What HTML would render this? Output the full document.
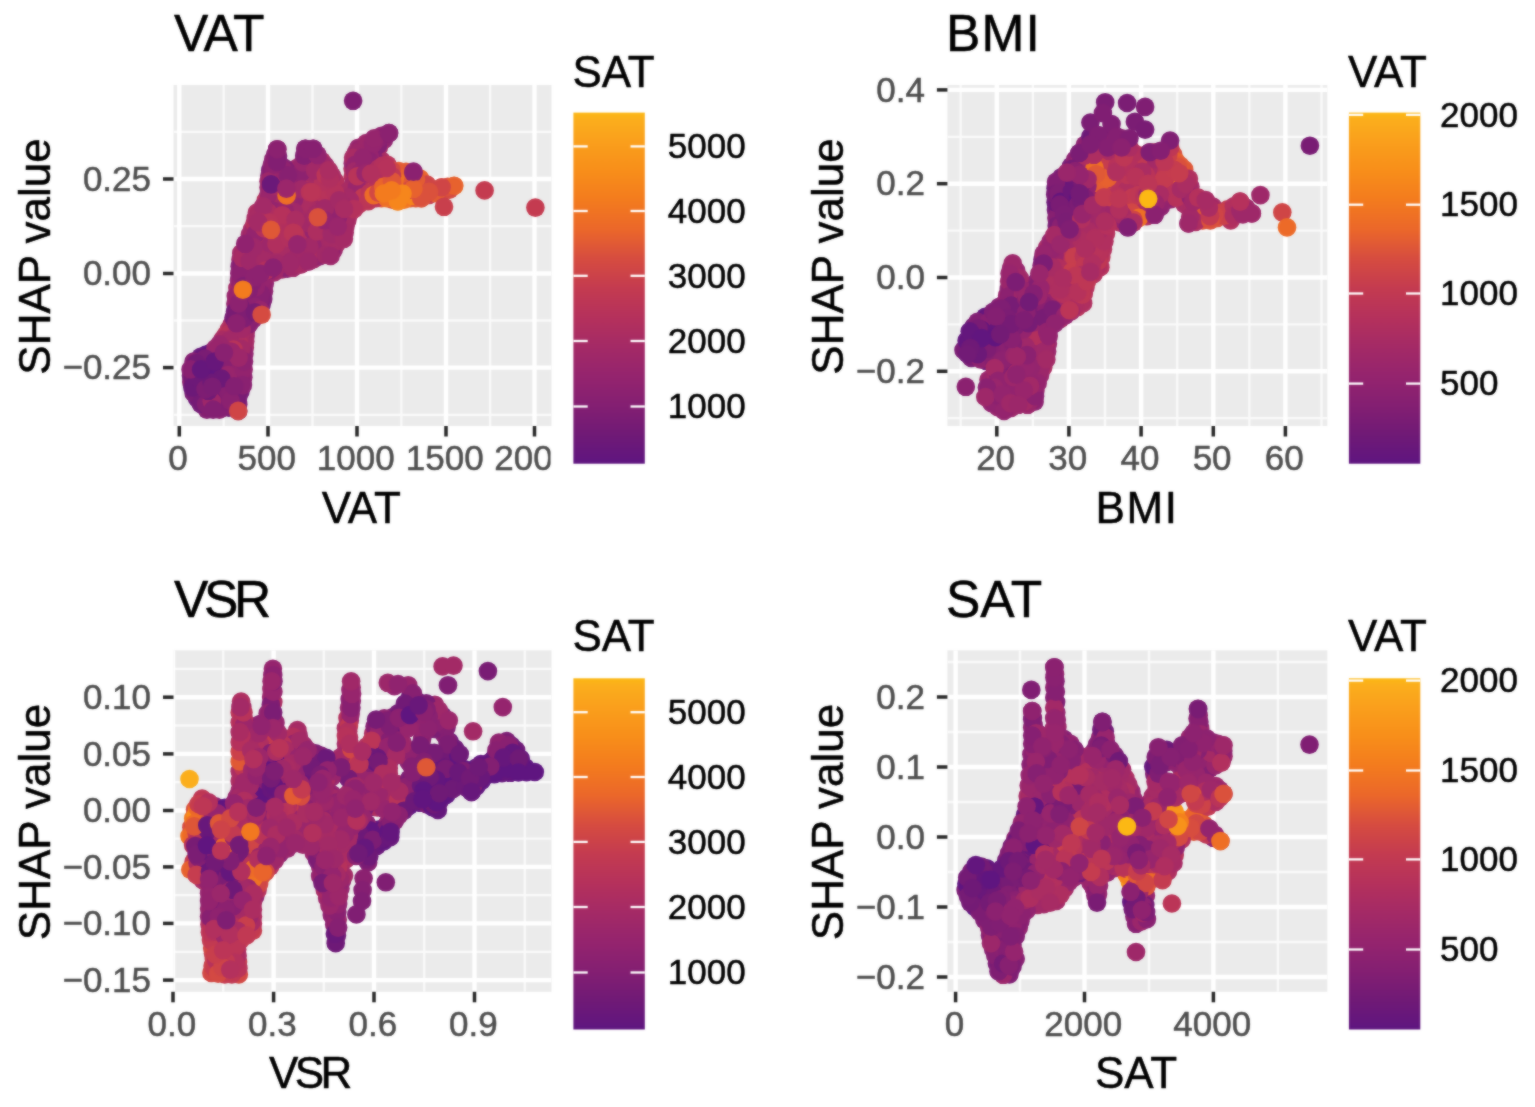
<!DOCTYPE html>
<html lang="en">
<head>
<meta charset="utf-8">
<title>SHAP dependence plots</title>
<style>
html,body{margin:0;padding:0;background:#fff;}
body{width:1535px;height:1107px;overflow:hidden;}
svg{display:block;font-family:"Liberation Sans", Arial, Helvetica, sans-serif;}
svg text{font-family:"Liberation Sans", Arial, Helvetica, sans-serif;stroke-width:0.5px;stroke-linejoin:round;paint-order:stroke fill;}
svg text.k{stroke:#000;}
svg g.t text{stroke:#4D4D4D;}
svg g.l text{stroke:#000;}

</style>
</head>
<body>
<svg width="1535" height="1107" viewBox="0 0 1535 1107" role="img" aria-label="SHAP dependence plots for VAT, BMI, VSR and SAT">
<defs><filter id="soft" x="0" y="0" width="1535" height="1107" filterUnits="userSpaceOnUse" color-interpolation-filters="sRGB"><feGaussianBlur in="SourceGraphic" stdDeviation="0.9" result="b"/><feComposite in="SourceGraphic" in2="b" operator="arithmetic" k1="0" k2="0.45" k3="0.55" k4="0"/></filter></defs>
<g filter="url(#soft)">
<rect width="1535" height="1107" fill="#FFFFFF"/>
<g class="panel" id="p1">
<rect x="173.5" y="85" width="378" height="341" fill="#EBEBEB"/>
<clipPath id="clip-p1"><rect x="173.5" y="85" width="378" height="341"/></clipPath>
<g clip-path="url(#clip-p1)">
<line x1="223.7" x2="223.7" y1="85" y2="426" stroke="#FAFAFA" stroke-width="2.3"/>
<line x1="312.5" x2="312.5" y1="85" y2="426" stroke="#FAFAFA" stroke-width="2.3"/>
<line x1="401.3" x2="401.3" y1="85" y2="426" stroke="#FAFAFA" stroke-width="2.3"/>
<line x1="490.1" x2="490.1" y1="85" y2="426" stroke="#FAFAFA" stroke-width="2.3"/>
<line x1="173.5" x2="551.5" y1="131.8" y2="131.8" stroke="#FAFAFA" stroke-width="2.3"/>
<line x1="173.5" x2="551.5" y1="226.2" y2="226.2" stroke="#FAFAFA" stroke-width="2.3"/>
<line x1="173.5" x2="551.5" y1="320.5" y2="320.5" stroke="#FAFAFA" stroke-width="2.3"/>
<line x1="173.5" x2="551.5" y1="414.8" y2="414.8" stroke="#FAFAFA" stroke-width="2.3"/>
<line x1="179.3" x2="179.3" y1="85" y2="426" stroke="#FFFFFF" stroke-width="4.4"/>
<line x1="268" x2="268" y1="85" y2="426" stroke="#FFFFFF" stroke-width="4.4"/>
<line x1="357" x2="357" y1="85" y2="426" stroke="#FFFFFF" stroke-width="4.4"/>
<line x1="446" x2="446" y1="85" y2="426" stroke="#FFFFFF" stroke-width="4.4"/>
<line x1="534.5" x2="534.5" y1="85" y2="426" stroke="#FFFFFF" stroke-width="4.4"/>
<line x1="173.5" x2="551.5" y1="179" y2="179" stroke="#FFFFFF" stroke-width="4.4"/>
<line x1="173.5" x2="551.5" y1="273.5" y2="273.5" stroke="#FFFFFF" stroke-width="4.4"/>
<line x1="173.5" x2="551.5" y1="367.6" y2="367.6" stroke="#FFFFFF" stroke-width="4.4"/>
</g>
<g class="points">
<circle cx="375.7" cy="156.3" r="9.3" fill="#99266C"/>
<circle cx="424.7" cy="194.4" r="9.3" fill="#E9652C"/>
<circle cx="313.2" cy="148.8" r="9.3" fill="#801E73"/>
<circle cx="318.5" cy="173" r="9.3" fill="#AF2E60"/>
<circle cx="352.8" cy="176.6" r="9.3" fill="#B3305D"/>
<circle cx="377.3" cy="182.7" r="9.3" fill="#CD4448"/>
<circle cx="268.6" cy="187.6" r="9.3" fill="#9B276B"/>
<circle cx="244" cy="268.5" r="9.3" fill="#97256D"/>
<circle cx="275.4" cy="180.5" r="9.3" fill="#872071"/>
<circle cx="358.5" cy="147.7" r="9.3" fill="#97256D"/>
<circle cx="222.9" cy="386.9" r="9.3" fill="#731B75"/>
<circle cx="197.1" cy="398.4" r="9.3" fill="#6D1978"/>
<circle cx="261.2" cy="244.7" r="9.3" fill="#A52A66"/>
<circle cx="283.4" cy="195.5" r="9.3" fill="#9C276A"/>
<circle cx="257.7" cy="301.3" r="9.3" fill="#781C74"/>
<circle cx="280.6" cy="246.9" r="9.3" fill="#B12F5E"/>
<circle cx="422" cy="190.1" r="9.3" fill="#ED6C27"/>
<circle cx="260.6" cy="246.7" r="9.3" fill="#9E2769"/>
<circle cx="269.8" cy="231.6" r="9.3" fill="#94246E"/>
<circle cx="308.4" cy="203.4" r="9.3" fill="#B83359"/>
<circle cx="340.3" cy="221.4" r="9.3" fill="#97256D"/>
<circle cx="408.7" cy="176.6" r="9.3" fill="#CE4447"/>
<circle cx="340.8" cy="215.1" r="9.3" fill="#A72B64"/>
<circle cx="273.3" cy="159.4" r="9.3" fill="#8D2270"/>
<circle cx="328.8" cy="226.9" r="9.3" fill="#9F2869"/>
<circle cx="307.7" cy="228.2" r="9.3" fill="#AC2D61"/>
<circle cx="328.3" cy="188.3" r="9.3" fill="#C33A51"/>
<circle cx="307.1" cy="172.9" r="9.3" fill="#97256D"/>
<circle cx="245.6" cy="335.8" r="9.3" fill="#9D276A"/>
<circle cx="358.9" cy="158.5" r="9.3" fill="#9E2869"/>
<circle cx="206.9" cy="409.6" r="9.3" fill="#851F72"/>
<circle cx="242" cy="265.5" r="9.3" fill="#A52B65"/>
<circle cx="350.9" cy="196" r="9.3" fill="#A12968"/>
<circle cx="253.1" cy="261.1" r="9.3" fill="#882071"/>
<circle cx="307.7" cy="162.7" r="9.3" fill="#9A266C"/>
<circle cx="289.2" cy="209.7" r="9.3" fill="#90236F"/>
<circle cx="218.4" cy="375.2" r="9.3" fill="#6D1978"/>
<circle cx="300.2" cy="261.8" r="9.3" fill="#99256C"/>
<circle cx="295.8" cy="189.1" r="9.3" fill="#8D2270"/>
<circle cx="350.1" cy="210.9" r="9.3" fill="#B6315B"/>
<circle cx="242.3" cy="318.7" r="9.3" fill="#731B75"/>
<circle cx="256.9" cy="314.7" r="9.3" fill="#8C2170"/>
<circle cx="214.9" cy="407.1" r="9.3" fill="#8A2171"/>
<circle cx="289.1" cy="250" r="9.3" fill="#AF2F5F"/>
<circle cx="442.7" cy="191.4" r="9.3" fill="#CA414B"/>
<circle cx="314" cy="259" r="9.3" fill="#A12968"/>
<circle cx="318.8" cy="200.6" r="9.3" fill="#AC2D61"/>
<circle cx="293.7" cy="184.2" r="9.3" fill="#9B266B"/>
<circle cx="281.9" cy="198.2" r="9.3" fill="#8D2270"/>
<circle cx="245.8" cy="252.6" r="9.3" fill="#96246E"/>
<circle cx="289.1" cy="228.3" r="9.3" fill="#AA2D62"/>
<circle cx="282" cy="269.4" r="9.3" fill="#A12968"/>
<circle cx="245.2" cy="276.9" r="9.3" fill="#862072"/>
<circle cx="235.9" cy="321.7" r="9.3" fill="#882071"/>
<circle cx="276.9" cy="198.2" r="9.3" fill="#A32A67"/>
<circle cx="294.3" cy="176" r="9.3" fill="#A12967"/>
<circle cx="316.7" cy="187.8" r="9.3" fill="#AF2F5F"/>
<circle cx="277.4" cy="168.5" r="9.3" fill="#7F1E73"/>
<circle cx="321.8" cy="161" r="9.3" fill="#AB2D62"/>
<circle cx="244.2" cy="298.8" r="9.3" fill="#91236F"/>
<circle cx="307.2" cy="239.2" r="9.3" fill="#A82B64"/>
<circle cx="316.8" cy="184.1" r="9.3" fill="#B6325B"/>
<circle cx="397.8" cy="201.3" r="9.3" fill="#F17621"/>
<circle cx="249.4" cy="310.5" r="9.3" fill="#7C1D74"/>
<circle cx="273.5" cy="269" r="9.3" fill="#AE2E60"/>
<circle cx="245.2" cy="265.3" r="9.3" fill="#99266C"/>
<circle cx="342.1" cy="198.5" r="9.3" fill="#B4315D"/>
<circle cx="289.5" cy="187.7" r="9.3" fill="#A22967"/>
<circle cx="232.5" cy="358.9" r="9.3" fill="#882071"/>
<circle cx="322" cy="166" r="9.3" fill="#A32967"/>
<circle cx="422.6" cy="184.6" r="9.3" fill="#DA513C"/>
<circle cx="270.2" cy="170.4" r="9.3" fill="#7B1D74"/>
<circle cx="415.8" cy="198.2" r="9.3" fill="#DF5836"/>
<circle cx="301.5" cy="213.4" r="9.3" fill="#A32A67"/>
<circle cx="235.7" cy="343.1" r="9.3" fill="#BD3656"/>
<circle cx="330.3" cy="214.7" r="9.3" fill="#A72B64"/>
<circle cx="337.1" cy="231.5" r="9.3" fill="#9E2869"/>
<circle cx="193.1" cy="371.2" r="9.3" fill="#93236F"/>
<circle cx="263" cy="231.9" r="9.3" fill="#AA2C63"/>
<circle cx="284.4" cy="245.3" r="9.3" fill="#B4305D"/>
<circle cx="283.1" cy="227.4" r="9.3" fill="#B3305D"/>
<circle cx="320.7" cy="195.1" r="9.3" fill="#A92C63"/>
<circle cx="228.8" cy="407.7" r="9.3" fill="#761B75"/>
<circle cx="362.7" cy="165.5" r="9.3" fill="#8B2170"/>
<circle cx="339.6" cy="237.2" r="9.3" fill="#9F2869"/>
<circle cx="300.1" cy="220.5" r="9.3" fill="#AD2E61"/>
<circle cx="201.4" cy="374.9" r="9.3" fill="#701A76"/>
<circle cx="216.2" cy="399" r="9.3" fill="#851F72"/>
<circle cx="245.2" cy="341.3" r="9.3" fill="#A62B65"/>
<circle cx="381.4" cy="198.2" r="9.3" fill="#E25B34"/>
<circle cx="214.5" cy="403.1" r="9.3" fill="#90226F"/>
<circle cx="268" cy="199.4" r="9.3" fill="#96246E"/>
<circle cx="242.3" cy="358.3" r="9.3" fill="#751B75"/>
<circle cx="299.1" cy="173.6" r="9.3" fill="#91236F"/>
<circle cx="362.6" cy="176.7" r="9.3" fill="#A42A66"/>
<circle cx="384.4" cy="184.8" r="9.3" fill="#E25B34"/>
<circle cx="315.4" cy="178.5" r="9.3" fill="#A02968"/>
<circle cx="300.3" cy="224.5" r="9.3" fill="#B8335A"/>
<circle cx="277" cy="192.7" r="9.3" fill="#98256C"/>
<circle cx="314.6" cy="160.7" r="9.3" fill="#8E2270"/>
<circle cx="301" cy="240.7" r="9.3" fill="#99266C"/>
<circle cx="312.1" cy="202.9" r="9.3" fill="#AF2F5F"/>
<circle cx="229.8" cy="393.4" r="9.3" fill="#791C74"/>
<circle cx="327.5" cy="197.7" r="9.3" fill="#9F2869"/>
<circle cx="352.6" cy="168.8" r="9.3" fill="#AF2E60"/>
<circle cx="319.1" cy="213.3" r="9.3" fill="#A72B64"/>
<circle cx="387.4" cy="171.3" r="9.3" fill="#B3305D"/>
<circle cx="302.9" cy="256.3" r="9.3" fill="#AE2E60"/>
<circle cx="279.5" cy="186.4" r="9.3" fill="#98256D"/>
<circle cx="407" cy="184.8" r="9.3" fill="#EC6929"/>
<circle cx="310" cy="200.1" r="9.3" fill="#AE2E60"/>
<circle cx="231.9" cy="324.1" r="9.3" fill="#A32A66"/>
<circle cx="249.1" cy="245.5" r="9.3" fill="#9F2869"/>
<circle cx="390.3" cy="193.9" r="9.3" fill="#E8632E"/>
<circle cx="285.2" cy="219.9" r="9.3" fill="#A12968"/>
<circle cx="198.5" cy="383" r="9.3" fill="#63167E"/>
<circle cx="248.5" cy="281.6" r="9.3" fill="#862071"/>
<circle cx="340.6" cy="228.1" r="9.3" fill="#A12968"/>
<circle cx="228.8" cy="329.6" r="9.3" fill="#B02F5F"/>
<circle cx="383.9" cy="140" r="9.3" fill="#91236F"/>
<circle cx="252.4" cy="304.2" r="9.3" fill="#8F226F"/>
<circle cx="329.9" cy="240" r="9.3" fill="#AE2E60"/>
<circle cx="252.2" cy="229" r="9.3" fill="#AA2C63"/>
<circle cx="260.6" cy="229.1" r="9.3" fill="#A22967"/>
<circle cx="333.3" cy="190.1" r="9.3" fill="#BE3755"/>
<circle cx="287.5" cy="215.1" r="9.3" fill="#9B266B"/>
<circle cx="345.6" cy="203.2" r="9.3" fill="#AD2E61"/>
<circle cx="249.9" cy="234.5" r="9.3" fill="#A12968"/>
<circle cx="233.2" cy="332.3" r="9.3" fill="#BB3557"/>
<circle cx="378.9" cy="146.9" r="9.3" fill="#A62B65"/>
<circle cx="244.8" cy="347.6" r="9.3" fill="#A42A66"/>
<circle cx="207.9" cy="374.2" r="9.3" fill="#791C74"/>
<circle cx="320.5" cy="198.7" r="9.3" fill="#B6325B"/>
<circle cx="336" cy="196.9" r="9.3" fill="#AD2E61"/>
<circle cx="263.5" cy="237.4" r="9.3" fill="#AA2C63"/>
<circle cx="381.6" cy="160.6" r="9.3" fill="#A92C63"/>
<circle cx="337.4" cy="203.5" r="9.3" fill="#A92C63"/>
<circle cx="367.6" cy="183.7" r="9.3" fill="#A92C63"/>
<circle cx="215.2" cy="359.6" r="9.3" fill="#6A1879"/>
<circle cx="303" cy="180.2" r="9.3" fill="#AA2D62"/>
<circle cx="364.1" cy="149.7" r="9.3" fill="#801E73"/>
<circle cx="329.4" cy="242.5" r="9.3" fill="#93236F"/>
<circle cx="203.8" cy="386.3" r="9.3" fill="#9F2869"/>
<circle cx="398.7" cy="171.1" r="9.3" fill="#E35C33"/>
<circle cx="210.5" cy="357.6" r="9.3" fill="#6C1978"/>
<circle cx="259" cy="235.4" r="9.3" fill="#A32A67"/>
<circle cx="441.6" cy="187.5" r="9.3" fill="#DC533A"/>
<circle cx="238.2" cy="404.2" r="9.3" fill="#7D1D73"/>
<circle cx="261.6" cy="304.6" r="9.3" fill="#721A76"/>
<circle cx="231.4" cy="371" r="9.3" fill="#8F226F"/>
<circle cx="270.3" cy="261.2" r="9.3" fill="#B12F5F"/>
<circle cx="392.4" cy="199.7" r="9.3" fill="#D84F3D"/>
<circle cx="254.6" cy="223.5" r="9.3" fill="#B3305D"/>
<circle cx="278.2" cy="172.4" r="9.3" fill="#8D2270"/>
<circle cx="369.9" cy="147.3" r="9.3" fill="#91236F"/>
<circle cx="256.8" cy="297.5" r="9.3" fill="#7E1D73"/>
<circle cx="345.5" cy="219.5" r="9.3" fill="#9C276A"/>
<circle cx="293.4" cy="195.8" r="9.3" fill="#A92C63"/>
<circle cx="376" cy="198.2" r="9.3" fill="#BE3755"/>
<circle cx="264" cy="291.3" r="9.3" fill="#8E2270"/>
<circle cx="219.4" cy="409.6" r="9.3" fill="#8B2170"/>
<circle cx="305.7" cy="230.3" r="9.3" fill="#AA2D62"/>
<circle cx="246" cy="330.4" r="9.3" fill="#A22967"/>
<circle cx="269.4" cy="175.8" r="9.3" fill="#882071"/>
<circle cx="206.8" cy="365.1" r="9.3" fill="#6E1977"/>
<circle cx="244.3" cy="329.9" r="9.3" fill="#A52B65"/>
<circle cx="321.7" cy="225.1" r="9.3" fill="#9C276A"/>
<circle cx="410.4" cy="198.2" r="9.3" fill="#E25B34"/>
<circle cx="321.9" cy="250.7" r="9.3" fill="#99256C"/>
<circle cx="394.8" cy="181.4" r="9.3" fill="#EF7025"/>
<circle cx="319.2" cy="241" r="9.3" fill="#B3305D"/>
<circle cx="275.9" cy="225.3" r="9.3" fill="#A72B64"/>
<circle cx="295.7" cy="216.7" r="9.3" fill="#9F2869"/>
<circle cx="241.3" cy="253.2" r="9.3" fill="#A42A66"/>
<circle cx="353.1" cy="184.4" r="9.3" fill="#A32A67"/>
<circle cx="264.3" cy="266.9" r="9.3" fill="#B2305E"/>
<circle cx="235.2" cy="403" r="9.3" fill="#96246E"/>
<circle cx="258.3" cy="242.3" r="9.3" fill="#95246E"/>
<circle cx="323" cy="190.2" r="9.3" fill="#A92C63"/>
<circle cx="239.8" cy="337.1" r="9.3" fill="#A82C63"/>
<circle cx="253" cy="319.4" r="9.3" fill="#93236F"/>
<circle cx="328.6" cy="232.4" r="9.3" fill="#9A266B"/>
<circle cx="193.6" cy="392.9" r="9.3" fill="#791C74"/>
<circle cx="249.5" cy="296.5" r="9.3" fill="#7A1C74"/>
<circle cx="223.3" cy="363.7" r="9.3" fill="#5F1580"/>
<circle cx="221.5" cy="403.3" r="9.3" fill="#882071"/>
<circle cx="261.1" cy="287.4" r="9.3" fill="#9C276A"/>
<circle cx="320.2" cy="178.7" r="9.3" fill="#AE2E60"/>
<circle cx="288.9" cy="257.9" r="9.3" fill="#AD2E60"/>
<circle cx="320.7" cy="183.2" r="9.3" fill="#B83359"/>
<circle cx="366.1" cy="198.1" r="9.3" fill="#BC3557"/>
<circle cx="338.6" cy="189.9" r="9.3" fill="#A02868"/>
<circle cx="217.7" cy="389.3" r="9.3" fill="#6E1977"/>
<circle cx="314.2" cy="226.8" r="9.3" fill="#AD2E61"/>
<circle cx="247.8" cy="308.3" r="9.3" fill="#8D2270"/>
<circle cx="243.8" cy="324.8" r="9.3" fill="#98256D"/>
<circle cx="332" cy="243.8" r="9.3" fill="#96246D"/>
<circle cx="259.7" cy="272.8" r="9.3" fill="#99266C"/>
<circle cx="401.7" cy="190.5" r="9.3" fill="#F7891B"/>
<circle cx="221.8" cy="368.7" r="9.3" fill="#7B1D74"/>
<circle cx="254.6" cy="291.5" r="9.3" fill="#872071"/>
<circle cx="250.9" cy="264.3" r="9.3" fill="#9F2869"/>
<circle cx="278.8" cy="162.5" r="9.3" fill="#862072"/>
<circle cx="211.6" cy="352.2" r="9.3" fill="#701A76"/>
<circle cx="364.8" cy="187.9" r="9.3" fill="#A62B65"/>
<circle cx="238.6" cy="296.2" r="9.3" fill="#A72B64"/>
<circle cx="297.6" cy="191.6" r="9.3" fill="#B2305E"/>
<circle cx="237.8" cy="354.7" r="9.3" fill="#9F2869"/>
<circle cx="236" cy="396.9" r="9.3" fill="#7B1D74"/>
<circle cx="302.5" cy="209.6" r="9.3" fill="#A42A66"/>
<circle cx="381.6" cy="135.7" r="9.3" fill="#91236F"/>
<circle cx="406" cy="190" r="9.3" fill="#ED6B28"/>
<circle cx="278.4" cy="230" r="9.3" fill="#A42A66"/>
<circle cx="413.3" cy="172.7" r="9.3" fill="#EE6D26"/>
<circle cx="237.9" cy="384.9" r="9.3" fill="#721B76"/>
<circle cx="275.5" cy="219.2" r="9.3" fill="#9D276A"/>
<circle cx="325.3" cy="165.7" r="9.3" fill="#9F2869"/>
<circle cx="274.6" cy="197.8" r="9.3" fill="#9F2869"/>
<circle cx="199.9" cy="390.2" r="9.3" fill="#731B75"/>
<circle cx="372.2" cy="187.6" r="9.3" fill="#C53C50"/>
<circle cx="326.1" cy="220.3" r="9.3" fill="#9E2869"/>
<circle cx="265.9" cy="200.1" r="9.3" fill="#B6325B"/>
<circle cx="277.2" cy="205.8" r="9.3" fill="#97256D"/>
<circle cx="278.2" cy="213.8" r="9.3" fill="#97256D"/>
<circle cx="223" cy="372.7" r="9.3" fill="#7B1D74"/>
<circle cx="238.7" cy="378.5" r="9.3" fill="#68187B"/>
<circle cx="233.2" cy="350.7" r="9.3" fill="#A22967"/>
<circle cx="207.3" cy="396.4" r="9.3" fill="#781C74"/>
<circle cx="275.3" cy="154.3" r="9.3" fill="#892071"/>
<circle cx="418.9" cy="192.1" r="9.3" fill="#E45E31"/>
<circle cx="225.7" cy="335" r="9.3" fill="#B7335A"/>
<circle cx="283.1" cy="235.9" r="9.3" fill="#A72B64"/>
<circle cx="363.2" cy="182.6" r="9.3" fill="#B02F5F"/>
<circle cx="249.1" cy="324.1" r="9.3" fill="#892071"/>
<circle cx="364" cy="191.4" r="9.3" fill="#BC3656"/>
<circle cx="302.6" cy="261.8" r="9.3" fill="#A32A67"/>
<circle cx="303" cy="235.2" r="9.3" fill="#A92C63"/>
<circle cx="272.6" cy="204" r="9.3" fill="#99256C"/>
<circle cx="198" cy="386.4" r="9.3" fill="#7A1D74"/>
<circle cx="203.7" cy="398.7" r="9.3" fill="#711A76"/>
<circle cx="233.5" cy="337.3" r="9.3" fill="#AC2D61"/>
<circle cx="378.3" cy="144.9" r="9.3" fill="#841F72"/>
<circle cx="381.4" cy="178.8" r="9.3" fill="#C03854"/>
<circle cx="244.4" cy="353.8" r="9.3" fill="#92236F"/>
<circle cx="326.3" cy="248" r="9.3" fill="#A72B64"/>
<circle cx="278" cy="155.9" r="9.3" fill="#811E73"/>
<circle cx="407.7" cy="194.9" r="9.3" fill="#F78A1B"/>
<circle cx="231.5" cy="396.6" r="9.3" fill="#892071"/>
<circle cx="234.9" cy="364.4" r="9.3" fill="#861F72"/>
<circle cx="255.3" cy="236.4" r="9.3" fill="#93236F"/>
<circle cx="371.8" cy="197" r="9.3" fill="#D24844"/>
<circle cx="454.1" cy="186" r="9.3" fill="#F37C1E"/>
<circle cx="347.4" cy="220.1" r="9.3" fill="#A92C63"/>
<circle cx="378.3" cy="138.9" r="9.3" fill="#8C2170"/>
<circle cx="239.3" cy="343.5" r="9.3" fill="#B02F5F"/>
<circle cx="296.8" cy="168" r="9.3" fill="#9E2769"/>
<circle cx="217.5" cy="380.2" r="9.3" fill="#7D1D73"/>
<circle cx="206.3" cy="381.7" r="9.3" fill="#6E1977"/>
<circle cx="429.1" cy="195" r="9.3" fill="#C63C4F"/>
<circle cx="358.8" cy="204.4" r="9.3" fill="#BB3558"/>
<circle cx="324.5" cy="204.3" r="9.3" fill="#A92C63"/>
<circle cx="317.4" cy="166.8" r="9.3" fill="#9D2769"/>
<circle cx="209.4" cy="367.8" r="9.3" fill="#68187A"/>
<circle cx="242.1" cy="294.9" r="9.3" fill="#90226F"/>
<circle cx="238.2" cy="410.9" r="9.3" fill="#7B1D74"/>
<circle cx="374.2" cy="159.6" r="9.3" fill="#872071"/>
<circle cx="270.7" cy="237.4" r="9.3" fill="#A32967"/>
<circle cx="368.8" cy="153.1" r="9.3" fill="#95246E"/>
<circle cx="309.6" cy="167" r="9.3" fill="#A72B65"/>
<circle cx="287.4" cy="268.6" r="9.3" fill="#8B2170"/>
<circle cx="315.7" cy="249.1" r="9.3" fill="#9F2868"/>
<circle cx="307.8" cy="216.8" r="9.3" fill="#9D276A"/>
<circle cx="222.6" cy="394.7" r="9.3" fill="#751B75"/>
<circle cx="206.1" cy="354.6" r="9.3" fill="#601580"/>
<circle cx="217" cy="350.9" r="9.3" fill="#771C75"/>
<circle cx="368.7" cy="175.1" r="9.3" fill="#B7325B"/>
<circle cx="352.8" cy="163.3" r="9.3" fill="#97256D"/>
<circle cx="237.4" cy="288.1" r="9.3" fill="#A52A66"/>
<circle cx="273.1" cy="254.4" r="9.3" fill="#9F2868"/>
<circle cx="414.8" cy="189.4" r="9.3" fill="#D64C40"/>
<circle cx="235.4" cy="303.8" r="9.3" fill="#96246E"/>
<circle cx="404.8" cy="191.3" r="9.3" fill="#F5831C"/>
<circle cx="332.8" cy="194.1" r="9.3" fill="#9B276B"/>
<circle cx="258.7" cy="263.8" r="9.3" fill="#9B266B"/>
<circle cx="316.2" cy="209.5" r="9.3" fill="#A72B64"/>
<circle cx="318.2" cy="237.8" r="9.3" fill="#B02F5F"/>
<circle cx="211.8" cy="394.9" r="9.3" fill="#841F72"/>
<circle cx="240.5" cy="259.7" r="9.3" fill="#9F2869"/>
<circle cx="335.1" cy="181.3" r="9.3" fill="#B4315D"/>
<circle cx="241.8" cy="282" r="9.3" fill="#811E73"/>
<circle cx="404.1" cy="199.7" r="9.3" fill="#F17621"/>
<circle cx="277.6" cy="235.7" r="9.3" fill="#A82C64"/>
<circle cx="449.4" cy="189.6" r="9.3" fill="#D44A41"/>
<circle cx="251.3" cy="253.4" r="9.3" fill="#97256D"/>
<circle cx="387.5" cy="164.9" r="9.3" fill="#B8335A"/>
<circle cx="370" cy="157.4" r="9.3" fill="#96246E"/>
<circle cx="208" cy="384.2" r="9.3" fill="#711A76"/>
<circle cx="287.9" cy="191.8" r="9.3" fill="#9D276A"/>
<circle cx="256.9" cy="212.6" r="9.3" fill="#AC2D61"/>
<circle cx="308.4" cy="183.6" r="9.3" fill="#AD2E60"/>
<circle cx="200.7" cy="403.8" r="9.3" fill="#741B75"/>
<circle cx="290.5" cy="173.5" r="9.3" fill="#882071"/>
<circle cx="226.5" cy="368.9" r="9.3" fill="#7D1D73"/>
<circle cx="222.6" cy="407.2" r="9.3" fill="#851F72"/>
<circle cx="217.7" cy="386.9" r="9.3" fill="#731B75"/>
<circle cx="297.4" cy="264.1" r="9.3" fill="#90226F"/>
<circle cx="280.8" cy="257.5" r="9.3" fill="#B02F5F"/>
<circle cx="291.9" cy="238.2" r="9.3" fill="#A22967"/>
<circle cx="271.8" cy="164.9" r="9.3" fill="#8C2170"/>
<circle cx="263.2" cy="299.1" r="9.3" fill="#801E73"/>
<circle cx="374" cy="141.1" r="9.3" fill="#94246E"/>
<circle cx="358.1" cy="193.8" r="9.3" fill="#95246E"/>
<circle cx="280.8" cy="211.5" r="9.3" fill="#A92C63"/>
<circle cx="366.3" cy="143" r="9.3" fill="#9C276A"/>
<circle cx="420.1" cy="178.6" r="9.3" fill="#EA652B"/>
<circle cx="287.1" cy="173.1" r="9.3" fill="#93236E"/>
<circle cx="283.4" cy="202.3" r="9.3" fill="#A72B64"/>
<circle cx="236.8" cy="350" r="9.3" fill="#A02868"/>
<circle cx="252" cy="276.7" r="9.3" fill="#98256C"/>
<circle cx="331.1" cy="202.8" r="9.3" fill="#91236F"/>
<circle cx="293.9" cy="246.7" r="9.3" fill="#A82C63"/>
<circle cx="270.8" cy="217.8" r="9.3" fill="#A02868"/>
<circle cx="252" cy="288.1" r="9.3" fill="#862071"/>
<circle cx="285.2" cy="263.8" r="9.3" fill="#98256C"/>
<circle cx="267.6" cy="252.1" r="9.3" fill="#BA3458"/>
<circle cx="387.2" cy="192.4" r="9.3" fill="#E7622E"/>
<circle cx="263.2" cy="253.7" r="9.3" fill="#90236F"/>
<circle cx="276.2" cy="248.9" r="9.3" fill="#A32A66"/>
<circle cx="235.8" cy="296" r="9.3" fill="#98256C"/>
<circle cx="305.2" cy="227.7" r="9.3" fill="#9E2869"/>
<circle cx="288.8" cy="255.1" r="9.3" fill="#AC2D61"/>
<circle cx="325.5" cy="173" r="9.3" fill="#B12F5E"/>
<circle cx="302.5" cy="177.2" r="9.3" fill="#9D276A"/>
<circle cx="255.3" cy="272.5" r="9.3" fill="#8F226F"/>
<circle cx="250.2" cy="272" r="9.3" fill="#7F1E73"/>
<circle cx="281" cy="254.4" r="9.3" fill="#AE2E60"/>
<circle cx="269.1" cy="243.8" r="9.3" fill="#B4305D"/>
<circle cx="361.6" cy="186" r="9.3" fill="#AB2D62"/>
<circle cx="395.3" cy="195.6" r="9.3" fill="#EF7223"/>
<circle cx="323.1" cy="235.7" r="9.3" fill="#9D276A"/>
<circle cx="263.3" cy="213.2" r="9.3" fill="#B6325B"/>
<circle cx="306.4" cy="164" r="9.3" fill="#9D276A"/>
<circle cx="273.5" cy="259.6" r="9.3" fill="#A32967"/>
<circle cx="229.5" cy="364.3" r="9.3" fill="#872071"/>
<circle cx="249.8" cy="306" r="9.3" fill="#8A2171"/>
<circle cx="336.7" cy="210.4" r="9.3" fill="#A12967"/>
<circle cx="290.3" cy="240.8" r="9.3" fill="#BC3557"/>
<circle cx="381.5" cy="184.3" r="9.3" fill="#D74E3F"/>
<circle cx="217" cy="366" r="9.3" fill="#5F1580"/>
<circle cx="319.4" cy="256.3" r="9.3" fill="#90236F"/>
<circle cx="306.8" cy="179.6" r="9.3" fill="#A52A66"/>
<circle cx="239.7" cy="266.3" r="9.3" fill="#862072"/>
<circle cx="222.5" cy="339.7" r="9.3" fill="#A92C63"/>
<circle cx="351.8" cy="205.7" r="9.3" fill="#BC3656"/>
<circle cx="333.7" cy="249.8" r="9.3" fill="#9A266B"/>
<circle cx="320.4" cy="202.3" r="9.3" fill="#A22967"/>
<circle cx="447.9" cy="186.8" r="9.3" fill="#DA513C"/>
<circle cx="200.7" cy="356.9" r="9.3" fill="#68187B"/>
<circle cx="412.8" cy="195.8" r="9.3" fill="#F6861C"/>
<circle cx="332" cy="175.8" r="9.3" fill="#A92C63"/>
<circle cx="328.8" cy="249.3" r="9.3" fill="#A12968"/>
<circle cx="298.6" cy="200.7" r="9.3" fill="#AF2F60"/>
<circle cx="274.1" cy="272.5" r="9.3" fill="#A02868"/>
<circle cx="377.2" cy="172.3" r="9.3" fill="#B8335A"/>
<circle cx="286" cy="204.1" r="9.3" fill="#9D276A"/>
<circle cx="353.4" cy="197.9" r="9.3" fill="#94246E"/>
<circle cx="268.5" cy="229.1" r="9.3" fill="#A12967"/>
<circle cx="425.2" cy="189.6" r="9.3" fill="#DB523B"/>
<circle cx="347.6" cy="191.5" r="9.3" fill="#A92C63"/>
<circle cx="336.9" cy="243.5" r="9.3" fill="#A52A65"/>
<circle cx="331.3" cy="249.9" r="9.3" fill="#91236F"/>
<circle cx="214.3" cy="374.7" r="9.3" fill="#711A76"/>
<circle cx="325.6" cy="215.6" r="9.3" fill="#A62B65"/>
<circle cx="324.2" cy="233.9" r="9.3" fill="#9E2869"/>
<circle cx="417" cy="185" r="9.3" fill="#E8642D"/>
<circle cx="289.4" cy="234.4" r="9.3" fill="#B5315C"/>
<circle cx="256.6" cy="252.6" r="9.3" fill="#A02868"/>
<circle cx="297" cy="206" r="9.3" fill="#96246D"/>
<circle cx="227.7" cy="386.1" r="9.3" fill="#6D1978"/>
<circle cx="209.2" cy="406.1" r="9.3" fill="#872071"/>
<circle cx="367.4" cy="168.6" r="9.3" fill="#841F72"/>
<circle cx="264.8" cy="283.5" r="9.3" fill="#93236F"/>
<circle cx="360.4" cy="182.9" r="9.3" fill="#B12F5F"/>
<circle cx="291.7" cy="218.8" r="9.3" fill="#94246E"/>
<circle cx="399.5" cy="178.2" r="9.3" fill="#EF7124"/>
<circle cx="317.6" cy="255.1" r="9.3" fill="#94246E"/>
<circle cx="284.7" cy="168" r="9.3" fill="#851F72"/>
<circle cx="266.3" cy="275.6" r="9.3" fill="#9B266B"/>
<circle cx="193.6" cy="361.6" r="9.3" fill="#851F72"/>
<circle cx="356.9" cy="187.2" r="9.3" fill="#99266C"/>
<circle cx="315.6" cy="238.7" r="9.3" fill="#8F226F"/>
<circle cx="277.2" cy="149.2" r="9.3" fill="#96246E"/>
<circle cx="349.4" cy="213.8" r="9.3" fill="#A82B64"/>
<circle cx="302" cy="192.7" r="9.3" fill="#AB2D62"/>
<circle cx="235" cy="311.6" r="9.3" fill="#721A76"/>
<circle cx="309.8" cy="210.2" r="9.3" fill="#98256C"/>
<circle cx="297.3" cy="181.8" r="9.3" fill="#90236F"/>
<circle cx="310.5" cy="177.3" r="9.3" fill="#A42A66"/>
<circle cx="236.7" cy="314.5" r="9.3" fill="#851F72"/>
<circle cx="274.3" cy="232.6" r="9.3" fill="#A92C63"/>
<circle cx="282.9" cy="169.5" r="9.3" fill="#91236F"/>
<circle cx="292.9" cy="267.8" r="9.3" fill="#A02868"/>
<circle cx="205.7" cy="369.6" r="9.3" fill="#721A76"/>
<circle cx="398.1" cy="174.1" r="9.3" fill="#C73D4E"/>
<circle cx="243.8" cy="301.9" r="9.3" fill="#94246E"/>
<circle cx="294.5" cy="218.1" r="9.3" fill="#97256D"/>
<circle cx="260.4" cy="298.5" r="9.3" fill="#862072"/>
<circle cx="394.4" cy="197.9" r="9.3" fill="#EE6E26"/>
<circle cx="375.4" cy="189.1" r="9.3" fill="#D74E3F"/>
<circle cx="235" cy="369.6" r="9.3" fill="#91236F"/>
<circle cx="263.9" cy="250.4" r="9.3" fill="#A62B65"/>
<circle cx="241.4" cy="313.6" r="9.3" fill="#68187B"/>
<circle cx="421.3" cy="198.2" r="9.3" fill="#EF7025"/>
<circle cx="301.5" cy="230.9" r="9.3" fill="#A92C63"/>
<circle cx="406" cy="171.9" r="9.3" fill="#E25C33"/>
<circle cx="290.2" cy="199.3" r="9.3" fill="#97256D"/>
<circle cx="371.3" cy="166.4" r="9.3" fill="#95246E"/>
<circle cx="191.3" cy="382" r="9.3" fill="#8B2170"/>
<circle cx="287" cy="183.4" r="9.3" fill="#97256D"/>
<circle cx="306.1" cy="190.6" r="9.3" fill="#C23A52"/>
<circle cx="219.2" cy="392.8" r="9.3" fill="#721B76"/>
<circle cx="216.2" cy="371.7" r="9.3" fill="#6F1A77"/>
<circle cx="355.8" cy="152.8" r="9.3" fill="#9C276A"/>
<circle cx="363.1" cy="197.4" r="9.3" fill="#C23A51"/>
<circle cx="248" cy="313.5" r="9.3" fill="#851F72"/>
<circle cx="293.9" cy="226.7" r="9.3" fill="#B8335A"/>
<circle cx="334.5" cy="208.8" r="9.3" fill="#AB2D62"/>
<circle cx="261.3" cy="282.5" r="9.3" fill="#95246E"/>
<circle cx="345.5" cy="226.3" r="9.3" fill="#A62B65"/>
<circle cx="261" cy="293.8" r="9.3" fill="#882071"/>
<circle cx="377.9" cy="177.3" r="9.3" fill="#A82C64"/>
<circle cx="278" cy="178.6" r="9.3" fill="#9D276A"/>
<circle cx="241.3" cy="348.8" r="9.3" fill="#A32A66"/>
<circle cx="219.5" cy="359.8" r="9.3" fill="#61157F"/>
<circle cx="311" cy="221.8" r="9.3" fill="#97256D"/>
<circle cx="324" cy="242.9" r="9.3" fill="#A42A66"/>
<circle cx="290.3" cy="206.5" r="9.3" fill="#92236F"/>
<circle cx="239" cy="280.3" r="9.3" fill="#94246E"/>
<circle cx="255.8" cy="287" r="9.3" fill="#93236E"/>
<circle cx="226.7" cy="401.3" r="9.3" fill="#811E73"/>
<circle cx="223.8" cy="344.3" r="9.3" fill="#AD2E61"/>
<circle cx="304.5" cy="197.9" r="9.3" fill="#AD2E61"/>
<circle cx="380.5" cy="172.7" r="9.3" fill="#AA2D62"/>
<circle cx="386.9" cy="198.2" r="9.3" fill="#EE7025"/>
<circle cx="330.1" cy="183.4" r="9.3" fill="#B6315C"/>
<circle cx="387.7" cy="187.6" r="9.3" fill="#ED6C27"/>
<circle cx="347.1" cy="197.4" r="9.3" fill="#A42A66"/>
<circle cx="252.2" cy="282.3" r="9.3" fill="#882071"/>
<circle cx="283.5" cy="182.3" r="9.3" fill="#882071"/>
<circle cx="312.5" cy="245.5" r="9.3" fill="#97256D"/>
<circle cx="301.3" cy="172.3" r="9.3" fill="#8D2270"/>
<circle cx="211.4" cy="365.9" r="9.3" fill="#601580"/>
<circle cx="240.5" cy="391.3" r="9.3" fill="#761B75"/>
<circle cx="230" cy="340.2" r="9.3" fill="#A22967"/>
<circle cx="433.8" cy="190.4" r="9.3" fill="#E9652C"/>
<circle cx="206.2" cy="404.2" r="9.3" fill="#831F72"/>
<circle cx="308.2" cy="207.9" r="9.3" fill="#A82C63"/>
<circle cx="349.9" cy="200.4" r="9.3" fill="#A52A66"/>
<circle cx="344.7" cy="232.6" r="9.3" fill="#A52A65"/>
<circle cx="260.2" cy="214.3" r="9.3" fill="#A92C63"/>
<circle cx="333.4" cy="242.8" r="9.3" fill="#A62B65"/>
<circle cx="307.3" cy="242.7" r="9.3" fill="#AB2D62"/>
<circle cx="248.7" cy="290.7" r="9.3" fill="#861F72"/>
<circle cx="334.8" cy="219.7" r="9.3" fill="#A52A66"/>
<circle cx="233.6" cy="349.5" r="9.3" fill="#B93459"/>
<circle cx="268.6" cy="193.8" r="9.3" fill="#9A266C"/>
<circle cx="211.7" cy="401.2" r="9.3" fill="#9E2769"/>
<circle cx="208.3" cy="390.8" r="9.3" fill="#6F1A76"/>
<circle cx="269.5" cy="263.5" r="9.3" fill="#91236F"/>
<circle cx="225.7" cy="379.8" r="9.3" fill="#68187B"/>
<circle cx="238.2" cy="397.6" r="9.3" fill="#791C74"/>
<circle cx="404.4" cy="178.1" r="9.3" fill="#E8632D"/>
<circle cx="313.3" cy="189.9" r="9.3" fill="#A62B65"/>
<circle cx="232.5" cy="378.2" r="9.3" fill="#7B1D74"/>
<circle cx="268.1" cy="249.6" r="9.3" fill="#A32A66"/>
<circle cx="226.8" cy="361" r="9.3" fill="#882071"/>
<circle cx="435.9" cy="193.2" r="9.3" fill="#E35D32"/>
<circle cx="402.8" cy="183.6" r="9.3" fill="#EF7124"/>
<circle cx="337.1" cy="239.4" r="9.3" fill="#A62B65"/>
<circle cx="369.9" cy="192.6" r="9.3" fill="#B93458"/>
<circle cx="227.7" cy="390.5" r="9.3" fill="#882071"/>
<circle cx="214.8" cy="353.6" r="9.3" fill="#711A76"/>
<circle cx="305.4" cy="148.8" r="9.3" fill="#7F1E73"/>
<circle cx="299.7" cy="239.9" r="9.3" fill="#B12F5F"/>
<circle cx="254.7" cy="306.9" r="9.3" fill="#8E2270"/>
<circle cx="269.8" cy="269.9" r="9.3" fill="#8B2170"/>
<circle cx="391.4" cy="170.4" r="9.3" fill="#D04645"/>
<circle cx="236.9" cy="373.3" r="9.3" fill="#91236F"/>
<circle cx="353.1" cy="157.8" r="9.3" fill="#A82C64"/>
<circle cx="233.5" cy="317.8" r="9.3" fill="#781C74"/>
<circle cx="243.3" cy="377.3" r="9.3" fill="#8C2170"/>
<circle cx="240.7" cy="306.9" r="9.3" fill="#781C74"/>
<circle cx="303.5" cy="202.4" r="9.3" fill="#AB2D62"/>
<circle cx="271" cy="244.5" r="9.3" fill="#9D276A"/>
<circle cx="200.4" cy="365.2" r="9.3" fill="#801E73"/>
<circle cx="326.6" cy="208.8" r="9.3" fill="#95246E"/>
<circle cx="313.6" cy="230.9" r="9.3" fill="#95246E"/>
<circle cx="392" cy="176.2" r="9.3" fill="#BF3854"/>
<circle cx="282.3" cy="253.2" r="9.3" fill="#A82C64"/>
<circle cx="250.4" cy="248.4" r="9.3" fill="#95246E"/>
<circle cx="191" cy="375.7" r="9.3" fill="#781C74"/>
<circle cx="280.9" cy="220.7" r="9.3" fill="#AC2D61"/>
<circle cx="316.8" cy="213.8" r="9.3" fill="#A42A66"/>
<circle cx="255.7" cy="218" r="9.3" fill="#A82C64"/>
<circle cx="300.7" cy="264.7" r="9.3" fill="#A62B65"/>
<circle cx="294" cy="199.6" r="9.3" fill="#95246E"/>
<circle cx="228" cy="375" r="9.3" fill="#98256C"/>
<circle cx="241.8" cy="328.9" r="9.3" fill="#A32967"/>
<circle cx="243.8" cy="318.5" r="9.3" fill="#7F1E73"/>
<circle cx="368.1" cy="201.3" r="9.3" fill="#BC3656"/>
<circle cx="387.7" cy="176.2" r="9.3" fill="#BE3755"/>
<circle cx="373.7" cy="195.1" r="9.3" fill="#ED6C27"/>
<circle cx="192.4" cy="387.4" r="9.3" fill="#6C1978"/>
<circle cx="427" cy="184.5" r="9.3" fill="#CE4547"/>
<circle cx="268.6" cy="181.3" r="9.3" fill="#9E2869"/>
<circle cx="231.3" cy="351.7" r="9.3" fill="#9B266B"/>
<circle cx="285.2" cy="177.7" r="9.3" fill="#98256C"/>
<circle cx="258.8" cy="258.6" r="9.3" fill="#A72B64"/>
<circle cx="260.1" cy="310" r="9.3" fill="#97256D"/>
<circle cx="389" cy="133.1" r="9.3" fill="#771C75"/>
<circle cx="224.5" cy="349.8" r="9.3" fill="#9C276A"/>
<circle cx="372.8" cy="143.9" r="9.3" fill="#95246E"/>
<circle cx="412.7" cy="182.5" r="9.3" fill="#E15A35"/>
<circle cx="219.4" cy="344.4" r="9.3" fill="#9A266B"/>
<circle cx="239.3" cy="273.3" r="9.3" fill="#8C2170"/>
<circle cx="307.9" cy="256.3" r="9.3" fill="#9C276A"/>
<circle cx="299.3" cy="247.3" r="9.3" fill="#AA2D62"/>
<circle cx="355.3" cy="164.9" r="9.3" fill="#95246E"/>
<circle cx="301.9" cy="248.8" r="9.3" fill="#9E2869"/>
<circle cx="337.9" cy="217.3" r="9.3" fill="#91236F"/>
<circle cx="354.9" cy="171.2" r="9.3" fill="#A12968"/>
<circle cx="273.8" cy="185.9" r="9.3" fill="#A42A66"/>
<circle cx="369.5" cy="161.1" r="9.3" fill="#8E2270"/>
<circle cx="360" cy="172.5" r="9.3" fill="#98256C"/>
<circle cx="255.6" cy="233.9" r="9.3" fill="#94246E"/>
<circle cx="303" cy="162.5" r="9.3" fill="#9A266C"/>
<circle cx="272.5" cy="210.5" r="9.3" fill="#94246E"/>
<circle cx="276.4" cy="243.8" r="9.3" fill="#B12F5E"/>
<circle cx="215.5" cy="348.3" r="9.3" fill="#99256C"/>
<circle cx="392.8" cy="186" r="9.3" fill="#E45E32"/>
<circle cx="205" cy="358.5" r="9.3" fill="#7A1D74"/>
<circle cx="287.9" cy="175.4" r="9.3" fill="#872071"/>
<circle cx="213.2" cy="409.6" r="9.3" fill="#831F72"/>
<circle cx="264.4" cy="228.5" r="9.3" fill="#B3305D"/>
<circle cx="416" cy="179.5" r="9.3" fill="#E25C33"/>
<circle cx="244" cy="286" r="9.3" fill="#801E73"/>
<circle cx="242.3" cy="257.8" r="9.3" fill="#A72B64"/>
<circle cx="324.8" cy="194.4" r="9.3" fill="#B8335A"/>
<circle cx="301.9" cy="189.4" r="9.3" fill="#A12968"/>
<circle cx="283.7" cy="231.1" r="9.3" fill="#B12F5E"/>
<circle cx="316.4" cy="220.1" r="9.3" fill="#AE2E60"/>
<circle cx="309.3" cy="254.1" r="9.3" fill="#AF2F5F"/>
<circle cx="221.4" cy="378.5" r="9.3" fill="#6C1978"/>
<circle cx="309.4" cy="246.8" r="9.3" fill="#A22967"/>
<circle cx="410.3" cy="189.7" r="9.3" fill="#D24844"/>
<circle cx="243.6" cy="369.4" r="9.3" fill="#93236E"/>
<circle cx="343" cy="205.5" r="9.3" fill="#A12968"/>
<circle cx="373.8" cy="175.7" r="9.3" fill="#B3305D"/>
<circle cx="249.8" cy="261" r="9.3" fill="#9F2869"/>
<circle cx="196.4" cy="363.3" r="9.3" fill="#731B75"/>
<circle cx="325.7" cy="254.8" r="9.3" fill="#A12967"/>
<circle cx="366.1" cy="160.3" r="9.3" fill="#8E2270"/>
<circle cx="335.1" cy="192.7" r="9.3" fill="#B5315C"/>
<circle cx="244" cy="361.6" r="9.3" fill="#8D2270"/>
<circle cx="265.4" cy="260.8" r="9.3" fill="#A42A66"/>
<circle cx="312.5" cy="157.2" r="9.3" fill="#96246E"/>
<circle cx="290.9" cy="261.5" r="9.3" fill="#9F2869"/>
<circle cx="197.3" cy="377.5" r="9.3" fill="#6D1978"/>
<circle cx="294" cy="211.8" r="9.3" fill="#A12968"/>
<circle cx="277.6" cy="263.5" r="9.3" fill="#A22967"/>
<circle cx="378.9" cy="168.2" r="9.3" fill="#AD2E61"/>
<circle cx="357.4" cy="176.2" r="9.3" fill="#B93459"/>
<circle cx="274.4" cy="164.6" r="9.3" fill="#8F226F"/>
<circle cx="323" cy="181.8" r="9.3" fill="#B4315D"/>
<circle cx="268.2" cy="212.4" r="9.3" fill="#AE2E60"/>
<circle cx="255" cy="312.3" r="9.3" fill="#781C74"/>
<circle cx="263.2" cy="206.3" r="9.3" fill="#A32A67"/>
<circle cx="297.3" cy="256.5" r="9.3" fill="#A02868"/>
<circle cx="362.8" cy="157.6" r="9.3" fill="#94246E"/>
<circle cx="309.9" cy="192.1" r="9.3" fill="#B8335A"/>
<circle cx="325" cy="208.4" r="9.3" fill="#A12967"/>
<circle cx="315.1" cy="170.4" r="9.3" fill="#A22967"/>
<circle cx="378.4" cy="192.6" r="9.3" fill="#D24843"/>
<circle cx="276.9" cy="161.9" r="9.3" fill="#821E72"/>
<circle cx="339.1" cy="200.4" r="9.3" fill="#A32A66"/>
<circle cx="284.8" cy="210.7" r="9.3" fill="#98256C"/>
<circle cx="289.2" cy="237.8" r="9.3" fill="#B2305E"/>
<circle cx="324.3" cy="227.4" r="9.3" fill="#A52A65"/>
<circle cx="306.9" cy="222.7" r="9.3" fill="#A22967"/>
<circle cx="365.6" cy="173.2" r="9.3" fill="#99266C"/>
<circle cx="236.4" cy="323.3" r="9.3" fill="#8B2170"/>
<circle cx="354.1" cy="209.1" r="9.3" fill="#B5315C"/>
<circle cx="265.6" cy="270.6" r="9.3" fill="#B3305D"/>
<circle cx="282.3" cy="215.2" r="9.3" fill="#B6315B"/>
<circle cx="330.6" cy="256" r="9.3" fill="#9D276A"/>
<circle cx="290.1" cy="263.5" r="9.3" fill="#9F2869"/>
<circle cx="382.8" cy="165.5" r="9.3" fill="#B4315C"/>
<circle cx="253.8" cy="247.3" r="9.3" fill="#9F2869"/>
<circle cx="383.3" cy="186.9" r="9.3" fill="#EA652B"/>
<circle cx="308.5" cy="261.6" r="9.3" fill="#9D276A"/>
<circle cx="261.6" cy="222.6" r="9.3" fill="#AE2E60"/>
<circle cx="205.6" cy="389.2" r="9.3" fill="#7E1D73"/>
<circle cx="392" cy="181.2" r="9.3" fill="#DE5638"/>
<circle cx="316.8" cy="231.4" r="9.3" fill="#AE2E60"/>
<circle cx="312.8" cy="192.3" r="9.3" fill="#B8335A"/>
<circle cx="242.9" cy="385.1" r="9.3" fill="#8A2171"/>
<circle cx="238.7" cy="357.6" r="9.3" fill="#9D276A"/>
<circle cx="331.7" cy="234.1" r="9.3" fill="#A02968"/>
<circle cx="343.9" cy="238.8" r="9.3" fill="#A52A65"/>
<circle cx="295.5" cy="219.8" r="9.3" fill="#AB2D62"/>
<circle cx="230.6" cy="400.6" r="9.3" fill="#8B2170"/>
<circle cx="324.6" cy="220.3" r="9.3" fill="#95246E"/>
<circle cx="294.1" cy="233.1" r="9.3" fill="#BB3557"/>
<circle cx="211.6" cy="382.7" r="9.3" fill="#6C1978"/>
<circle cx="190.6" cy="369.4" r="9.3" fill="#892071"/>
<circle cx="201.1" cy="369.4" r="9.3" fill="#65177C"/>
<circle cx="254.4" cy="277.2" r="9.3" fill="#8D2270"/>
<circle cx="344.1" cy="208.9" r="9.3" fill="#A92C63"/>
<circle cx="386.6" cy="168" r="9.3" fill="#B7325B"/>
<circle cx="286.6" cy="195.4" r="9.3" fill="#EE6F25"/>
<circle cx="269.3" cy="222.5" r="9.3" fill="#B8335A"/>
<circle cx="261.6" cy="314.7" r="9.3" fill="#D54B41"/>
<circle cx="214.7" cy="361.6" r="9.3" fill="#67177B"/>
<circle cx="271" cy="184.4" r="9.3" fill="#6B1979"/>
<circle cx="317.9" cy="217.3" r="9.3" fill="#DA513C"/>
<circle cx="371" cy="173.6" r="9.3" fill="#B2305E"/>
<circle cx="238.6" cy="303.5" r="9.3" fill="#8D2270"/>
<circle cx="337.8" cy="226.6" r="9.3" fill="#9A266C"/>
<circle cx="258.1" cy="222.3" r="9.3" fill="#A42A66"/>
<circle cx="245.2" cy="243.8" r="9.3" fill="#90226F"/>
<circle cx="292.9" cy="232.9" r="9.3" fill="#BB3557"/>
<circle cx="271" cy="229.8" r="9.3" fill="#DF5836"/>
<circle cx="260.3" cy="273.9" r="9.3" fill="#8D2270"/>
<circle cx="242.9" cy="289.7" r="9.3" fill="#F37B1E"/>
<circle cx="273.2" cy="267.5" r="9.3" fill="#8B2170"/>
<circle cx="223.9" cy="352.7" r="9.3" fill="#892171"/>
<circle cx="212.3" cy="386.7" r="9.3" fill="#7B1D74"/>
<circle cx="311.6" cy="192.2" r="9.3" fill="#BB3557"/>
<circle cx="374.2" cy="138.3" r="9.3" fill="#96256D"/>
<circle cx="325.7" cy="175" r="9.3" fill="#BB3557"/>
<circle cx="304.2" cy="155.7" r="9.3" fill="#831F72"/>
<circle cx="234.3" cy="386.3" r="9.3" fill="#841F72"/>
<circle cx="297.3" cy="244.4" r="9.3" fill="#97256D"/>
<circle cx="329.9" cy="178.7" r="9.3" fill="#B02F5F"/>
<circle cx="286.4" cy="188.6" r="9.3" fill="#9B266B"/>
<circle cx="317.5" cy="154.9" r="9.3" fill="#92236F"/>
<circle cx="328.8" cy="170.4" r="9.3" fill="#AB2D62"/>
<circle cx="353.1" cy="100.8" r="9.3" fill="#801E73"/>
<circle cx="389" cy="133.1" r="9.3" fill="#8B2170"/>
<circle cx="413.3" cy="172.7" r="9.3" fill="#8B2170"/>
<circle cx="277.2" cy="149.2" r="9.3" fill="#8B2170"/>
<circle cx="305.4" cy="148.8" r="9.3" fill="#872071"/>
<circle cx="313.2" cy="148.8" r="9.3" fill="#872071"/>
<circle cx="238.2" cy="410.9" r="9.3" fill="#CF4546"/>
<circle cx="535.4" cy="207.6" r="9.3" fill="#C43B50"/>
<circle cx="484.6" cy="190.4" r="9.3" fill="#C43B50"/>
<circle cx="444" cy="206.8" r="9.3" fill="#C83F4C"/>
<circle cx="454.1" cy="185.7" r="9.3" fill="#E7622E"/>
<circle cx="441.6" cy="187.2" r="9.3" fill="#CF4546"/>
<circle cx="429.1" cy="191.9" r="9.3" fill="#DA513C"/>
<circle cx="421.3" cy="198.2" r="9.3" fill="#DA513C"/>
<circle cx="413.5" cy="188.8" r="9.3" fill="#E7622E"/>
<circle cx="402.5" cy="193.5" r="9.3" fill="#F6861C"/>
<circle cx="397.8" cy="201.3" r="9.3" fill="#F6861C"/>
<circle cx="391.6" cy="190.4" r="9.3" fill="#F37B1E"/>
<circle cx="383.8" cy="193.5" r="9.3" fill="#F37B1E"/>
<circle cx="413.5" cy="171.6" r="9.3" fill="#8B2170"/>
</g>
<g stroke="#262626" stroke-width="3.5">
<line x1="179.3" x2="179.3" y1="426" y2="436.5"/>
<line x1="268" x2="268" y1="426" y2="436.5"/>
<line x1="357" x2="357" y1="426" y2="436.5"/>
<line x1="446" x2="446" y1="426" y2="436.5"/>
<line x1="534.5" x2="534.5" y1="426" y2="436.5"/>
<line x1="163" x2="173.5" y1="179" y2="179"/>
<line x1="163" x2="173.5" y1="273.5" y2="273.5"/>
<line x1="163" x2="173.5" y1="367.6" y2="367.6"/>
</g>
<g class="t" font-size="35" fill="#4D4D4D">
<clipPath id="clipx-p1"><rect x="0" y="426" width="550.5" height="60"/></clipPath>
<g clip-path="url(#clipx-p1)">
<text x="178.1" y="470.3" text-anchor="middle">0</text>
<text x="266.8" y="470.3" text-anchor="middle">500</text>
<text x="355.8" y="470.3" text-anchor="middle">1000</text>
<text x="444.8" y="470.3" text-anchor="middle">1500</text>
<text x="533.3" y="470.3" text-anchor="middle">2000</text>
</g>
<text x="151" y="190.7" text-anchor="end">0.25</text>
<text x="151" y="285.2" text-anchor="end">0.00</text>
<text x="151" y="379.3" text-anchor="end">−0.25</text>
</g>
<text class="k" x="174" y="51.4" font-size="51.5" fill="#000" letter-spacing="-1.0">VAT</text>
<text class="k" x="361.3" y="522.5" font-size="44" fill="#000" text-anchor="middle">VAT</text>
<text class="k" transform="translate(50.2 256.5) rotate(-90)" font-size="44" fill="#000" text-anchor="middle">SHAP value</text>
<defs><linearGradient id="grad-p1" x1="0" y1="0" x2="0" y2="1"><stop offset="0" stop-color="#FCB814"/><stop offset="0.02" stop-color="#FBAE1C"/><stop offset="0.0833" stop-color="#FA9F1C"/><stop offset="0.1667" stop-color="#F88E1A"/><stop offset="0.25" stop-color="#F37B1E"/><stop offset="0.3333" stop-color="#EB672A"/><stop offset="0.4167" stop-color="#D64C40"/><stop offset="0.5" stop-color="#C43B50"/><stop offset="0.5833" stop-color="#B5315C"/><stop offset="0.6667" stop-color="#A42A66"/><stop offset="0.75" stop-color="#95246E"/><stop offset="0.8333" stop-color="#841F72"/><stop offset="0.9167" stop-color="#701A76"/><stop offset="1" stop-color="#5F1580"/></linearGradient></defs>
<rect x="573.4" y="112.6" width="71.4" height="351.1" fill="url(#grad-p1)"/>
<g stroke="#FFFFFF" stroke-width="2.3">
<line x1="573.4" x2="587.7" y1="146.4" y2="146.4"/>
<line x1="630.5" x2="644.8" y1="146.4" y2="146.4"/>
<line x1="573.4" x2="587.7" y1="211" y2="211"/>
<line x1="630.5" x2="644.8" y1="211" y2="211"/>
<line x1="573.4" x2="587.7" y1="275.8" y2="275.8"/>
<line x1="630.5" x2="644.8" y1="275.8" y2="275.8"/>
<line x1="573.4" x2="587.7" y1="341" y2="341"/>
<line x1="630.5" x2="644.8" y1="341" y2="341"/>
<line x1="573.4" x2="587.7" y1="406.5" y2="406.5"/>
<line x1="630.5" x2="644.8" y1="406.5" y2="406.5"/>
</g>
<g class="l" font-size="35" fill="#000">
<text x="667.8" y="158.1">5000</text>
<text x="667.8" y="222.7">4000</text>
<text x="667.8" y="287.5">3000</text>
<text x="667.8" y="352.7">2000</text>
<text x="667.8" y="418.2">1000</text>
</g>
<text class="k" x="572.4" y="87.4" font-size="44" fill="#000">SAT</text>
</g>
<g class="panel" id="p2">
<rect x="947.4" y="85" width="379.9" height="341" fill="#EBEBEB"/>
<clipPath id="clip-p2"><rect x="947.4" y="85" width="379.9" height="341"/></clipPath>
<g clip-path="url(#clip-p2)">
<line x1="960.7" x2="960.7" y1="85" y2="426" stroke="#FAFAFA" stroke-width="2.3"/>
<line x1="1032.9" x2="1032.9" y1="85" y2="426" stroke="#FAFAFA" stroke-width="2.3"/>
<line x1="1105" x2="1105" y1="85" y2="426" stroke="#FAFAFA" stroke-width="2.3"/>
<line x1="1177.2" x2="1177.2" y1="85" y2="426" stroke="#FAFAFA" stroke-width="2.3"/>
<line x1="1249.3" x2="1249.3" y1="85" y2="426" stroke="#FAFAFA" stroke-width="2.3"/>
<line x1="1321.5" x2="1321.5" y1="85" y2="426" stroke="#FAFAFA" stroke-width="2.3"/>
<line x1="947.4" x2="1327.3" y1="136.8" y2="136.8" stroke="#FAFAFA" stroke-width="2.3"/>
<line x1="947.4" x2="1327.3" y1="230.6" y2="230.6" stroke="#FAFAFA" stroke-width="2.3"/>
<line x1="947.4" x2="1327.3" y1="324.4" y2="324.4" stroke="#FAFAFA" stroke-width="2.3"/>
<line x1="947.4" x2="1327.3" y1="418.2" y2="418.2" stroke="#FAFAFA" stroke-width="2.3"/>
<line x1="996.8" x2="996.8" y1="85" y2="426" stroke="#FFFFFF" stroke-width="4.4"/>
<line x1="1068.9" x2="1068.9" y1="85" y2="426" stroke="#FFFFFF" stroke-width="4.4"/>
<line x1="1141.1" x2="1141.1" y1="85" y2="426" stroke="#FFFFFF" stroke-width="4.4"/>
<line x1="1213.3" x2="1213.3" y1="85" y2="426" stroke="#FFFFFF" stroke-width="4.4"/>
<line x1="1285.4" x2="1285.4" y1="85" y2="426" stroke="#FFFFFF" stroke-width="4.4"/>
<line x1="947.4" x2="1327.3" y1="89.9" y2="89.9" stroke="#FFFFFF" stroke-width="4.4"/>
<line x1="947.4" x2="1327.3" y1="183.7" y2="183.7" stroke="#FFFFFF" stroke-width="4.4"/>
<line x1="947.4" x2="1327.3" y1="277.5" y2="277.5" stroke="#FFFFFF" stroke-width="4.4"/>
<line x1="947.4" x2="1327.3" y1="371.3" y2="371.3" stroke="#FFFFFF" stroke-width="4.4"/>
</g>
<g class="points">
<circle cx="1144.7" cy="205.8" r="9.3" fill="#B3305D"/>
<circle cx="1245.9" cy="207.5" r="9.3" fill="#9E2869"/>
<circle cx="1172" cy="196.7" r="9.3" fill="#A22967"/>
<circle cx="1146.6" cy="216.3" r="9.3" fill="#AE2E60"/>
<circle cx="1141.3" cy="191" r="9.3" fill="#B8335A"/>
<circle cx="1114.1" cy="141.2" r="9.3" fill="#6E1A77"/>
<circle cx="1100" cy="196.7" r="9.3" fill="#AF2E60"/>
<circle cx="1048.4" cy="296.8" r="9.3" fill="#8E2270"/>
<circle cx="1067" cy="244.8" r="9.3" fill="#B7325B"/>
<circle cx="1032" cy="359.6" r="9.3" fill="#9B276B"/>
<circle cx="966.6" cy="347.9" r="9.3" fill="#6E1977"/>
<circle cx="1085.2" cy="215.3" r="9.3" fill="#9F2869"/>
<circle cx="1044.6" cy="292.7" r="9.3" fill="#9E2769"/>
<circle cx="997.8" cy="398.6" r="9.3" fill="#91236F"/>
<circle cx="1055.6" cy="188.2" r="9.3" fill="#6D1977"/>
<circle cx="1217.4" cy="218" r="9.3" fill="#D84E3E"/>
<circle cx="1060.2" cy="294.4" r="9.3" fill="#AA2D62"/>
<circle cx="995.7" cy="365.9" r="9.3" fill="#95246E"/>
<circle cx="1061.4" cy="177.2" r="9.3" fill="#771C75"/>
<circle cx="985.3" cy="316.8" r="9.3" fill="#64177D"/>
<circle cx="992" cy="396.8" r="9.3" fill="#96246D"/>
<circle cx="1107.6" cy="190.7" r="9.3" fill="#C23A52"/>
<circle cx="1020.1" cy="316.1" r="9.3" fill="#7B1D74"/>
<circle cx="1076.5" cy="224.5" r="9.3" fill="#98256C"/>
<circle cx="1101.3" cy="257" r="9.3" fill="#B93458"/>
<circle cx="1004.5" cy="383" r="9.3" fill="#98256D"/>
<circle cx="1014.8" cy="298.7" r="9.3" fill="#9A266B"/>
<circle cx="1137.3" cy="205.4" r="9.3" fill="#BB3557"/>
<circle cx="999.8" cy="389.4" r="9.3" fill="#9B276B"/>
<circle cx="1152.1" cy="161" r="9.3" fill="#B7325B"/>
<circle cx="1008.6" cy="308.9" r="9.3" fill="#862072"/>
<circle cx="1172.3" cy="189.3" r="9.3" fill="#C33A51"/>
<circle cx="1016.9" cy="307.3" r="9.3" fill="#862071"/>
<circle cx="1036.9" cy="281.3" r="9.3" fill="#791C74"/>
<circle cx="1030.7" cy="286" r="9.3" fill="#8B2170"/>
<circle cx="1006.5" cy="388.6" r="9.3" fill="#96256D"/>
<circle cx="1117.9" cy="157.9" r="9.3" fill="#B1305E"/>
<circle cx="1198.2" cy="208.8" r="9.3" fill="#A42A66"/>
<circle cx="1093.4" cy="186.5" r="9.3" fill="#B12F5E"/>
<circle cx="1188.5" cy="223.5" r="9.3" fill="#8E2270"/>
<circle cx="1064.6" cy="300.2" r="9.3" fill="#AD2E61"/>
<circle cx="1106.7" cy="157" r="9.3" fill="#CC4249"/>
<circle cx="1155.2" cy="171.3" r="9.3" fill="#AE2E60"/>
<circle cx="1125.5" cy="142.8" r="9.3" fill="#9B276B"/>
<circle cx="1093.9" cy="162.6" r="9.3" fill="#D54B41"/>
<circle cx="1026.4" cy="372.4" r="9.3" fill="#90226F"/>
<circle cx="1056" cy="210.1" r="9.3" fill="#761B75"/>
<circle cx="995.8" cy="394.7" r="9.3" fill="#9C276A"/>
<circle cx="1107.9" cy="170" r="9.3" fill="#E15A35"/>
<circle cx="1038.6" cy="302.1" r="9.3" fill="#7A1C74"/>
<circle cx="1098.4" cy="149.8" r="9.3" fill="#9B266B"/>
<circle cx="1030.3" cy="344.6" r="9.3" fill="#B3305D"/>
<circle cx="1171.4" cy="157.5" r="9.3" fill="#E05836"/>
<circle cx="1135.2" cy="162.6" r="9.3" fill="#BD3656"/>
<circle cx="1001.5" cy="372.3" r="9.3" fill="#97256D"/>
<circle cx="1073.3" cy="266" r="9.3" fill="#CF4546"/>
<circle cx="1122.2" cy="188.5" r="9.3" fill="#D9503D"/>
<circle cx="1034.6" cy="401.7" r="9.3" fill="#8D2270"/>
<circle cx="1009.6" cy="359" r="9.3" fill="#9C276A"/>
<circle cx="1006.9" cy="354.6" r="9.3" fill="#8D2270"/>
<circle cx="1075.4" cy="211.1" r="9.3" fill="#95246E"/>
<circle cx="1028.7" cy="393.2" r="9.3" fill="#A02968"/>
<circle cx="1009.2" cy="379.4" r="9.3" fill="#91236F"/>
<circle cx="1030.8" cy="316.5" r="9.3" fill="#7A1C74"/>
<circle cx="1051.9" cy="294.9" r="9.3" fill="#AC2D61"/>
<circle cx="1044" cy="282.7" r="9.3" fill="#A42A66"/>
<circle cx="1184.2" cy="169.4" r="9.3" fill="#DF5737"/>
<circle cx="1079" cy="210.5" r="9.3" fill="#872071"/>
<circle cx="1049.1" cy="305.4" r="9.3" fill="#7B1D74"/>
<circle cx="1077.1" cy="307.3" r="9.3" fill="#B83359"/>
<circle cx="1083.1" cy="303.2" r="9.3" fill="#AF2F5F"/>
<circle cx="1059.1" cy="213.2" r="9.3" fill="#861F72"/>
<circle cx="1041.2" cy="310.2" r="9.3" fill="#6E1977"/>
<circle cx="1173.2" cy="154.6" r="9.3" fill="#D94F3D"/>
<circle cx="1020.3" cy="300.5" r="9.3" fill="#9E2869"/>
<circle cx="990" cy="382.1" r="9.3" fill="#96246E"/>
<circle cx="1084.3" cy="231.7" r="9.3" fill="#A32A66"/>
<circle cx="1118.2" cy="196.1" r="9.3" fill="#B5315C"/>
<circle cx="1133" cy="158.5" r="9.3" fill="#AA2D62"/>
<circle cx="1177.3" cy="191.2" r="9.3" fill="#9E2869"/>
<circle cx="1184.6" cy="178.4" r="9.3" fill="#B7325A"/>
<circle cx="1100.3" cy="267.2" r="9.3" fill="#B5315C"/>
<circle cx="1002.5" cy="371.1" r="9.3" fill="#9F2869"/>
<circle cx="999.4" cy="306.7" r="9.3" fill="#851F72"/>
<circle cx="1000.9" cy="397" r="9.3" fill="#AD2E61"/>
<circle cx="1007.2" cy="295.3" r="9.3" fill="#9B266B"/>
<circle cx="1054.4" cy="306.4" r="9.3" fill="#95246E"/>
<circle cx="1183.8" cy="195" r="9.3" fill="#B6315C"/>
<circle cx="1097.4" cy="212.3" r="9.3" fill="#97256D"/>
<circle cx="1133.6" cy="164.1" r="9.3" fill="#AA2D62"/>
<circle cx="1017.7" cy="339" r="9.3" fill="#92236F"/>
<circle cx="1127.5" cy="204.1" r="9.3" fill="#C43B50"/>
<circle cx="1036.1" cy="289.1" r="9.3" fill="#96256D"/>
<circle cx="1106.4" cy="200.5" r="9.3" fill="#BF3854"/>
<circle cx="1125.4" cy="215.6" r="9.3" fill="#A02968"/>
<circle cx="1224.4" cy="212.8" r="9.3" fill="#C03854"/>
<circle cx="1090.6" cy="246.3" r="9.3" fill="#C53C4F"/>
<circle cx="1114.7" cy="204.5" r="9.3" fill="#BE3755"/>
<circle cx="1114.4" cy="185.6" r="9.3" fill="#D24943"/>
<circle cx="1228.4" cy="212.7" r="9.3" fill="#BB3557"/>
<circle cx="1105.2" cy="205.2" r="9.3" fill="#BD3656"/>
<circle cx="1051.7" cy="288.2" r="9.3" fill="#A72B64"/>
<circle cx="1035.4" cy="390.7" r="9.3" fill="#99266C"/>
<circle cx="1069.6" cy="180.1" r="9.3" fill="#801E73"/>
<circle cx="1012.5" cy="381.2" r="9.3" fill="#9D276A"/>
<circle cx="1017.1" cy="360.5" r="9.3" fill="#9B266B"/>
<circle cx="1027.6" cy="404.8" r="9.3" fill="#9B276B"/>
<circle cx="1011.1" cy="268.4" r="9.3" fill="#98256C"/>
<circle cx="1079.4" cy="153" r="9.3" fill="#93236E"/>
<circle cx="993.2" cy="376.6" r="9.3" fill="#96256D"/>
<circle cx="1057.2" cy="300.4" r="9.3" fill="#B02F5F"/>
<circle cx="1049.2" cy="270.3" r="9.3" fill="#9C276A"/>
<circle cx="992.6" cy="329.8" r="9.3" fill="#781C74"/>
<circle cx="1105.5" cy="175.2" r="9.3" fill="#E56030"/>
<circle cx="1177.1" cy="183.3" r="9.3" fill="#BA3458"/>
<circle cx="982" cy="323.9" r="9.3" fill="#5F1580"/>
<circle cx="1003.7" cy="403.9" r="9.3" fill="#A22967"/>
<circle cx="986.5" cy="322.9" r="9.3" fill="#6B1979"/>
<circle cx="1026.4" cy="333.7" r="9.3" fill="#B12F5E"/>
<circle cx="1029.1" cy="401.5" r="9.3" fill="#9A266B"/>
<circle cx="1066.4" cy="219.1" r="9.3" fill="#761B75"/>
<circle cx="1019" cy="369.5" r="9.3" fill="#95246E"/>
<circle cx="1146.6" cy="211.8" r="9.3" fill="#AC2D61"/>
<circle cx="1016.9" cy="399.8" r="9.3" fill="#9A266B"/>
<circle cx="1102.9" cy="249.2" r="9.3" fill="#B4315D"/>
<circle cx="1163.2" cy="175.4" r="9.3" fill="#C9404C"/>
<circle cx="1019.9" cy="351.1" r="9.3" fill="#9E2869"/>
<circle cx="1066.4" cy="249.5" r="9.3" fill="#B5315C"/>
<circle cx="1030.2" cy="347.8" r="9.3" fill="#97256D"/>
<circle cx="997.5" cy="362.2" r="9.3" fill="#791C74"/>
<circle cx="1099.3" cy="243.1" r="9.3" fill="#B8335A"/>
<circle cx="1002.4" cy="343.8" r="9.3" fill="#98256C"/>
<circle cx="1114.6" cy="136.6" r="9.3" fill="#7B1D74"/>
<circle cx="1135.1" cy="183.7" r="9.3" fill="#BC3656"/>
<circle cx="1059.4" cy="218.4" r="9.3" fill="#8C2170"/>
<circle cx="991.5" cy="352.7" r="9.3" fill="#6A187A"/>
<circle cx="1204.5" cy="200.7" r="9.3" fill="#A02868"/>
<circle cx="1144.3" cy="155.4" r="9.3" fill="#AB2D62"/>
<circle cx="1197.7" cy="209.9" r="9.3" fill="#AA2C62"/>
<circle cx="1021.2" cy="396" r="9.3" fill="#96246D"/>
<circle cx="1091.6" cy="256" r="9.3" fill="#C13953"/>
<circle cx="1176.3" cy="161.6" r="9.3" fill="#E6612F"/>
<circle cx="1092.2" cy="265.3" r="9.3" fill="#AF2E60"/>
<circle cx="1066" cy="190.8" r="9.3" fill="#6F1A76"/>
<circle cx="973.6" cy="326.6" r="9.3" fill="#741B75"/>
<circle cx="1071.1" cy="166" r="9.3" fill="#771C75"/>
<circle cx="1015.2" cy="273.7" r="9.3" fill="#A22967"/>
<circle cx="1042" cy="357.2" r="9.3" fill="#8E2270"/>
<circle cx="1163.9" cy="196.3" r="9.3" fill="#9B266B"/>
<circle cx="1019.7" cy="382.8" r="9.3" fill="#9B266B"/>
<circle cx="1064" cy="239.8" r="9.3" fill="#A12967"/>
<circle cx="963.5" cy="350.1" r="9.3" fill="#7B1D74"/>
<circle cx="1070.3" cy="206.9" r="9.3" fill="#6A1879"/>
<circle cx="1082.9" cy="283" r="9.3" fill="#C73E4D"/>
<circle cx="1140.2" cy="201.9" r="9.3" fill="#A92C63"/>
<circle cx="1084.7" cy="191.9" r="9.3" fill="#60157F"/>
<circle cx="1089.9" cy="169.1" r="9.3" fill="#CE4447"/>
<circle cx="1049.5" cy="255.4" r="9.3" fill="#8E2270"/>
<circle cx="1227.6" cy="209.4" r="9.3" fill="#C23A51"/>
<circle cx="995.6" cy="353.2" r="9.3" fill="#811E73"/>
<circle cx="1164.7" cy="184.9" r="9.3" fill="#A82C63"/>
<circle cx="1154" cy="186.5" r="9.3" fill="#AD2E61"/>
<circle cx="1108" cy="146.9" r="9.3" fill="#91236F"/>
<circle cx="1050.3" cy="278.4" r="9.3" fill="#A52A65"/>
<circle cx="1022" cy="353.5" r="9.3" fill="#A02868"/>
<circle cx="998.6" cy="315.1" r="9.3" fill="#8D2270"/>
<circle cx="1146.3" cy="207.7" r="9.3" fill="#A92C63"/>
<circle cx="1074.3" cy="217.2" r="9.3" fill="#A12968"/>
<circle cx="1076.8" cy="270.9" r="9.3" fill="#B7335A"/>
<circle cx="1003.4" cy="353.2" r="9.3" fill="#91236F"/>
<circle cx="1115" cy="144" r="9.3" fill="#821F72"/>
<circle cx="1066.3" cy="212" r="9.3" fill="#62167E"/>
<circle cx="1005.7" cy="301.6" r="9.3" fill="#94246E"/>
<circle cx="1065.3" cy="183.2" r="9.3" fill="#6F1A77"/>
<circle cx="1047.1" cy="247.6" r="9.3" fill="#A62B65"/>
<circle cx="1013.3" cy="294.5" r="9.3" fill="#811E73"/>
<circle cx="1018.1" cy="341.8" r="9.3" fill="#95246E"/>
<circle cx="1050.7" cy="241.3" r="9.3" fill="#97256D"/>
<circle cx="1192" cy="194.4" r="9.3" fill="#AC2D61"/>
<circle cx="1081.2" cy="277.2" r="9.3" fill="#C83F4C"/>
<circle cx="1019.3" cy="287.2" r="9.3" fill="#96246E"/>
<circle cx="1072.2" cy="174.9" r="9.3" fill="#801E73"/>
<circle cx="1054.7" cy="316.7" r="9.3" fill="#7D1D73"/>
<circle cx="1056.1" cy="241.7" r="9.3" fill="#A12968"/>
<circle cx="997.8" cy="407.1" r="9.3" fill="#98256D"/>
<circle cx="1127.8" cy="177.1" r="9.3" fill="#AA2D62"/>
<circle cx="1106" cy="233.5" r="9.3" fill="#B5315C"/>
<circle cx="977.5" cy="321.9" r="9.3" fill="#811E73"/>
<circle cx="1130.6" cy="206.3" r="9.3" fill="#CB414A"/>
<circle cx="1100.6" cy="191.9" r="9.3" fill="#C23952"/>
<circle cx="1142.4" cy="163.6" r="9.3" fill="#B5315C"/>
<circle cx="1013.7" cy="290.6" r="9.3" fill="#882071"/>
<circle cx="1045.6" cy="277.3" r="9.3" fill="#821F72"/>
<circle cx="1051.2" cy="324.3" r="9.3" fill="#9B266B"/>
<circle cx="1080.4" cy="249.6" r="9.3" fill="#BB3557"/>
<circle cx="1056.4" cy="217.9" r="9.3" fill="#872071"/>
<circle cx="1141.1" cy="183.5" r="9.3" fill="#B6315B"/>
<circle cx="1115.4" cy="219.5" r="9.3" fill="#BD3656"/>
<circle cx="1109.9" cy="216.1" r="9.3" fill="#D44A42"/>
<circle cx="1101.6" cy="168.2" r="9.3" fill="#E6612F"/>
<circle cx="1071.4" cy="179.3" r="9.3" fill="#65177C"/>
<circle cx="1098.6" cy="241.2" r="9.3" fill="#B4305D"/>
<circle cx="1154" cy="207.1" r="9.3" fill="#98256D"/>
<circle cx="1011.1" cy="394.8" r="9.3" fill="#97256D"/>
<circle cx="1035.9" cy="327.4" r="9.3" fill="#A92C63"/>
<circle cx="1019.9" cy="358.7" r="9.3" fill="#91236F"/>
<circle cx="1150.8" cy="181.4" r="9.3" fill="#C13952"/>
<circle cx="1146.8" cy="189.7" r="9.3" fill="#AD2E61"/>
<circle cx="1077.8" cy="288.1" r="9.3" fill="#C73E4D"/>
<circle cx="1071.8" cy="250.2" r="9.3" fill="#CE4447"/>
<circle cx="1088.4" cy="164.9" r="9.3" fill="#C13953"/>
<circle cx="1160.7" cy="207" r="9.3" fill="#8E2270"/>
<circle cx="1043.2" cy="367.3" r="9.3" fill="#AD2E61"/>
<circle cx="1060.1" cy="183" r="9.3" fill="#711A76"/>
<circle cx="1037.3" cy="360.4" r="9.3" fill="#9E2769"/>
<circle cx="1136" cy="201.8" r="9.3" fill="#B02F5F"/>
<circle cx="1000.9" cy="375.8" r="9.3" fill="#9F2869"/>
<circle cx="1190.4" cy="186.6" r="9.3" fill="#A42A66"/>
<circle cx="1044.4" cy="266.6" r="9.3" fill="#6D1978"/>
<circle cx="1085.4" cy="287.5" r="9.3" fill="#B4315D"/>
<circle cx="1076.1" cy="227.3" r="9.3" fill="#95246E"/>
<circle cx="1045.4" cy="309.3" r="9.3" fill="#6B1879"/>
<circle cx="1034.2" cy="370.9" r="9.3" fill="#90236F"/>
<circle cx="1103.7" cy="226.6" r="9.3" fill="#AE2E60"/>
<circle cx="1060.4" cy="318.8" r="9.3" fill="#A52A65"/>
<circle cx="1008" cy="328.2" r="9.3" fill="#721A76"/>
<circle cx="1095.9" cy="267.5" r="9.3" fill="#AC2D62"/>
<circle cx="1024.9" cy="401.2" r="9.3" fill="#A42A66"/>
<circle cx="1175.5" cy="194.9" r="9.3" fill="#A92C63"/>
<circle cx="1126.9" cy="164.3" r="9.3" fill="#B6315C"/>
<circle cx="1230.7" cy="220.4" r="9.3" fill="#B2305E"/>
<circle cx="1014" cy="311.8" r="9.3" fill="#831F72"/>
<circle cx="1059.6" cy="260.8" r="9.3" fill="#B3305D"/>
<circle cx="986.6" cy="339.3" r="9.3" fill="#771C75"/>
<circle cx="1028.6" cy="348.5" r="9.3" fill="#9F2869"/>
<circle cx="1096.6" cy="244.6" r="9.3" fill="#B02F5F"/>
<circle cx="1003.1" cy="307.1" r="9.3" fill="#92236F"/>
<circle cx="1146.6" cy="166.1" r="9.3" fill="#A02868"/>
<circle cx="1055.4" cy="270.3" r="9.3" fill="#A82C63"/>
<circle cx="1128.5" cy="211" r="9.3" fill="#B12F5E"/>
<circle cx="1087.1" cy="237.6" r="9.3" fill="#AA2C63"/>
<circle cx="1076.5" cy="186.4" r="9.3" fill="#872071"/>
<circle cx="1112.6" cy="152.1" r="9.3" fill="#B4315D"/>
<circle cx="1041.5" cy="328.9" r="9.3" fill="#8A2171"/>
<circle cx="1066.5" cy="298.6" r="9.3" fill="#A62B65"/>
<circle cx="1019.2" cy="307.6" r="9.3" fill="#97256D"/>
<circle cx="1041.9" cy="340.5" r="9.3" fill="#AD2E61"/>
<circle cx="1003.4" cy="365.7" r="9.3" fill="#96246D"/>
<circle cx="1008.8" cy="289.1" r="9.3" fill="#8D2270"/>
<circle cx="984.8" cy="356.1" r="9.3" fill="#711A76"/>
<circle cx="1076.5" cy="268.1" r="9.3" fill="#B93459"/>
<circle cx="1010.6" cy="334.3" r="9.3" fill="#8A2171"/>
<circle cx="1155.1" cy="167.7" r="9.3" fill="#A02868"/>
<circle cx="1091.3" cy="202.8" r="9.3" fill="#A32A66"/>
<circle cx="1093.8" cy="179.1" r="9.3" fill="#D24943"/>
<circle cx="1101.2" cy="155.7" r="9.3" fill="#E56030"/>
<circle cx="1137.9" cy="211.6" r="9.3" fill="#D84F3E"/>
<circle cx="1094.2" cy="197.2" r="9.3" fill="#A62B65"/>
<circle cx="1084.5" cy="166.7" r="9.3" fill="#A62B65"/>
<circle cx="1076.6" cy="298.4" r="9.3" fill="#CA404B"/>
<circle cx="1016.2" cy="270.7" r="9.3" fill="#97256D"/>
<circle cx="1101.9" cy="160.4" r="9.3" fill="#CF4646"/>
<circle cx="1074.7" cy="283.5" r="9.3" fill="#C13953"/>
<circle cx="1064.8" cy="303.7" r="9.3" fill="#A52A65"/>
<circle cx="1160.9" cy="155.8" r="9.3" fill="#B8335A"/>
<circle cx="1041.5" cy="331" r="9.3" fill="#9E2869"/>
<circle cx="1184.3" cy="199.4" r="9.3" fill="#AA2C63"/>
<circle cx="998.4" cy="323.3" r="9.3" fill="#781C74"/>
<circle cx="1047.1" cy="351.6" r="9.3" fill="#9B276B"/>
<circle cx="1032.2" cy="337.4" r="9.3" fill="#9B266B"/>
<circle cx="975" cy="346.1" r="9.3" fill="#64167D"/>
<circle cx="1123.8" cy="198.7" r="9.3" fill="#BF3754"/>
<circle cx="971.3" cy="357.9" r="9.3" fill="#7A1D74"/>
<circle cx="1085.3" cy="222.1" r="9.3" fill="#A82C64"/>
<circle cx="1210.3" cy="212.2" r="9.3" fill="#C9404C"/>
<circle cx="1154.5" cy="214.8" r="9.3" fill="#872071"/>
<circle cx="1071" cy="195.2" r="9.3" fill="#65177D"/>
<circle cx="1035.9" cy="303.1" r="9.3" fill="#8D2270"/>
<circle cx="1158.4" cy="188.4" r="9.3" fill="#A02868"/>
<circle cx="1056.6" cy="233.5" r="9.3" fill="#94246E"/>
<circle cx="1011.1" cy="373" r="9.3" fill="#96246E"/>
<circle cx="1070.3" cy="282" r="9.3" fill="#A22967"/>
<circle cx="1061.7" cy="224.5" r="9.3" fill="#801E73"/>
<circle cx="1149.7" cy="210.2" r="9.3" fill="#9F2869"/>
<circle cx="1059.3" cy="252.5" r="9.3" fill="#A72B64"/>
<circle cx="1191.4" cy="200.8" r="9.3" fill="#AF2E60"/>
<circle cx="1040.8" cy="344.4" r="9.3" fill="#A22967"/>
<circle cx="1028.3" cy="383.7" r="9.3" fill="#9C276A"/>
<circle cx="1170.9" cy="199.1" r="9.3" fill="#97256D"/>
<circle cx="1068.2" cy="234.3" r="9.3" fill="#9E2869"/>
<circle cx="1052.6" cy="299.6" r="9.3" fill="#A12968"/>
<circle cx="1047.9" cy="343.8" r="9.3" fill="#9A266B"/>
<circle cx="1001" cy="339.8" r="9.3" fill="#872071"/>
<circle cx="1095.2" cy="146.7" r="9.3" fill="#7C1D74"/>
<circle cx="1102.6" cy="213.4" r="9.3" fill="#9A266B"/>
<circle cx="1008.6" cy="314.1" r="9.3" fill="#7D1D73"/>
<circle cx="1077.2" cy="254.9" r="9.3" fill="#B93459"/>
<circle cx="1167.6" cy="169.7" r="9.3" fill="#CD4448"/>
<circle cx="1064.4" cy="256.1" r="9.3" fill="#B8335A"/>
<circle cx="1086.4" cy="270.2" r="9.3" fill="#C03853"/>
<circle cx="1066" cy="256.2" r="9.3" fill="#C53C4F"/>
<circle cx="973.9" cy="356.5" r="9.3" fill="#7C1D74"/>
<circle cx="1102.2" cy="223.1" r="9.3" fill="#97256D"/>
<circle cx="981.4" cy="348" r="9.3" fill="#6D1978"/>
<circle cx="1002.3" cy="323.6" r="9.3" fill="#63167E"/>
<circle cx="1041.6" cy="265.6" r="9.3" fill="#882071"/>
<circle cx="1144.6" cy="158.7" r="9.3" fill="#BF3854"/>
<circle cx="1095.2" cy="220.6" r="9.3" fill="#AC2D61"/>
<circle cx="986.7" cy="326.2" r="9.3" fill="#791C74"/>
<circle cx="1146.4" cy="162.9" r="9.3" fill="#AA2C62"/>
<circle cx="1020.1" cy="368.2" r="9.3" fill="#96246E"/>
<circle cx="1129.2" cy="202.1" r="9.3" fill="#BE3755"/>
<circle cx="1055.6" cy="202.3" r="9.3" fill="#6C1978"/>
<circle cx="1027.6" cy="314.7" r="9.3" fill="#741B75"/>
<circle cx="1162" cy="189.5" r="9.3" fill="#A32A67"/>
<circle cx="1035" cy="396.2" r="9.3" fill="#8B2170"/>
<circle cx="1001" cy="349.1" r="9.3" fill="#882071"/>
<circle cx="1110.3" cy="206.3" r="9.3" fill="#A72B64"/>
<circle cx="1083.8" cy="293.8" r="9.3" fill="#B6315C"/>
<circle cx="1239.8" cy="207" r="9.3" fill="#B93458"/>
<circle cx="1053.9" cy="251.9" r="9.3" fill="#A32A66"/>
<circle cx="1029" cy="328.5" r="9.3" fill="#A42A66"/>
<circle cx="1163" cy="152.8" r="9.3" fill="#C03854"/>
<circle cx="1086.1" cy="197.1" r="9.3" fill="#741B75"/>
<circle cx="1009.2" cy="281.3" r="9.3" fill="#9B276B"/>
<circle cx="1009.7" cy="334.7" r="9.3" fill="#862071"/>
<circle cx="1123.9" cy="167.5" r="9.3" fill="#C43B50"/>
<circle cx="992.6" cy="342" r="9.3" fill="#731B75"/>
<circle cx="1132.8" cy="173.7" r="9.3" fill="#AA2D62"/>
<circle cx="1036.8" cy="376.1" r="9.3" fill="#96246D"/>
<circle cx="1122" cy="175.7" r="9.3" fill="#B6325B"/>
<circle cx="1069.9" cy="201.5" r="9.3" fill="#6D1978"/>
<circle cx="1026.5" cy="339.1" r="9.3" fill="#B4315D"/>
<circle cx="1063" cy="234.2" r="9.3" fill="#97256D"/>
<circle cx="1056.9" cy="245.8" r="9.3" fill="#B83359"/>
<circle cx="994.9" cy="345.4" r="9.3" fill="#6F1A76"/>
<circle cx="1096.1" cy="218.4" r="9.3" fill="#95246E"/>
<circle cx="1084.9" cy="144.8" r="9.3" fill="#8D2270"/>
<circle cx="1024.5" cy="377.1" r="9.3" fill="#A72B64"/>
<circle cx="1031.5" cy="376.3" r="9.3" fill="#A52A65"/>
<circle cx="987.3" cy="333.2" r="9.3" fill="#721A76"/>
<circle cx="1181.5" cy="197.6" r="9.3" fill="#9A266B"/>
<circle cx="1078.6" cy="191.7" r="9.3" fill="#5F1580"/>
<circle cx="1075.2" cy="159.5" r="9.3" fill="#8E2270"/>
<circle cx="1135.4" cy="165.7" r="9.3" fill="#C13952"/>
<circle cx="1211.9" cy="207.9" r="9.3" fill="#AB2D62"/>
<circle cx="1062.8" cy="179.2" r="9.3" fill="#761C75"/>
<circle cx="1006" cy="339.6" r="9.3" fill="#7C1D74"/>
<circle cx="1075.6" cy="291.2" r="9.3" fill="#A42A66"/>
<circle cx="994.8" cy="348.1" r="9.3" fill="#781C74"/>
<circle cx="1095.4" cy="236" r="9.3" fill="#AE2E60"/>
<circle cx="1022.1" cy="284.4" r="9.3" fill="#8C2170"/>
<circle cx="1127.9" cy="227.3" r="9.3" fill="#7A1D74"/>
<circle cx="1160.7" cy="152.2" r="9.3" fill="#CB414A"/>
<circle cx="1058.7" cy="277.1" r="9.3" fill="#B4305D"/>
<circle cx="1089.1" cy="154.8" r="9.3" fill="#AA2C63"/>
<circle cx="1109.6" cy="192" r="9.3" fill="#BF3854"/>
<circle cx="1109.1" cy="186.1" r="9.3" fill="#C03953"/>
<circle cx="1101.4" cy="202.4" r="9.3" fill="#A82C64"/>
<circle cx="1156.3" cy="174.5" r="9.3" fill="#A42A66"/>
<circle cx="989.2" cy="321.5" r="9.3" fill="#892071"/>
<circle cx="1110.8" cy="201.3" r="9.3" fill="#BB3557"/>
<circle cx="1184.2" cy="203.8" r="9.3" fill="#A82C64"/>
<circle cx="1124.7" cy="152.1" r="9.3" fill="#B4315D"/>
<circle cx="1098.3" cy="260.8" r="9.3" fill="#BF3854"/>
<circle cx="1045.8" cy="286.8" r="9.3" fill="#8C2170"/>
<circle cx="1101.8" cy="185.5" r="9.3" fill="#CB424A"/>
<circle cx="1089.3" cy="151.6" r="9.3" fill="#A42A66"/>
<circle cx="1007" cy="400.1" r="9.3" fill="#9B276B"/>
<circle cx="1134.3" cy="174.4" r="9.3" fill="#BD3755"/>
<circle cx="1109.3" cy="164.3" r="9.3" fill="#DA513C"/>
<circle cx="1014.9" cy="316.8" r="9.3" fill="#6A187A"/>
<circle cx="1110.6" cy="155.2" r="9.3" fill="#C73E4D"/>
<circle cx="1074.3" cy="224.6" r="9.3" fill="#8A2171"/>
<circle cx="1178.6" cy="179.1" r="9.3" fill="#C23A51"/>
<circle cx="1094.7" cy="152.5" r="9.3" fill="#A42A66"/>
<circle cx="979.5" cy="350.8" r="9.3" fill="#731B75"/>
<circle cx="1050.4" cy="263.7" r="9.3" fill="#A22967"/>
<circle cx="1155.2" cy="152.2" r="9.3" fill="#B2305E"/>
<circle cx="1169.4" cy="185.7" r="9.3" fill="#B5315C"/>
<circle cx="1037.9" cy="318.1" r="9.3" fill="#821F72"/>
<circle cx="1008.2" cy="347.3" r="9.3" fill="#8B2170"/>
<circle cx="1097.6" cy="190.9" r="9.3" fill="#B83359"/>
<circle cx="1069.3" cy="263.9" r="9.3" fill="#BB3557"/>
<circle cx="1017.9" cy="347.6" r="9.3" fill="#93246E"/>
<circle cx="975.8" cy="339.8" r="9.3" fill="#67177C"/>
<circle cx="1096.4" cy="256.2" r="9.3" fill="#AF2E60"/>
<circle cx="1102.9" cy="142.3" r="9.3" fill="#8A2171"/>
<circle cx="1037.4" cy="366.9" r="9.3" fill="#9F2869"/>
<circle cx="1077.1" cy="179.2" r="9.3" fill="#811E73"/>
<circle cx="1089.2" cy="232.4" r="9.3" fill="#B02F5F"/>
<circle cx="1031.1" cy="327.2" r="9.3" fill="#AB2D62"/>
<circle cx="1100.9" cy="179" r="9.3" fill="#EB672A"/>
<circle cx="1072.6" cy="182.2" r="9.3" fill="#771C75"/>
<circle cx="1066" cy="259.7" r="9.3" fill="#B6325B"/>
<circle cx="1016.9" cy="387.5" r="9.3" fill="#A32A66"/>
<circle cx="1070.6" cy="296.9" r="9.3" fill="#B02F5F"/>
<circle cx="1107.6" cy="175.6" r="9.3" fill="#D04745"/>
<circle cx="1079.2" cy="232.7" r="9.3" fill="#97256D"/>
<circle cx="1212.9" cy="206.6" r="9.3" fill="#A52A65"/>
<circle cx="973.4" cy="332.1" r="9.3" fill="#741B75"/>
<circle cx="1012.7" cy="263.3" r="9.3" fill="#9C276A"/>
<circle cx="996.7" cy="332.2" r="9.3" fill="#7A1D74"/>
<circle cx="1030.2" cy="304.3" r="9.3" fill="#8E2270"/>
<circle cx="1153.2" cy="195.1" r="9.3" fill="#9E2869"/>
<circle cx="1049.4" cy="328.2" r="9.3" fill="#892071"/>
<circle cx="1080" cy="208.9" r="9.3" fill="#90226F"/>
<circle cx="1061.5" cy="187.7" r="9.3" fill="#66177C"/>
<circle cx="1059.4" cy="310.7" r="9.3" fill="#96246E"/>
<circle cx="1134" cy="190.9" r="9.3" fill="#B5315C"/>
<circle cx="1085.3" cy="180" r="9.3" fill="#9F2868"/>
<circle cx="1168.3" cy="161.8" r="9.3" fill="#CA414B"/>
<circle cx="1072.5" cy="244.4" r="9.3" fill="#D24843"/>
<circle cx="1063.6" cy="193.9" r="9.3" fill="#8B2170"/>
<circle cx="991.6" cy="362.6" r="9.3" fill="#821E72"/>
<circle cx="987.9" cy="343.9" r="9.3" fill="#791C74"/>
<circle cx="1105.9" cy="153.6" r="9.3" fill="#C73E4D"/>
<circle cx="1075.8" cy="261.3" r="9.3" fill="#B3305D"/>
<circle cx="1035.9" cy="352.7" r="9.3" fill="#9F2869"/>
<circle cx="1091.4" cy="173" r="9.3" fill="#CA414A"/>
<circle cx="1161.1" cy="182.1" r="9.3" fill="#AD2E61"/>
<circle cx="1056.7" cy="225.7" r="9.3" fill="#7A1D74"/>
<circle cx="1060.9" cy="226.3" r="9.3" fill="#8A2171"/>
<circle cx="1031.8" cy="312.2" r="9.3" fill="#94246E"/>
<circle cx="1118.4" cy="185.8" r="9.3" fill="#C03854"/>
<circle cx="1055.4" cy="285.5" r="9.3" fill="#9D276A"/>
<circle cx="1009.2" cy="296.4" r="9.3" fill="#8C2170"/>
<circle cx="1174" cy="176.6" r="9.3" fill="#D14844"/>
<circle cx="1067.2" cy="269.2" r="9.3" fill="#BA3458"/>
<circle cx="1080.7" cy="242.7" r="9.3" fill="#A62B65"/>
<circle cx="1063.2" cy="312.3" r="9.3" fill="#B02F5F"/>
<circle cx="1110.5" cy="211.7" r="9.3" fill="#AD2E61"/>
<circle cx="1158.5" cy="164" r="9.3" fill="#AA2C63"/>
<circle cx="1064.9" cy="267.6" r="9.3" fill="#B6325B"/>
<circle cx="1056" cy="181.9" r="9.3" fill="#811E73"/>
<circle cx="1066.7" cy="230.3" r="9.3" fill="#801E73"/>
<circle cx="1197.7" cy="201.8" r="9.3" fill="#A62B65"/>
<circle cx="1054.8" cy="262.2" r="9.3" fill="#AC2D61"/>
<circle cx="1092" cy="146.4" r="9.3" fill="#94246E"/>
<circle cx="993" cy="389.3" r="9.3" fill="#9A266C"/>
<circle cx="1071.4" cy="307.1" r="9.3" fill="#BE3755"/>
<circle cx="1054.6" cy="255.3" r="9.3" fill="#9A266B"/>
<circle cx="1122" cy="151" r="9.3" fill="#B6325B"/>
<circle cx="1121.3" cy="180.5" r="9.3" fill="#B02F5F"/>
<circle cx="1040.1" cy="375.1" r="9.3" fill="#9B266B"/>
<circle cx="1099.3" cy="232.6" r="9.3" fill="#AB2D62"/>
<circle cx="1125.2" cy="210.6" r="9.3" fill="#B6325B"/>
<circle cx="1047.5" cy="298.7" r="9.3" fill="#96246E"/>
<circle cx="994.3" cy="380.5" r="9.3" fill="#93236F"/>
<circle cx="1122.1" cy="204.1" r="9.3" fill="#BC3656"/>
<circle cx="1085.8" cy="277.7" r="9.3" fill="#B6325B"/>
<circle cx="1078.6" cy="166.4" r="9.3" fill="#8F226F"/>
<circle cx="1061.1" cy="283.3" r="9.3" fill="#9E2769"/>
<circle cx="1058" cy="267.8" r="9.3" fill="#B12F5E"/>
<circle cx="1094.4" cy="139.2" r="9.3" fill="#882071"/>
<circle cx="1099.7" cy="251.8" r="9.3" fill="#B7325A"/>
<circle cx="1089.6" cy="189.6" r="9.3" fill="#96246D"/>
<circle cx="1024.4" cy="362.5" r="9.3" fill="#8A2171"/>
<circle cx="1138.4" cy="179.8" r="9.3" fill="#B93359"/>
<circle cx="1145.8" cy="202" r="9.3" fill="#AD2E61"/>
<circle cx="1094.4" cy="250.7" r="9.3" fill="#B8335A"/>
<circle cx="988.5" cy="379.8" r="9.3" fill="#9A266B"/>
<circle cx="1063.5" cy="207.1" r="9.3" fill="#63167E"/>
<circle cx="1062.9" cy="274.4" r="9.3" fill="#B83359"/>
<circle cx="1111.8" cy="177.8" r="9.3" fill="#C33A51"/>
<circle cx="1089.8" cy="220.8" r="9.3" fill="#A02868"/>
<circle cx="1030.9" cy="290.6" r="9.3" fill="#862072"/>
<circle cx="1038.9" cy="370.3" r="9.3" fill="#9D276A"/>
<circle cx="1075.1" cy="238.1" r="9.3" fill="#BA3458"/>
<circle cx="1016.9" cy="333.4" r="9.3" fill="#97256D"/>
<circle cx="1151.3" cy="202.8" r="9.3" fill="#98256C"/>
<circle cx="1173" cy="174.9" r="9.3" fill="#D24943"/>
<circle cx="1023" cy="295.2" r="9.3" fill="#9D2769"/>
<circle cx="1069.7" cy="217.6" r="9.3" fill="#7F1E73"/>
<circle cx="1116" cy="179.7" r="9.3" fill="#AD2E60"/>
<circle cx="1013.8" cy="364.2" r="9.3" fill="#9C276A"/>
<circle cx="1114.3" cy="166.4" r="9.3" fill="#C73D4E"/>
<circle cx="1061.8" cy="315.7" r="9.3" fill="#9D276A"/>
<circle cx="1181.4" cy="182.8" r="9.3" fill="#AF2E60"/>
<circle cx="1058.4" cy="306.3" r="9.3" fill="#A12968"/>
<circle cx="1045.7" cy="342.7" r="9.3" fill="#A82B64"/>
<circle cx="1197.9" cy="219.1" r="9.3" fill="#E05936"/>
<circle cx="1127.5" cy="186.1" r="9.3" fill="#C33A51"/>
<circle cx="1036.1" cy="346.3" r="9.3" fill="#AB2D62"/>
<circle cx="1128.8" cy="154.7" r="9.3" fill="#BB3557"/>
<circle cx="1085.9" cy="262.6" r="9.3" fill="#B5315C"/>
<circle cx="1148.7" cy="191.1" r="9.3" fill="#B7325A"/>
<circle cx="1093.3" cy="219" r="9.3" fill="#A32A66"/>
<circle cx="1072.6" cy="297.9" r="9.3" fill="#AD2E61"/>
<circle cx="1230.7" cy="213.6" r="9.3" fill="#CB414A"/>
<circle cx="1180.3" cy="165.5" r="9.3" fill="#E05935"/>
<circle cx="1028.1" cy="334.1" r="9.3" fill="#A62B65"/>
<circle cx="1023.5" cy="336.4" r="9.3" fill="#A52B65"/>
<circle cx="989.7" cy="395.9" r="9.3" fill="#8D2270"/>
<circle cx="1096.4" cy="163.9" r="9.3" fill="#C53C4F"/>
<circle cx="996.1" cy="378.1" r="9.3" fill="#A02868"/>
<circle cx="1118.6" cy="142" r="9.3" fill="#882071"/>
<circle cx="1013.7" cy="381.2" r="9.3" fill="#A22967"/>
<circle cx="1013.4" cy="277.3" r="9.3" fill="#99266C"/>
<circle cx="991.6" cy="403.2" r="9.3" fill="#91236F"/>
<circle cx="1115.5" cy="187.6" r="9.3" fill="#BA3458"/>
<circle cx="1072.1" cy="201.3" r="9.3" fill="#711A76"/>
<circle cx="1082.3" cy="260.7" r="9.3" fill="#A92C63"/>
<circle cx="1037.6" cy="348.1" r="9.3" fill="#9E2769"/>
<circle cx="1051.2" cy="249.5" r="9.3" fill="#94246E"/>
<circle cx="1078.4" cy="249.1" r="9.3" fill="#C03853"/>
<circle cx="1016.9" cy="393" r="9.3" fill="#91236F"/>
<circle cx="1035.2" cy="331.5" r="9.3" fill="#B02F5F"/>
<circle cx="1068.4" cy="239.8" r="9.3" fill="#A42A66"/>
<circle cx="1140" cy="167.6" r="9.3" fill="#B2305E"/>
<circle cx="1038.3" cy="336.2" r="9.3" fill="#B3305D"/>
<circle cx="986.1" cy="361" r="9.3" fill="#6F1A77"/>
<circle cx="1155" cy="180.7" r="9.3" fill="#B93458"/>
<circle cx="1106.2" cy="211.9" r="9.3" fill="#9D276A"/>
<circle cx="1003.4" cy="349.3" r="9.3" fill="#861F72"/>
<circle cx="1203.7" cy="213.2" r="9.3" fill="#CC4349"/>
<circle cx="1017.2" cy="312.7" r="9.3" fill="#882071"/>
<circle cx="1165.4" cy="200.7" r="9.3" fill="#92236F"/>
<circle cx="979" cy="342.6" r="9.3" fill="#7E1D73"/>
<circle cx="1203.4" cy="205.4" r="9.3" fill="#AC2D61"/>
<circle cx="1089.5" cy="171.4" r="9.3" fill="#CA404B"/>
<circle cx="1099.8" cy="183.9" r="9.3" fill="#E45E32"/>
<circle cx="1007.8" cy="345.7" r="9.3" fill="#8A2171"/>
<circle cx="1159.9" cy="198.8" r="9.3" fill="#95246E"/>
<circle cx="1012.8" cy="399" r="9.3" fill="#99256C"/>
<circle cx="1059.6" cy="274.6" r="9.3" fill="#AD2E61"/>
<circle cx="1041.1" cy="366.6" r="9.3" fill="#9C276A"/>
<circle cx="1067" cy="290.1" r="9.3" fill="#B7325B"/>
<circle cx="1176.3" cy="197.6" r="9.3" fill="#B7325A"/>
<circle cx="1161" cy="170.4" r="9.3" fill="#BB3557"/>
<circle cx="1132.6" cy="185.4" r="9.3" fill="#B3305D"/>
<circle cx="1055.2" cy="194.4" r="9.3" fill="#781C74"/>
<circle cx="1042.5" cy="259.7" r="9.3" fill="#7A1C74"/>
<circle cx="1192" cy="210.1" r="9.3" fill="#A92C63"/>
<circle cx="1058.8" cy="193.2" r="9.3" fill="#7E1E73"/>
<circle cx="1169.3" cy="187.7" r="9.3" fill="#B7325B"/>
<circle cx="1074" cy="256.9" r="9.3" fill="#C73E4E"/>
<circle cx="1069.6" cy="278.1" r="9.3" fill="#B5315C"/>
<circle cx="1251.8" cy="213.4" r="9.3" fill="#9D276A"/>
<circle cx="1148.4" cy="169" r="9.3" fill="#AC2D61"/>
<circle cx="997.5" cy="395.1" r="9.3" fill="#8B2170"/>
<circle cx="1035.4" cy="313" r="9.3" fill="#6C1978"/>
<circle cx="1042.7" cy="304.1" r="9.3" fill="#892071"/>
<circle cx="1079.5" cy="228.7" r="9.3" fill="#9C276A"/>
<circle cx="1011.2" cy="305.6" r="9.3" fill="#771C75"/>
<circle cx="1190.6" cy="196.9" r="9.3" fill="#90236F"/>
<circle cx="1104.4" cy="241.3" r="9.3" fill="#B12F5F"/>
<circle cx="1005.9" cy="365.1" r="9.3" fill="#821F72"/>
<circle cx="1090.4" cy="136.6" r="9.3" fill="#6C1978"/>
<circle cx="1001.5" cy="308.6" r="9.3" fill="#7F1E73"/>
<circle cx="1025.2" cy="346.2" r="9.3" fill="#9F2869"/>
<circle cx="1093.4" cy="227" r="9.3" fill="#AD2E61"/>
<circle cx="1060.7" cy="201.8" r="9.3" fill="#63167D"/>
<circle cx="1037.7" cy="382.9" r="9.3" fill="#96246E"/>
<circle cx="1240.1" cy="201.6" r="9.3" fill="#B6325B"/>
<circle cx="1019.7" cy="278.1" r="9.3" fill="#A12968"/>
<circle cx="1110.8" cy="197.1" r="9.3" fill="#C9404B"/>
<circle cx="1074.8" cy="305.1" r="9.3" fill="#AC2D61"/>
<circle cx="1098.7" cy="147" r="9.3" fill="#98256C"/>
<circle cx="1067.6" cy="283.4" r="9.3" fill="#A82C63"/>
<circle cx="1095.7" cy="203" r="9.3" fill="#9D276A"/>
<circle cx="1169.5" cy="174.6" r="9.3" fill="#E8632E"/>
<circle cx="1059.8" cy="204.5" r="9.3" fill="#7A1C74"/>
<circle cx="1224.4" cy="215.7" r="9.3" fill="#CB424A"/>
<circle cx="1071.9" cy="191.1" r="9.3" fill="#6B1879"/>
<circle cx="1082" cy="294.7" r="9.3" fill="#BE3755"/>
<circle cx="1087.4" cy="186.1" r="9.3" fill="#92236F"/>
<circle cx="1079.7" cy="160.5" r="9.3" fill="#9B276B"/>
<circle cx="1119.4" cy="164.8" r="9.3" fill="#BC3656"/>
<circle cx="1085.3" cy="205.9" r="9.3" fill="#92236F"/>
<circle cx="1088.3" cy="228.1" r="9.3" fill="#A92C63"/>
<circle cx="1099.8" cy="229.7" r="9.3" fill="#AA2C63"/>
<circle cx="1107.8" cy="178" r="9.3" fill="#E7612F"/>
<circle cx="1148.5" cy="155.1" r="9.3" fill="#AE2E60"/>
<circle cx="1046.4" cy="321.2" r="9.3" fill="#91236F"/>
<circle cx="1142.6" cy="180" r="9.3" fill="#A62B65"/>
<circle cx="1188.9" cy="178.8" r="9.3" fill="#B02F5F"/>
<circle cx="1181" cy="188.9" r="9.3" fill="#A62B65"/>
<circle cx="1004.7" cy="325.4" r="9.3" fill="#821F72"/>
<circle cx="1072" cy="271.6" r="9.3" fill="#C83E4D"/>
<circle cx="969.9" cy="338.2" r="9.3" fill="#821E72"/>
<circle cx="1071.1" cy="311.5" r="9.3" fill="#A42A66"/>
<circle cx="1177.7" cy="167" r="9.3" fill="#D9503D"/>
<circle cx="1168.3" cy="155" r="9.3" fill="#CB414A"/>
<circle cx="1086.5" cy="247" r="9.3" fill="#A92C63"/>
<circle cx="981.3" cy="329.7" r="9.3" fill="#65177D"/>
<circle cx="1126.7" cy="197.8" r="9.3" fill="#B8335A"/>
<circle cx="1078.5" cy="196.8" r="9.3" fill="#5F1580"/>
<circle cx="1127.2" cy="190" r="9.3" fill="#AF2F5F"/>
<circle cx="1026.2" cy="298.7" r="9.3" fill="#8A2171"/>
<circle cx="1044.5" cy="351.2" r="9.3" fill="#9F2869"/>
<circle cx="1040.8" cy="319.7" r="9.3" fill="#7F1E73"/>
<circle cx="1024.4" cy="290.7" r="9.3" fill="#97256D"/>
<circle cx="1120.1" cy="222.6" r="9.3" fill="#B12F5E"/>
<circle cx="1132.4" cy="197.5" r="9.3" fill="#C33A51"/>
<circle cx="1110.8" cy="138.1" r="9.3" fill="#6B1879"/>
<circle cx="1127.6" cy="174.8" r="9.3" fill="#BD3656"/>
<circle cx="1031" cy="383.6" r="9.3" fill="#93236F"/>
<circle cx="1094.5" cy="167.8" r="9.3" fill="#EF7124"/>
<circle cx="1011.1" cy="407.9" r="9.3" fill="#9C276A"/>
<circle cx="1006.9" cy="323.8" r="9.3" fill="#6C1978"/>
<circle cx="980.7" cy="359.4" r="9.3" fill="#8F226F"/>
<circle cx="993.9" cy="361.7" r="9.3" fill="#862071"/>
<circle cx="1096.1" cy="174.2" r="9.3" fill="#E05936"/>
<circle cx="1091.1" cy="213.4" r="9.3" fill="#9F2869"/>
<circle cx="997.8" cy="373.5" r="9.3" fill="#882071"/>
<circle cx="1078.3" cy="204.4" r="9.3" fill="#7C1D74"/>
<circle cx="1049.2" cy="314.6" r="9.3" fill="#851F72"/>
<circle cx="1081.4" cy="240.4" r="9.3" fill="#AD2E60"/>
<circle cx="1064.1" cy="214.4" r="9.3" fill="#7C1D74"/>
<circle cx="1038.2" cy="285.2" r="9.3" fill="#821F72"/>
<circle cx="1095.1" cy="238.1" r="9.3" fill="#B12F5E"/>
<circle cx="993.2" cy="311.8" r="9.3" fill="#801E73"/>
<circle cx="1131.7" cy="212.6" r="9.3" fill="#D14745"/>
<circle cx="1164.9" cy="178.2" r="9.3" fill="#BC3656"/>
<circle cx="1083.9" cy="256.2" r="9.3" fill="#BA3458"/>
<circle cx="1138.8" cy="217.9" r="9.3" fill="#EE7025"/>
<circle cx="1073.1" cy="168.6" r="9.3" fill="#751B75"/>
<circle cx="1033.3" cy="322.4" r="9.3" fill="#97256D"/>
<circle cx="1113.8" cy="164.3" r="9.3" fill="#C63D4E"/>
<circle cx="1116.6" cy="195.7" r="9.3" fill="#B8335A"/>
<circle cx="1124.3" cy="221.1" r="9.3" fill="#91236F"/>
<circle cx="1085" cy="265.2" r="9.3" fill="#C03853"/>
<circle cx="1012.9" cy="343.1" r="9.3" fill="#841F72"/>
<circle cx="1043.9" cy="318" r="9.3" fill="#781C74"/>
<circle cx="1002.5" cy="360" r="9.3" fill="#8D2270"/>
<circle cx="1195.2" cy="210.8" r="9.3" fill="#AA2D62"/>
<circle cx="1138.8" cy="158.5" r="9.3" fill="#C13953"/>
<circle cx="1107.6" cy="135" r="9.3" fill="#711A76"/>
<circle cx="1047.1" cy="331.8" r="9.3" fill="#93236E"/>
<circle cx="1009.6" cy="273.5" r="9.3" fill="#98256D"/>
<circle cx="1051.1" cy="285" r="9.3" fill="#AF2F5F"/>
<circle cx="1019.6" cy="321.7" r="9.3" fill="#862071"/>
<circle cx="966.6" cy="340.7" r="9.3" fill="#63167E"/>
<circle cx="1030" cy="385.9" r="9.3" fill="#A22967"/>
<circle cx="1013.5" cy="387.1" r="9.3" fill="#92236F"/>
<circle cx="1109" cy="151" r="9.3" fill="#AA2C63"/>
<circle cx="1155.9" cy="158.9" r="9.3" fill="#A42A66"/>
<circle cx="1221.3" cy="212.6" r="9.3" fill="#CA414A"/>
<circle cx="1061.6" cy="239.4" r="9.3" fill="#AC2D62"/>
<circle cx="1082.4" cy="182.8" r="9.3" fill="#771C75"/>
<circle cx="1085.6" cy="198.6" r="9.3" fill="#811E73"/>
<circle cx="1138.7" cy="194.7" r="9.3" fill="#BF3854"/>
<circle cx="1023.4" cy="329.4" r="9.3" fill="#95246E"/>
<circle cx="1121.6" cy="138.2" r="9.3" fill="#91236F"/>
<circle cx="1185.9" cy="183.8" r="9.3" fill="#AB2D62"/>
<circle cx="1015.4" cy="326.1" r="9.3" fill="#7F1E73"/>
<circle cx="1054.4" cy="235.1" r="9.3" fill="#A52A65"/>
<circle cx="1060.6" cy="244.2" r="9.3" fill="#9B276B"/>
<circle cx="987.1" cy="348.8" r="9.3" fill="#7E1D73"/>
<circle cx="1133.5" cy="219.8" r="9.3" fill="#CE4447"/>
<circle cx="1122.4" cy="215.2" r="9.3" fill="#A62B65"/>
<circle cx="1059" cy="291.2" r="9.3" fill="#B02F5F"/>
<circle cx="1004.1" cy="411" r="9.3" fill="#94246E"/>
<circle cx="1052.7" cy="309.5" r="9.3" fill="#7B1D74"/>
<circle cx="999.2" cy="327.1" r="9.3" fill="#6E1977"/>
<circle cx="1097.6" cy="204.9" r="9.3" fill="#9F2869"/>
<circle cx="1093.6" cy="274.2" r="9.3" fill="#B4305D"/>
<circle cx="1203.5" cy="215.4" r="9.3" fill="#E05935"/>
<circle cx="1063.7" cy="293.8" r="9.3" fill="#B5315C"/>
<circle cx="1071.9" cy="232.4" r="9.3" fill="#A22967"/>
<circle cx="1065.1" cy="315.7" r="9.3" fill="#96246E"/>
<circle cx="1014.4" cy="355.4" r="9.3" fill="#99266C"/>
<circle cx="1134.1" cy="153" r="9.3" fill="#B3305D"/>
<circle cx="1107.6" cy="225.7" r="9.3" fill="#B6315C"/>
<circle cx="1144.3" cy="195.9" r="9.3" fill="#B93359"/>
<circle cx="1087.5" cy="179.2" r="9.3" fill="#A12968"/>
<circle cx="1084.5" cy="155.7" r="9.3" fill="#AD2E61"/>
<circle cx="1092.1" cy="263.4" r="9.3" fill="#B02F5F"/>
<circle cx="1163.8" cy="179" r="9.3" fill="#C43B50"/>
<circle cx="994.7" cy="368" r="9.3" fill="#A52A66"/>
<circle cx="1233.8" cy="206.3" r="9.3" fill="#B2305E"/>
<circle cx="1133.4" cy="222.6" r="9.3" fill="#AD2E61"/>
<circle cx="1082.6" cy="274.9" r="9.3" fill="#B1305E"/>
<circle cx="1102" cy="219.3" r="9.3" fill="#A12968"/>
<circle cx="1075.2" cy="171.1" r="9.3" fill="#8B2170"/>
<circle cx="1030.9" cy="367.4" r="9.3" fill="#94246E"/>
<circle cx="1202.5" cy="220.4" r="9.3" fill="#DD5538"/>
<circle cx="1046.3" cy="359.4" r="9.3" fill="#A32A66"/>
<circle cx="1149.8" cy="152.2" r="9.3" fill="#B6325B"/>
<circle cx="1174.1" cy="169.8" r="9.3" fill="#C53C4F"/>
<circle cx="990.3" cy="334.2" r="9.3" fill="#65177C"/>
<circle cx="1130.2" cy="167.9" r="9.3" fill="#B4305D"/>
<circle cx="998.2" cy="380.8" r="9.3" fill="#91236F"/>
<circle cx="1016.6" cy="372.6" r="9.3" fill="#A02868"/>
<circle cx="1028.6" cy="323.3" r="9.3" fill="#771C75"/>
<circle cx="1098.4" cy="138.7" r="9.3" fill="#92236F"/>
<circle cx="1040.5" cy="288.1" r="9.3" fill="#98256D"/>
<circle cx="1043.5" cy="253.9" r="9.3" fill="#97256D"/>
<circle cx="1052.1" cy="267.2" r="9.3" fill="#A82C63"/>
<circle cx="994.2" cy="387.7" r="9.3" fill="#99266C"/>
<circle cx="980.6" cy="335.2" r="9.3" fill="#6A187A"/>
<circle cx="1195.5" cy="222" r="9.3" fill="#AD2E61"/>
<circle cx="1233.8" cy="215.7" r="9.3" fill="#AE2E60"/>
<circle cx="1119.2" cy="209.7" r="9.3" fill="#B2305E"/>
<circle cx="995.3" cy="337.1" r="9.3" fill="#60157F"/>
<circle cx="1007" cy="318.1" r="9.3" fill="#7C1D74"/>
<circle cx="986.9" cy="387.6" r="9.3" fill="#8A2171"/>
<circle cx="1066.6" cy="221.7" r="9.3" fill="#7A1D74"/>
<circle cx="1075.7" cy="275.9" r="9.3" fill="#BE3755"/>
<circle cx="1079.7" cy="174.9" r="9.3" fill="#95246E"/>
<circle cx="1011.8" cy="338.8" r="9.3" fill="#892071"/>
<circle cx="1121.2" cy="145.8" r="9.3" fill="#8F226F"/>
<circle cx="1081.3" cy="219" r="9.3" fill="#B2305E"/>
<circle cx="1117.4" cy="166.1" r="9.3" fill="#B7325A"/>
<circle cx="1069.5" cy="310.2" r="9.3" fill="#BC3557"/>
<circle cx="985.3" cy="397" r="9.3" fill="#9E2869"/>
<circle cx="1026" cy="366.6" r="9.3" fill="#96246E"/>
<circle cx="1013.4" cy="377" r="9.3" fill="#9D276A"/>
<circle cx="1077.3" cy="292.4" r="9.3" fill="#B6325B"/>
<circle cx="1099" cy="135.8" r="9.3" fill="#862072"/>
<circle cx="978.4" cy="328.2" r="9.3" fill="#791C74"/>
<circle cx="1159.8" cy="194.3" r="9.3" fill="#AA2C63"/>
<circle cx="1011.3" cy="324" r="9.3" fill="#761B75"/>
<circle cx="1240.3" cy="210.7" r="9.3" fill="#9F2869"/>
<circle cx="1069.6" cy="229.4" r="9.3" fill="#801E73"/>
<circle cx="1066.9" cy="172.6" r="9.3" fill="#9A266B"/>
<circle cx="1170.1" cy="147.5" r="9.3" fill="#BE3755"/>
<circle cx="1081.2" cy="200.3" r="9.3" fill="#751B75"/>
<circle cx="1028.5" cy="307.7" r="9.3" fill="#7C1D74"/>
<circle cx="1190.2" cy="216.8" r="9.3" fill="#A22967"/>
<circle cx="1082.3" cy="214.1" r="9.3" fill="#98256C"/>
<circle cx="1193.2" cy="201.6" r="9.3" fill="#A02868"/>
<circle cx="1116.1" cy="171.8" r="9.3" fill="#B1305E"/>
<circle cx="1026.3" cy="312.4" r="9.3" fill="#8A2171"/>
<circle cx="996.1" cy="316.3" r="9.3" fill="#841F72"/>
<circle cx="1000.3" cy="334.4" r="9.3" fill="#731B75"/>
<circle cx="1104.8" cy="221.6" r="9.3" fill="#AE2E60"/>
<circle cx="1054.9" cy="323.5" r="9.3" fill="#90236F"/>
<circle cx="1037.3" cy="298.4" r="9.3" fill="#8B2170"/>
<circle cx="971.2" cy="353.1" r="9.3" fill="#821F72"/>
<circle cx="1038.3" cy="295.6" r="9.3" fill="#9B266B"/>
<circle cx="1155.2" cy="203.3" r="9.3" fill="#9B266B"/>
<circle cx="1043.7" cy="263.5" r="9.3" fill="#7C1D74"/>
<circle cx="1147.4" cy="195.3" r="9.3" fill="#99266C"/>
<circle cx="1027" cy="296.3" r="9.3" fill="#99266C"/>
<circle cx="1145.9" cy="175.4" r="9.3" fill="#BA3458"/>
<circle cx="1002.5" cy="394.4" r="9.3" fill="#94246E"/>
<circle cx="1079.6" cy="193.4" r="9.3" fill="#741B75"/>
<circle cx="1214.2" cy="215.6" r="9.3" fill="#CF4546"/>
<circle cx="1027" cy="355.1" r="9.3" fill="#8B2170"/>
<circle cx="1142.2" cy="171.8" r="9.3" fill="#AB2D62"/>
<circle cx="1210.4" cy="220.4" r="9.3" fill="#DA513C"/>
<circle cx="1010.5" cy="403.2" r="9.3" fill="#9F2868"/>
<circle cx="977.7" cy="354.2" r="9.3" fill="#6C1978"/>
<circle cx="969.7" cy="331.3" r="9.3" fill="#64177D"/>
<circle cx="1210" cy="216.1" r="9.3" fill="#C33A51"/>
<circle cx="1242.8" cy="214.5" r="9.3" fill="#9E2869"/>
<circle cx="1093" cy="205.4" r="9.3" fill="#A42A66"/>
<circle cx="981.7" cy="338" r="9.3" fill="#61167F"/>
<circle cx="1104" cy="197.2" r="9.3" fill="#C43B50"/>
<circle cx="1033.6" cy="293.8" r="9.3" fill="#851F72"/>
<circle cx="1123.9" cy="157.1" r="9.3" fill="#BE3755"/>
<circle cx="1023.8" cy="390.4" r="9.3" fill="#99256C"/>
<circle cx="1179.2" cy="173.2" r="9.3" fill="#C63D4E"/>
<circle cx="1039.3" cy="273.5" r="9.3" fill="#99266C"/>
<circle cx="1024.1" cy="320.2" r="9.3" fill="#7E1D73"/>
<circle cx="1048.7" cy="336" r="9.3" fill="#93236E"/>
<circle cx="1198.2" cy="197.6" r="9.3" fill="#B5315C"/>
<circle cx="970.3" cy="348.1" r="9.3" fill="#6F1A77"/>
<circle cx="1015.7" cy="282" r="9.3" fill="#7C1D74"/>
<circle cx="1087" cy="281.3" r="9.3" fill="#BE3755"/>
<circle cx="1016.8" cy="356.7" r="9.3" fill="#9E2769"/>
<circle cx="1060.5" cy="289.6" r="9.3" fill="#AE2E60"/>
<circle cx="1129.4" cy="147.5" r="9.3" fill="#AC2D62"/>
<circle cx="967.4" cy="354" r="9.3" fill="#721B76"/>
<circle cx="1062.8" cy="277.8" r="9.3" fill="#AC2D61"/>
<circle cx="1135.4" cy="176.7" r="9.3" fill="#B83359"/>
<circle cx="1148.1" cy="183.9" r="9.3" fill="#BC3656"/>
<circle cx="1208.9" cy="207.7" r="9.3" fill="#AA2C63"/>
<circle cx="1164.5" cy="161.8" r="9.3" fill="#BD3656"/>
<circle cx="1029.2" cy="302" r="9.3" fill="#721B76"/>
<circle cx="1085.1" cy="248.7" r="9.3" fill="#AE2E60"/>
<circle cx="1016.3" cy="374.6" r="9.3" fill="#90236F"/>
<circle cx="1018.2" cy="404.8" r="9.3" fill="#9C276A"/>
<circle cx="1090.3" cy="271.9" r="9.3" fill="#A72B64"/>
<circle cx="1118.8" cy="198.7" r="9.3" fill="#BE3755"/>
<circle cx="1093.8" cy="154.8" r="9.3" fill="#AD2E61"/>
<circle cx="1111.3" cy="145" r="9.3" fill="#90236F"/>
<circle cx="1105.2" cy="102.2" r="9.3" fill="#7B1D74"/>
<circle cx="1127.1" cy="103" r="9.3" fill="#7B1D74"/>
<circle cx="1145.1" cy="106.9" r="9.3" fill="#801E73"/>
<circle cx="1090.4" cy="122.5" r="9.3" fill="#7B1D74"/>
<circle cx="1111.5" cy="124.1" r="9.3" fill="#801E73"/>
<circle cx="1134.9" cy="121.7" r="9.3" fill="#7B1D74"/>
<circle cx="1145.1" cy="129.6" r="9.3" fill="#791C74"/>
<circle cx="1170.1" cy="140.5" r="9.3" fill="#801E73"/>
<circle cx="1149.8" cy="152.2" r="9.3" fill="#801E73"/>
<circle cx="1079.4" cy="153" r="9.3" fill="#7B1D74"/>
<circle cx="1102.9" cy="113.1" r="9.3" fill="#801E73"/>
<circle cx="1098.2" cy="135" r="9.3" fill="#801E73"/>
<circle cx="1116.9" cy="136.6" r="9.3" fill="#851F72"/>
<circle cx="1129.4" cy="138.2" r="9.3" fill="#801E73"/>
<circle cx="1107.6" cy="147.5" r="9.3" fill="#851F72"/>
<circle cx="1090.4" cy="144.4" r="9.3" fill="#801E73"/>
<circle cx="1121.6" cy="147.5" r="9.3" fill="#8B2170"/>
<circle cx="1160.7" cy="150.7" r="9.3" fill="#851F72"/>
<circle cx="1260.4" cy="195.1" r="9.3" fill="#9E2869"/>
<circle cx="1282.3" cy="212.3" r="9.3" fill="#CF4546"/>
<circle cx="1287" cy="227.4" r="9.3" fill="#EC6A28"/>
<circle cx="1309.9" cy="145.7" r="9.3" fill="#791C74"/>
<circle cx="1188.5" cy="223.5" r="9.3" fill="#9E2869"/>
<circle cx="1251.8" cy="213.4" r="9.3" fill="#9E2869"/>
<circle cx="1240.1" cy="201.6" r="9.3" fill="#B6315C"/>
<circle cx="1205.7" cy="200.1" r="9.3" fill="#A72B64"/>
<circle cx="965.8" cy="386.8" r="9.3" fill="#8B2170"/>
<circle cx="1127.9" cy="227.3" r="9.3" fill="#801E73"/>
<circle cx="1154.5" cy="214.8" r="9.3" fill="#8B2170"/>
<circle cx="1148.2" cy="198.8" r="9.3" fill="#FCB814"/>
</g>
<g stroke="#262626" stroke-width="3.5">
<line x1="996.8" x2="996.8" y1="426" y2="436.5"/>
<line x1="1068.9" x2="1068.9" y1="426" y2="436.5"/>
<line x1="1141.1" x2="1141.1" y1="426" y2="436.5"/>
<line x1="1213.3" x2="1213.3" y1="426" y2="436.5"/>
<line x1="1285.4" x2="1285.4" y1="426" y2="436.5"/>
<line x1="936.9" x2="947.4" y1="89.9" y2="89.9"/>
<line x1="936.9" x2="947.4" y1="183.7" y2="183.7"/>
<line x1="936.9" x2="947.4" y1="277.5" y2="277.5"/>
<line x1="936.9" x2="947.4" y1="371.3" y2="371.3"/>
</g>
<g class="t" font-size="35" fill="#4D4D4D">
<text x="995.6" y="470.3" text-anchor="middle">20</text>
<text x="1067.7" y="470.3" text-anchor="middle">30</text>
<text x="1139.9" y="470.3" text-anchor="middle">40</text>
<text x="1212.1" y="470.3" text-anchor="middle">50</text>
<text x="1284.2" y="470.3" text-anchor="middle">60</text>
<text x="924.9" y="101.6" text-anchor="end">0.4</text>
<text x="924.9" y="195.4" text-anchor="end">0.2</text>
<text x="924.9" y="289.2" text-anchor="end">0.0</text>
<text x="924.9" y="383" text-anchor="end">−0.2</text>
</g>
<text class="k" x="945.9" y="51.4" font-size="51.5" fill="#000" letter-spacing="1.2">BMI</text>
<text class="k" x="1137" y="522.5" font-size="44" fill="#000" text-anchor="middle" letter-spacing="1.6">BMI</text>
<text class="k" transform="translate(843 256.5) rotate(-90)" font-size="44" fill="#000" text-anchor="middle">SHAP value</text>
<defs><linearGradient id="grad-p2" x1="0" y1="0" x2="0" y2="1"><stop offset="0" stop-color="#FCB814"/><stop offset="0.02" stop-color="#FBAE1C"/><stop offset="0.0833" stop-color="#FA9F1C"/><stop offset="0.1667" stop-color="#F88E1A"/><stop offset="0.25" stop-color="#F37B1E"/><stop offset="0.3333" stop-color="#EB672A"/><stop offset="0.4167" stop-color="#D64C40"/><stop offset="0.5" stop-color="#C43B50"/><stop offset="0.5833" stop-color="#B5315C"/><stop offset="0.6667" stop-color="#A42A66"/><stop offset="0.75" stop-color="#95246E"/><stop offset="0.8333" stop-color="#841F72"/><stop offset="0.9167" stop-color="#701A76"/><stop offset="1" stop-color="#5F1580"/></linearGradient></defs>
<rect x="1348.9" y="112.6" width="71.4" height="351.1" fill="url(#grad-p2)"/>
<g stroke="#FFFFFF" stroke-width="2.3">
<line x1="1348.9" x2="1363.2" y1="114.8" y2="114.8"/>
<line x1="1406" x2="1420.3" y1="114.8" y2="114.8"/>
<line x1="1348.9" x2="1363.2" y1="204.7" y2="204.7"/>
<line x1="1406" x2="1420.3" y1="204.7" y2="204.7"/>
<line x1="1348.9" x2="1363.2" y1="293.5" y2="293.5"/>
<line x1="1406" x2="1420.3" y1="293.5" y2="293.5"/>
<line x1="1348.9" x2="1363.2" y1="383.6" y2="383.6"/>
<line x1="1406" x2="1420.3" y1="383.6" y2="383.6"/>
</g>
<g class="l" font-size="35" fill="#000">
<text x="1440.1" y="126.5">2000</text>
<text x="1440.1" y="216.4">1500</text>
<text x="1440.1" y="305.2">1000</text>
<text x="1440.1" y="395.3">500</text>
</g>
<text class="k" x="1347.9" y="87.4" font-size="44" fill="#000">VAT</text>
</g>
<g class="panel" id="p3">
<rect x="173.5" y="650.3" width="378" height="341.5" fill="#EBEBEB"/>
<clipPath id="clip-p3"><rect x="173.5" y="650.3" width="378" height="341.5"/></clipPath>
<g clip-path="url(#clip-p3)">
<line x1="223.2" x2="223.2" y1="650.3" y2="991.8" stroke="#FAFAFA" stroke-width="2.3"/>
<line x1="323.8" x2="323.8" y1="650.3" y2="991.8" stroke="#FAFAFA" stroke-width="2.3"/>
<line x1="424.2" x2="424.2" y1="650.3" y2="991.8" stroke="#FAFAFA" stroke-width="2.3"/>
<line x1="524.8" x2="524.8" y1="650.3" y2="991.8" stroke="#FAFAFA" stroke-width="2.3"/>
<line x1="173.5" x2="551.5" y1="668.9" y2="668.9" stroke="#FAFAFA" stroke-width="2.3"/>
<line x1="173.5" x2="551.5" y1="725.5" y2="725.5" stroke="#FAFAFA" stroke-width="2.3"/>
<line x1="173.5" x2="551.5" y1="782.1" y2="782.1" stroke="#FAFAFA" stroke-width="2.3"/>
<line x1="173.5" x2="551.5" y1="838.7" y2="838.7" stroke="#FAFAFA" stroke-width="2.3"/>
<line x1="173.5" x2="551.5" y1="895.2" y2="895.2" stroke="#FAFAFA" stroke-width="2.3"/>
<line x1="173.5" x2="551.5" y1="951.8" y2="951.8" stroke="#FAFAFA" stroke-width="2.3"/>
<line x1="173" x2="173" y1="650.3" y2="991.8" stroke="#FFFFFF" stroke-width="4.4"/>
<line x1="273.6" x2="273.6" y1="650.3" y2="991.8" stroke="#FFFFFF" stroke-width="4.4"/>
<line x1="374" x2="374" y1="650.3" y2="991.8" stroke="#FFFFFF" stroke-width="4.4"/>
<line x1="474.5" x2="474.5" y1="650.3" y2="991.8" stroke="#FFFFFF" stroke-width="4.4"/>
<line x1="173.5" x2="551.5" y1="697.2" y2="697.2" stroke="#FFFFFF" stroke-width="4.4"/>
<line x1="173.5" x2="551.5" y1="753.9" y2="753.9" stroke="#FFFFFF" stroke-width="4.4"/>
<line x1="173.5" x2="551.5" y1="810.5" y2="810.5" stroke="#FFFFFF" stroke-width="4.4"/>
<line x1="173.5" x2="551.5" y1="866.9" y2="866.9" stroke="#FFFFFF" stroke-width="4.4"/>
<line x1="173.5" x2="551.5" y1="923.4" y2="923.4" stroke="#FFFFFF" stroke-width="4.4"/>
<line x1="173.5" x2="551.5" y1="980.1" y2="980.1" stroke="#FFFFFF" stroke-width="4.4"/>
</g>
<g class="points">
<circle cx="245.1" cy="813.7" r="9.3" fill="#A52B65"/>
<circle cx="349.1" cy="823.3" r="9.3" fill="#96246D"/>
<circle cx="439.1" cy="728.9" r="9.3" fill="#791C74"/>
<circle cx="281" cy="783.5" r="9.3" fill="#701A76"/>
<circle cx="251.9" cy="775.1" r="9.3" fill="#A92C63"/>
<circle cx="396.5" cy="805.6" r="9.3" fill="#AF2F60"/>
<circle cx="423.7" cy="722.3" r="9.3" fill="#95246E"/>
<circle cx="266.2" cy="860.2" r="9.3" fill="#A02868"/>
<circle cx="368.8" cy="783.1" r="9.3" fill="#93246E"/>
<circle cx="376.9" cy="845.8" r="9.3" fill="#6A187A"/>
<circle cx="204.2" cy="857.1" r="9.3" fill="#5F1580"/>
<circle cx="322.4" cy="758.1" r="9.3" fill="#8D2270"/>
<circle cx="331.3" cy="864.8" r="9.3" fill="#A52B65"/>
<circle cx="300.9" cy="777.3" r="9.3" fill="#741B75"/>
<circle cx="339.4" cy="850" r="9.3" fill="#A92C63"/>
<circle cx="446.5" cy="785.8" r="9.3" fill="#67177B"/>
<circle cx="383.4" cy="794.3" r="9.3" fill="#9B266B"/>
<circle cx="420.7" cy="802.8" r="9.3" fill="#64177D"/>
<circle cx="273.1" cy="821.2" r="9.3" fill="#C03953"/>
<circle cx="471.5" cy="791.9" r="9.3" fill="#68187B"/>
<circle cx="223.5" cy="934" r="9.3" fill="#C13953"/>
<circle cx="252.9" cy="916.6" r="9.3" fill="#AE2E60"/>
<circle cx="338.7" cy="874" r="9.3" fill="#9B266B"/>
<circle cx="279.4" cy="854.1" r="9.3" fill="#8D2270"/>
<circle cx="279.6" cy="761" r="9.3" fill="#98256D"/>
<circle cx="359.9" cy="769.2" r="9.3" fill="#8C2170"/>
<circle cx="418.1" cy="787.7" r="9.3" fill="#731B75"/>
<circle cx="241.4" cy="773.2" r="9.3" fill="#A72B64"/>
<circle cx="251.7" cy="882.4" r="9.3" fill="#C63D4E"/>
<circle cx="254.4" cy="726.6" r="9.3" fill="#A02868"/>
<circle cx="323.5" cy="870.8" r="9.3" fill="#831F72"/>
<circle cx="235.9" cy="843.1" r="9.3" fill="#6D1978"/>
<circle cx="221.3" cy="819.3" r="9.3" fill="#F07223"/>
<circle cx="225.8" cy="859.4" r="9.3" fill="#771C75"/>
<circle cx="275.4" cy="739.1" r="9.3" fill="#E55F31"/>
<circle cx="261.4" cy="730.6" r="9.3" fill="#A02868"/>
<circle cx="219" cy="839.4" r="9.3" fill="#DF5737"/>
<circle cx="313" cy="797.5" r="9.3" fill="#A02868"/>
<circle cx="331.8" cy="837.3" r="9.3" fill="#9A266B"/>
<circle cx="272.9" cy="668.8" r="9.3" fill="#95246E"/>
<circle cx="423.2" cy="707.4" r="9.3" fill="#6A1879"/>
<circle cx="360.5" cy="844.7" r="9.3" fill="#68187B"/>
<circle cx="379.7" cy="757.8" r="9.3" fill="#5F1580"/>
<circle cx="351.3" cy="801.7" r="9.3" fill="#9B266B"/>
<circle cx="317.3" cy="824.9" r="9.3" fill="#A32A66"/>
<circle cx="204.3" cy="839.9" r="9.3" fill="#9A266B"/>
<circle cx="315.4" cy="753.2" r="9.3" fill="#7D1D73"/>
<circle cx="310.2" cy="803.1" r="9.3" fill="#AB2D62"/>
<circle cx="443.7" cy="752.5" r="9.3" fill="#65177C"/>
<circle cx="345.9" cy="743.8" r="9.3" fill="#A52A65"/>
<circle cx="514.1" cy="767.8" r="9.3" fill="#69187A"/>
<circle cx="506.7" cy="741" r="9.3" fill="#7C1D74"/>
<circle cx="340.4" cy="888.5" r="9.3" fill="#97256D"/>
<circle cx="359.6" cy="777.7" r="9.3" fill="#9F2868"/>
<circle cx="231.8" cy="856.3" r="9.3" fill="#862072"/>
<circle cx="323.2" cy="827.9" r="9.3" fill="#AD2E61"/>
<circle cx="353.2" cy="776.6" r="9.3" fill="#781C74"/>
<circle cx="189.5" cy="836.1" r="9.3" fill="#F07323"/>
<circle cx="516.1" cy="750.1" r="9.3" fill="#6E1977"/>
<circle cx="311.3" cy="840.9" r="9.3" fill="#8A2171"/>
<circle cx="336.3" cy="889" r="9.3" fill="#AC2D61"/>
<circle cx="468.4" cy="784.6" r="9.3" fill="#7A1C74"/>
<circle cx="314" cy="830.4" r="9.3" fill="#99266C"/>
<circle cx="304" cy="803" r="9.3" fill="#A82C64"/>
<circle cx="305.7" cy="794.3" r="9.3" fill="#CB414A"/>
<circle cx="237.5" cy="936.9" r="9.3" fill="#C13953"/>
<circle cx="243.8" cy="837" r="9.3" fill="#F5831C"/>
<circle cx="392.5" cy="717.2" r="9.3" fill="#861F72"/>
<circle cx="385.6" cy="737.9" r="9.3" fill="#98256C"/>
<circle cx="226.7" cy="953" r="9.3" fill="#B2305E"/>
<circle cx="287.3" cy="848.6" r="9.3" fill="#98256C"/>
<circle cx="348.2" cy="755.9" r="9.3" fill="#CC4349"/>
<circle cx="373" cy="780.3" r="9.3" fill="#A62B65"/>
<circle cx="381.8" cy="747.5" r="9.3" fill="#6F1A76"/>
<circle cx="383.6" cy="841.5" r="9.3" fill="#62167E"/>
<circle cx="223.2" cy="955.7" r="9.3" fill="#BC3656"/>
<circle cx="442" cy="782.7" r="9.3" fill="#761B75"/>
<circle cx="320.9" cy="755.5" r="9.3" fill="#7F1E73"/>
<circle cx="329.2" cy="885.6" r="9.3" fill="#9D276A"/>
<circle cx="270.9" cy="713.7" r="9.3" fill="#8D2270"/>
<circle cx="261.7" cy="851.4" r="9.3" fill="#AD2E61"/>
<circle cx="383.4" cy="832.4" r="9.3" fill="#6E1977"/>
<circle cx="242.1" cy="931" r="9.3" fill="#BC3656"/>
<circle cx="293.4" cy="834.5" r="9.3" fill="#9D276A"/>
<circle cx="418.7" cy="781.9" r="9.3" fill="#741B75"/>
<circle cx="219" cy="865.2" r="9.3" fill="#69187A"/>
<circle cx="332" cy="794.2" r="9.3" fill="#93236E"/>
<circle cx="229.2" cy="958.1" r="9.3" fill="#AE2E60"/>
<circle cx="316.5" cy="800.5" r="9.3" fill="#95246E"/>
<circle cx="336.9" cy="935.4" r="9.3" fill="#721B76"/>
<circle cx="343.5" cy="854.4" r="9.3" fill="#93236E"/>
<circle cx="334.2" cy="924.4" r="9.3" fill="#8D2270"/>
<circle cx="199.4" cy="835.3" r="9.3" fill="#BE3755"/>
<circle cx="229.4" cy="831.4" r="9.3" fill="#E8632D"/>
<circle cx="214.6" cy="967.1" r="9.3" fill="#CC4349"/>
<circle cx="264.2" cy="788.4" r="9.3" fill="#701A76"/>
<circle cx="216.3" cy="904.6" r="9.3" fill="#98256D"/>
<circle cx="202.9" cy="822.1" r="9.3" fill="#8E2270"/>
<circle cx="478.6" cy="774.1" r="9.3" fill="#5F1580"/>
<circle cx="386.2" cy="756.9" r="9.3" fill="#761B75"/>
<circle cx="209.1" cy="885.4" r="9.3" fill="#90236F"/>
<circle cx="191.4" cy="827.2" r="9.3" fill="#D64C40"/>
<circle cx="211.4" cy="972.9" r="9.3" fill="#D14744"/>
<circle cx="351.8" cy="700.8" r="9.3" fill="#95246E"/>
<circle cx="280.7" cy="801.3" r="9.3" fill="#8A2171"/>
<circle cx="341.8" cy="861.7" r="9.3" fill="#99256C"/>
<circle cx="373.9" cy="806.9" r="9.3" fill="#862072"/>
<circle cx="193.2" cy="818.4" r="9.3" fill="#F2791F"/>
<circle cx="248.6" cy="801.2" r="9.3" fill="#98256D"/>
<circle cx="217" cy="911.4" r="9.3" fill="#8F226F"/>
<circle cx="282" cy="788.6" r="9.3" fill="#841F72"/>
<circle cx="240.4" cy="940.1" r="9.3" fill="#C43B50"/>
<circle cx="235.2" cy="883.3" r="9.3" fill="#8A2171"/>
<circle cx="294.4" cy="801.2" r="9.3" fill="#BD3656"/>
<circle cx="249.7" cy="868.1" r="9.3" fill="#ED6C27"/>
<circle cx="432.6" cy="756.9" r="9.3" fill="#6F1A77"/>
<circle cx="287.9" cy="791.7" r="9.3" fill="#A12968"/>
<circle cx="368.6" cy="771" r="9.3" fill="#A32A66"/>
<circle cx="256.6" cy="787.9" r="9.3" fill="#7E1E73"/>
<circle cx="308.8" cy="817.7" r="9.3" fill="#A32A66"/>
<circle cx="248" cy="840" r="9.3" fill="#EC6B28"/>
<circle cx="230.7" cy="884.9" r="9.3" fill="#8D2270"/>
<circle cx="368.1" cy="862.5" r="9.3" fill="#841F72"/>
<circle cx="255.2" cy="896.3" r="9.3" fill="#93236E"/>
<circle cx="494.2" cy="757.9" r="9.3" fill="#6D1978"/>
<circle cx="227.8" cy="915.5" r="9.3" fill="#721A76"/>
<circle cx="382.6" cy="784.3" r="9.3" fill="#A12968"/>
<circle cx="251.7" cy="762.1" r="9.3" fill="#A62B65"/>
<circle cx="233.5" cy="944.9" r="9.3" fill="#B3305D"/>
<circle cx="278.7" cy="765.7" r="9.3" fill="#8B2170"/>
<circle cx="339.2" cy="832.5" r="9.3" fill="#AA2D62"/>
<circle cx="223.9" cy="872.8" r="9.3" fill="#5F1580"/>
<circle cx="369.5" cy="804.1" r="9.3" fill="#90226F"/>
<circle cx="264.8" cy="822.5" r="9.3" fill="#9B266B"/>
<circle cx="250" cy="878.7" r="9.3" fill="#D34A42"/>
<circle cx="356.2" cy="755.4" r="9.3" fill="#CC4349"/>
<circle cx="267.4" cy="768.6" r="9.3" fill="#791C74"/>
<circle cx="343.6" cy="812.2" r="9.3" fill="#98256C"/>
<circle cx="443.1" cy="725.8" r="9.3" fill="#872071"/>
<circle cx="376.4" cy="777.5" r="9.3" fill="#9E2869"/>
<circle cx="388.2" cy="794.1" r="9.3" fill="#9D276A"/>
<circle cx="255.5" cy="745.3" r="9.3" fill="#AB2D62"/>
<circle cx="261.7" cy="745.3" r="9.3" fill="#B12F5F"/>
<circle cx="487.8" cy="767.9" r="9.3" fill="#5F1580"/>
<circle cx="380.4" cy="801.8" r="9.3" fill="#A92C63"/>
<circle cx="353.1" cy="851" r="9.3" fill="#93236E"/>
<circle cx="240" cy="922.9" r="9.3" fill="#B83359"/>
<circle cx="383.1" cy="766.4" r="9.3" fill="#B02F5F"/>
<circle cx="287.8" cy="785.7" r="9.3" fill="#96246D"/>
<circle cx="454.9" cy="763.9" r="9.3" fill="#64177D"/>
<circle cx="328.3" cy="862.5" r="9.3" fill="#9B266B"/>
<circle cx="306.6" cy="760.1" r="9.3" fill="#831F72"/>
<circle cx="334.7" cy="816.5" r="9.3" fill="#9F2869"/>
<circle cx="303" cy="778.7" r="9.3" fill="#65177C"/>
<circle cx="470.5" cy="771.2" r="9.3" fill="#6A187A"/>
<circle cx="525.4" cy="767.3" r="9.3" fill="#5F1580"/>
<circle cx="402.1" cy="721.7" r="9.3" fill="#7E1D73"/>
<circle cx="244.7" cy="791.5" r="9.3" fill="#A42A66"/>
<circle cx="268.6" cy="727.4" r="9.3" fill="#882071"/>
<circle cx="290.9" cy="806.9" r="9.3" fill="#AA2C63"/>
<circle cx="286.1" cy="743.5" r="9.3" fill="#B8335A"/>
<circle cx="391.3" cy="722.4" r="9.3" fill="#6D1978"/>
<circle cx="216.4" cy="915.6" r="9.3" fill="#872071"/>
<circle cx="371.9" cy="842.5" r="9.3" fill="#862072"/>
<circle cx="346.5" cy="852.4" r="9.3" fill="#AB2D62"/>
<circle cx="338.7" cy="810.6" r="9.3" fill="#8F226F"/>
<circle cx="230.2" cy="942.4" r="9.3" fill="#C13953"/>
<circle cx="247" cy="906.6" r="9.3" fill="#A62B65"/>
<circle cx="262.3" cy="784.2" r="9.3" fill="#8A2170"/>
<circle cx="388.3" cy="761.8" r="9.3" fill="#8C2170"/>
<circle cx="328.5" cy="775.4" r="9.3" fill="#A92C63"/>
<circle cx="249.1" cy="912.5" r="9.3" fill="#9A266B"/>
<circle cx="410.6" cy="695.2" r="9.3" fill="#7C1D74"/>
<circle cx="243.2" cy="780" r="9.3" fill="#A42A66"/>
<circle cx="378.2" cy="831.6" r="9.3" fill="#791C74"/>
<circle cx="521.3" cy="766.3" r="9.3" fill="#5F1580"/>
<circle cx="299.4" cy="747.5" r="9.3" fill="#A92C63"/>
<circle cx="259.8" cy="784.2" r="9.3" fill="#892071"/>
<circle cx="301.3" cy="820.6" r="9.3" fill="#9C276A"/>
<circle cx="403.2" cy="793.1" r="9.3" fill="#A32A66"/>
<circle cx="315.7" cy="785.2" r="9.3" fill="#872071"/>
<circle cx="373.3" cy="793.2" r="9.3" fill="#96246D"/>
<circle cx="389.4" cy="749.3" r="9.3" fill="#8B2170"/>
<circle cx="304.5" cy="748.9" r="9.3" fill="#9F2868"/>
<circle cx="391.5" cy="790.1" r="9.3" fill="#A22967"/>
<circle cx="252.9" cy="930.7" r="9.3" fill="#C63D4E"/>
<circle cx="313.8" cy="853" r="9.3" fill="#98256D"/>
<circle cx="349" cy="707.8" r="9.3" fill="#97256D"/>
<circle cx="226.6" cy="901.4" r="9.3" fill="#94246E"/>
<circle cx="427.1" cy="772.6" r="9.3" fill="#741B75"/>
<circle cx="252.1" cy="795.4" r="9.3" fill="#7E1E73"/>
<circle cx="326.2" cy="848.6" r="9.3" fill="#9A266B"/>
<circle cx="319.4" cy="861" r="9.3" fill="#96246D"/>
<circle cx="288.9" cy="751.4" r="9.3" fill="#92236F"/>
<circle cx="265.3" cy="742.7" r="9.3" fill="#C83E4D"/>
<circle cx="317.8" cy="831.6" r="9.3" fill="#AC2D61"/>
<circle cx="347.5" cy="718" r="9.3" fill="#B3305D"/>
<circle cx="266.2" cy="844.2" r="9.3" fill="#A92C63"/>
<circle cx="385.8" cy="802.3" r="9.3" fill="#A02868"/>
<circle cx="304.5" cy="791.6" r="9.3" fill="#BF3854"/>
<circle cx="391" cy="826.3" r="9.3" fill="#721B76"/>
<circle cx="213" cy="953.4" r="9.3" fill="#C53C4F"/>
<circle cx="274.2" cy="795.5" r="9.3" fill="#7C1D74"/>
<circle cx="356.8" cy="826.3" r="9.3" fill="#9C276A"/>
<circle cx="344.5" cy="755.9" r="9.3" fill="#BD3755"/>
<circle cx="209.1" cy="908.8" r="9.3" fill="#98256C"/>
<circle cx="241" cy="906.5" r="9.3" fill="#A82C64"/>
<circle cx="317.1" cy="760.3" r="9.3" fill="#751B75"/>
<circle cx="349" cy="737.6" r="9.3" fill="#B5315C"/>
<circle cx="312.3" cy="791.2" r="9.3" fill="#8C2170"/>
<circle cx="269.2" cy="807.5" r="9.3" fill="#8C2170"/>
<circle cx="429.7" cy="770.1" r="9.3" fill="#68187B"/>
<circle cx="276.6" cy="791.2" r="9.3" fill="#6B1879"/>
<circle cx="347.9" cy="744.8" r="9.3" fill="#B5315C"/>
<circle cx="450.5" cy="787.4" r="9.3" fill="#60157F"/>
<circle cx="212.6" cy="965.9" r="9.3" fill="#C9404B"/>
<circle cx="298.7" cy="811.1" r="9.3" fill="#93246E"/>
<circle cx="268.6" cy="748.1" r="9.3" fill="#BD3656"/>
<circle cx="385.1" cy="731.7" r="9.3" fill="#9D276A"/>
<circle cx="379.7" cy="829.3" r="9.3" fill="#6D1978"/>
<circle cx="298.6" cy="735.4" r="9.3" fill="#9E2869"/>
<circle cx="246.3" cy="747.4" r="9.3" fill="#BA3458"/>
<circle cx="224.5" cy="819.1" r="9.3" fill="#E8632D"/>
<circle cx="241.4" cy="739.5" r="9.3" fill="#B3305D"/>
<circle cx="215.3" cy="969.4" r="9.3" fill="#C53C4F"/>
<circle cx="393.2" cy="734.5" r="9.3" fill="#90226F"/>
<circle cx="211.2" cy="843.5" r="9.3" fill="#AB2D62"/>
<circle cx="365.8" cy="803" r="9.3" fill="#99266C"/>
<circle cx="267.1" cy="812" r="9.3" fill="#A02868"/>
<circle cx="244.2" cy="914.8" r="9.3" fill="#AD2E61"/>
<circle cx="481.4" cy="780.9" r="9.3" fill="#601580"/>
<circle cx="365.6" cy="835.2" r="9.3" fill="#8E2270"/>
<circle cx="219.6" cy="862.6" r="9.3" fill="#711A76"/>
<circle cx="251.7" cy="830" r="9.3" fill="#EE6F25"/>
<circle cx="228.8" cy="948.2" r="9.3" fill="#C63D4E"/>
<circle cx="380.7" cy="738.2" r="9.3" fill="#9B266B"/>
<circle cx="314.7" cy="789.3" r="9.3" fill="#8B2170"/>
<circle cx="319.7" cy="818" r="9.3" fill="#9B266B"/>
<circle cx="377.4" cy="745.6" r="9.3" fill="#96246D"/>
<circle cx="499.1" cy="766.5" r="9.3" fill="#5F1580"/>
<circle cx="336.3" cy="826.3" r="9.3" fill="#AA2C62"/>
<circle cx="353.9" cy="773.9" r="9.3" fill="#811E73"/>
<circle cx="355.1" cy="831.8" r="9.3" fill="#851F72"/>
<circle cx="433.6" cy="726.2" r="9.3" fill="#92236F"/>
<circle cx="265.5" cy="868" r="9.3" fill="#C23A51"/>
<circle cx="441" cy="790.9" r="9.3" fill="#751B75"/>
<circle cx="242.4" cy="730.9" r="9.3" fill="#B6325B"/>
<circle cx="256.7" cy="795.3" r="9.3" fill="#6B1879"/>
<circle cx="214.8" cy="871.7" r="9.3" fill="#761B75"/>
<circle cx="475.9" cy="767.8" r="9.3" fill="#5F1580"/>
<circle cx="402.1" cy="742.2" r="9.3" fill="#882071"/>
<circle cx="313" cy="757.4" r="9.3" fill="#7E1E73"/>
<circle cx="279.7" cy="830.4" r="9.3" fill="#98256C"/>
<circle cx="234.1" cy="952.7" r="9.3" fill="#B4315C"/>
<circle cx="323.2" cy="876.6" r="9.3" fill="#851F72"/>
<circle cx="271.8" cy="746.7" r="9.3" fill="#EC6B28"/>
<circle cx="353.3" cy="793.4" r="9.3" fill="#9C276A"/>
<circle cx="452.4" cy="759.9" r="9.3" fill="#68187B"/>
<circle cx="271.5" cy="767.4" r="9.3" fill="#7E1E73"/>
<circle cx="264.1" cy="815.6" r="9.3" fill="#A62B65"/>
<circle cx="203" cy="850.8" r="9.3" fill="#62167E"/>
<circle cx="238.8" cy="974.5" r="9.3" fill="#D24844"/>
<circle cx="377.3" cy="807.4" r="9.3" fill="#AE2E60"/>
<circle cx="250.8" cy="806.9" r="9.3" fill="#90236F"/>
<circle cx="215.3" cy="806.3" r="9.3" fill="#8B2170"/>
<circle cx="246" cy="772.4" r="9.3" fill="#BA3458"/>
<circle cx="301.7" cy="760.1" r="9.3" fill="#A82C64"/>
<circle cx="243.9" cy="761.7" r="9.3" fill="#E55F31"/>
<circle cx="243.4" cy="733.3" r="9.3" fill="#A92C63"/>
<circle cx="334.8" cy="797.7" r="9.3" fill="#96246D"/>
<circle cx="510.2" cy="772.8" r="9.3" fill="#64167D"/>
<circle cx="296.2" cy="787.7" r="9.3" fill="#D14844"/>
<circle cx="252.9" cy="923.7" r="9.3" fill="#B7325B"/>
<circle cx="335.7" cy="943.2" r="9.3" fill="#6E1977"/>
<circle cx="255.7" cy="832.9" r="9.3" fill="#E05935"/>
<circle cx="363.2" cy="828.8" r="9.3" fill="#7E1D73"/>
<circle cx="430" cy="762.5" r="9.3" fill="#751B75"/>
<circle cx="218.3" cy="844.9" r="9.3" fill="#EF7224"/>
<circle cx="508.1" cy="752.7" r="9.3" fill="#61167F"/>
<circle cx="355.9" cy="837.5" r="9.3" fill="#851F72"/>
<circle cx="401.7" cy="733.4" r="9.3" fill="#95246E"/>
<circle cx="283.6" cy="781" r="9.3" fill="#831F72"/>
<circle cx="267.7" cy="831.6" r="9.3" fill="#9E2869"/>
<circle cx="290.6" cy="838.5" r="9.3" fill="#9F2869"/>
<circle cx="273.1" cy="733.4" r="9.3" fill="#AF2E60"/>
<circle cx="238" cy="962" r="9.3" fill="#C43B50"/>
<circle cx="327.7" cy="817.3" r="9.3" fill="#92236F"/>
<circle cx="247.5" cy="874.6" r="9.3" fill="#D54B41"/>
<circle cx="433.1" cy="799" r="9.3" fill="#711A76"/>
<circle cx="245.2" cy="884.9" r="9.3" fill="#9E2769"/>
<circle cx="302.9" cy="844.7" r="9.3" fill="#9E2869"/>
<circle cx="439.4" cy="801.3" r="9.3" fill="#66177C"/>
<circle cx="326.6" cy="807.7" r="9.3" fill="#9E2869"/>
<circle cx="363.8" cy="846.7" r="9.3" fill="#761C75"/>
<circle cx="304.5" cy="775.4" r="9.3" fill="#60157F"/>
<circle cx="342" cy="880.7" r="9.3" fill="#93236F"/>
<circle cx="229.6" cy="937.9" r="9.3" fill="#C03854"/>
<circle cx="254.1" cy="841.2" r="9.3" fill="#E55F31"/>
<circle cx="316.4" cy="768.2" r="9.3" fill="#8B2170"/>
<circle cx="503.9" cy="762" r="9.3" fill="#5F1580"/>
<circle cx="260.4" cy="769.9" r="9.3" fill="#9C276A"/>
<circle cx="265.2" cy="802.7" r="9.3" fill="#5F1580"/>
<circle cx="411.4" cy="725.7" r="9.3" fill="#8D2270"/>
<circle cx="406.1" cy="805.4" r="9.3" fill="#5F1580"/>
<circle cx="402.1" cy="789.6" r="9.3" fill="#98256C"/>
<circle cx="487.4" cy="772.3" r="9.3" fill="#69187A"/>
<circle cx="218.3" cy="858.1" r="9.3" fill="#5F1580"/>
<circle cx="279.6" cy="739.4" r="9.3" fill="#B5315C"/>
<circle cx="234.6" cy="916.7" r="9.3" fill="#9E2769"/>
<circle cx="296.8" cy="819.4" r="9.3" fill="#9E2869"/>
<circle cx="390.9" cy="758.9" r="9.3" fill="#92236F"/>
<circle cx="382.6" cy="753.3" r="9.3" fill="#69187A"/>
<circle cx="236.8" cy="879" r="9.3" fill="#98256D"/>
<circle cx="400.5" cy="785.3" r="9.3" fill="#9F2869"/>
<circle cx="254.5" cy="844.9" r="9.3" fill="#CA414A"/>
<circle cx="301.9" cy="766.7" r="9.3" fill="#821F72"/>
<circle cx="314.7" cy="758.4" r="9.3" fill="#851F72"/>
<circle cx="320.4" cy="834.6" r="9.3" fill="#B1305E"/>
<circle cx="313.6" cy="807.7" r="9.3" fill="#9A266B"/>
<circle cx="296.3" cy="750.6" r="9.3" fill="#A32A67"/>
<circle cx="222.1" cy="865.8" r="9.3" fill="#731B75"/>
<circle cx="191.9" cy="833.8" r="9.3" fill="#ED6B27"/>
<circle cx="267.7" cy="816.6" r="9.3" fill="#90236F"/>
<circle cx="398" cy="713.3" r="9.3" fill="#741B75"/>
<circle cx="215.3" cy="818.1" r="9.3" fill="#C23952"/>
<circle cx="237.2" cy="949.5" r="9.3" fill="#B6325B"/>
<circle cx="243" cy="855.1" r="9.3" fill="#8D2270"/>
<circle cx="224.3" cy="906.8" r="9.3" fill="#851F72"/>
<circle cx="345.9" cy="859.4" r="9.3" fill="#A82C64"/>
<circle cx="327.2" cy="856.2" r="9.3" fill="#A22967"/>
<circle cx="248.2" cy="827" r="9.3" fill="#F37A1F"/>
<circle cx="422.7" cy="716.1" r="9.3" fill="#882071"/>
<circle cx="384.5" cy="723.6" r="9.3" fill="#862072"/>
<circle cx="221.1" cy="879" r="9.3" fill="#8D2270"/>
<circle cx="206.6" cy="876.8" r="9.3" fill="#AB2D62"/>
<circle cx="215.2" cy="938.3" r="9.3" fill="#C63D4F"/>
<circle cx="418.5" cy="766.6" r="9.3" fill="#872071"/>
<circle cx="220.4" cy="924.1" r="9.3" fill="#851F72"/>
<circle cx="252.9" cy="902.6" r="9.3" fill="#A82C63"/>
<circle cx="207.8" cy="833.7" r="9.3" fill="#7F1E73"/>
<circle cx="290.2" cy="831.9" r="9.3" fill="#AF2F60"/>
<circle cx="416.8" cy="778.3" r="9.3" fill="#7C1D74"/>
<circle cx="412.7" cy="794" r="9.3" fill="#761B75"/>
<circle cx="250.7" cy="928" r="9.3" fill="#C33B51"/>
<circle cx="345.9" cy="751.6" r="9.3" fill="#A82C64"/>
<circle cx="248.1" cy="759.9" r="9.3" fill="#AC2D61"/>
<circle cx="345.2" cy="830.4" r="9.3" fill="#8F226F"/>
<circle cx="236.7" cy="874.7" r="9.3" fill="#8C2170"/>
<circle cx="349.8" cy="720.4" r="9.3" fill="#A82C64"/>
<circle cx="388.1" cy="807.8" r="9.3" fill="#A22967"/>
<circle cx="233.4" cy="919.4" r="9.3" fill="#97256D"/>
<circle cx="247.6" cy="852.1" r="9.3" fill="#B2305E"/>
<circle cx="218" cy="940.2" r="9.3" fill="#C9404B"/>
<circle cx="342.6" cy="771.4" r="9.3" fill="#60157F"/>
<circle cx="371.4" cy="771.9" r="9.3" fill="#8E2270"/>
<circle cx="443.3" cy="761" r="9.3" fill="#62167F"/>
<circle cx="417.6" cy="701.6" r="9.3" fill="#6E1977"/>
<circle cx="334.8" cy="908.9" r="9.3" fill="#9F2869"/>
<circle cx="215.6" cy="833.5" r="9.3" fill="#A52A65"/>
<circle cx="198.8" cy="869.1" r="9.3" fill="#C33A51"/>
<circle cx="251.3" cy="922.4" r="9.3" fill="#A82B64"/>
<circle cx="391.5" cy="746.1" r="9.3" fill="#9B266B"/>
<circle cx="337.7" cy="919.8" r="9.3" fill="#9D276A"/>
<circle cx="426.9" cy="804.4" r="9.3" fill="#781C74"/>
<circle cx="212.2" cy="829.7" r="9.3" fill="#751B75"/>
<circle cx="397.5" cy="812.2" r="9.3" fill="#90236F"/>
<circle cx="408.7" cy="700.8" r="9.3" fill="#6A187A"/>
<circle cx="260.7" cy="847" r="9.3" fill="#9E2869"/>
<circle cx="234.4" cy="912.7" r="9.3" fill="#90226F"/>
<circle cx="234.8" cy="862.3" r="9.3" fill="#791C74"/>
<circle cx="388.1" cy="734.8" r="9.3" fill="#8C2170"/>
<circle cx="442.1" cy="772.3" r="9.3" fill="#5F1580"/>
<circle cx="366.6" cy="859.1" r="9.3" fill="#7A1C74"/>
<circle cx="195" cy="809.5" r="9.3" fill="#D9503D"/>
<circle cx="356" cy="847.9" r="9.3" fill="#882071"/>
<circle cx="216.8" cy="878.6" r="9.3" fill="#861F72"/>
<circle cx="399.6" cy="736.8" r="9.3" fill="#8D2270"/>
<circle cx="427" cy="756.1" r="9.3" fill="#761C75"/>
<circle cx="193.1" cy="839.4" r="9.3" fill="#EB6829"/>
<circle cx="332.4" cy="814.2" r="9.3" fill="#9A266B"/>
<circle cx="260.7" cy="877.5" r="9.3" fill="#EE6E26"/>
<circle cx="318.9" cy="807.2" r="9.3" fill="#9F2869"/>
<circle cx="431.9" cy="793.3" r="9.3" fill="#601580"/>
<circle cx="432.4" cy="807.1" r="9.3" fill="#5F1580"/>
<circle cx="331.8" cy="915.1" r="9.3" fill="#8F226F"/>
<circle cx="396.9" cy="752.2" r="9.3" fill="#98256C"/>
<circle cx="407.1" cy="759" r="9.3" fill="#8B2170"/>
<circle cx="235.8" cy="829" r="9.3" fill="#D24844"/>
<circle cx="196.7" cy="833.4" r="9.3" fill="#C63D4F"/>
<circle cx="322.6" cy="762.5" r="9.3" fill="#6F1A76"/>
<circle cx="237.2" cy="887.5" r="9.3" fill="#9A266B"/>
<circle cx="272.4" cy="814.2" r="9.3" fill="#A12968"/>
<circle cx="402.6" cy="731" r="9.3" fill="#98256D"/>
<circle cx="345.7" cy="822.3" r="9.3" fill="#95246E"/>
<circle cx="268.9" cy="742.3" r="9.3" fill="#DF5836"/>
<circle cx="508.7" cy="755.4" r="9.3" fill="#7E1D73"/>
<circle cx="464.5" cy="769.3" r="9.3" fill="#5F1580"/>
<circle cx="223.8" cy="946.2" r="9.3" fill="#B83359"/>
<circle cx="209.1" cy="893.2" r="9.3" fill="#96246E"/>
<circle cx="499.2" cy="757.4" r="9.3" fill="#62167E"/>
<circle cx="338.5" cy="846.8" r="9.3" fill="#A22967"/>
<circle cx="272.1" cy="798.5" r="9.3" fill="#6B1979"/>
<circle cx="202.8" cy="880.1" r="9.3" fill="#AB2D62"/>
<circle cx="355.2" cy="811.8" r="9.3" fill="#9D276A"/>
<circle cx="367" cy="746.2" r="9.3" fill="#B02F5F"/>
<circle cx="283.4" cy="738.3" r="9.3" fill="#B4315C"/>
<circle cx="453.5" cy="766.9" r="9.3" fill="#6B1979"/>
<circle cx="239.7" cy="712.5" r="9.3" fill="#BA3558"/>
<circle cx="217.5" cy="959" r="9.3" fill="#CB424A"/>
<circle cx="452.6" cy="778" r="9.3" fill="#68187B"/>
<circle cx="337.7" cy="840.8" r="9.3" fill="#9D276A"/>
<circle cx="428.9" cy="752.5" r="9.3" fill="#6E1977"/>
<circle cx="246.1" cy="817.6" r="9.3" fill="#A32A66"/>
<circle cx="328.8" cy="826.5" r="9.3" fill="#A32967"/>
<circle cx="259.5" cy="724.3" r="9.3" fill="#8D2270"/>
<circle cx="284.5" cy="757.6" r="9.3" fill="#90236F"/>
<circle cx="327.6" cy="878.2" r="9.3" fill="#8F226F"/>
<circle cx="353.7" cy="843.4" r="9.3" fill="#8B2170"/>
<circle cx="298" cy="798.8" r="9.3" fill="#E45E31"/>
<circle cx="212.2" cy="947.9" r="9.3" fill="#D14745"/>
<circle cx="502" cy="766" r="9.3" fill="#5F1580"/>
<circle cx="231.8" cy="974.5" r="9.3" fill="#C13953"/>
<circle cx="327.1" cy="897.9" r="9.3" fill="#9E2769"/>
<circle cx="290" cy="755.5" r="9.3" fill="#98256C"/>
<circle cx="419.6" cy="777.9" r="9.3" fill="#5F1580"/>
<circle cx="341.8" cy="801.2" r="9.3" fill="#A32A66"/>
<circle cx="199.1" cy="828.5" r="9.3" fill="#8D2270"/>
<circle cx="237.3" cy="868.1" r="9.3" fill="#8D2270"/>
<circle cx="229.9" cy="915.5" r="9.3" fill="#91236F"/>
<circle cx="243.9" cy="718.8" r="9.3" fill="#B12F5E"/>
<circle cx="449.5" cy="783.6" r="9.3" fill="#61167F"/>
<circle cx="259.9" cy="840.1" r="9.3" fill="#B4315D"/>
<circle cx="341" cy="762.6" r="9.3" fill="#892171"/>
<circle cx="416.9" cy="723.2" r="9.3" fill="#90236F"/>
<circle cx="387.6" cy="823.4" r="9.3" fill="#90226F"/>
<circle cx="232.8" cy="868" r="9.3" fill="#701A76"/>
<circle cx="301.2" cy="807" r="9.3" fill="#A72B64"/>
<circle cx="334.5" cy="798.9" r="9.3" fill="#A42A66"/>
<circle cx="500.9" cy="746.4" r="9.3" fill="#851F72"/>
<circle cx="320.1" cy="847" r="9.3" fill="#BE3755"/>
<circle cx="335.7" cy="762.6" r="9.3" fill="#721A76"/>
<circle cx="276.6" cy="838.5" r="9.3" fill="#9F2869"/>
<circle cx="222.2" cy="832.7" r="9.3" fill="#D74D3F"/>
<circle cx="320.1" cy="866.6" r="9.3" fill="#97256D"/>
<circle cx="280.3" cy="804.2" r="9.3" fill="#98256C"/>
<circle cx="353.3" cy="768.8" r="9.3" fill="#7B1D74"/>
<circle cx="256.9" cy="826.8" r="9.3" fill="#BA3558"/>
<circle cx="344" cy="875.6" r="9.3" fill="#A32A66"/>
<circle cx="239.7" cy="722.3" r="9.3" fill="#B5315C"/>
<circle cx="249" cy="916.8" r="9.3" fill="#9C276A"/>
<circle cx="239.7" cy="780.9" r="9.3" fill="#AB2D62"/>
<circle cx="242.3" cy="707.1" r="9.3" fill="#A42A66"/>
<circle cx="297.4" cy="730.1" r="9.3" fill="#A62B65"/>
<circle cx="416.3" cy="775.4" r="9.3" fill="#821E72"/>
<circle cx="440.8" cy="761.5" r="9.3" fill="#67177B"/>
<circle cx="383.4" cy="735.4" r="9.3" fill="#94246E"/>
<circle cx="444.1" cy="734.4" r="9.3" fill="#882071"/>
<circle cx="420.1" cy="752.9" r="9.3" fill="#7E1E73"/>
<circle cx="258.9" cy="779.6" r="9.3" fill="#8F226F"/>
<circle cx="255.1" cy="780.1" r="9.3" fill="#9F2869"/>
<circle cx="306.5" cy="808" r="9.3" fill="#892071"/>
<circle cx="368.4" cy="753" r="9.3" fill="#92236F"/>
<circle cx="336.2" cy="921.4" r="9.3" fill="#94246E"/>
<circle cx="295.2" cy="805.9" r="9.3" fill="#AF2E60"/>
<circle cx="486.3" cy="775.5" r="9.3" fill="#5F1580"/>
<circle cx="369.9" cy="748.2" r="9.3" fill="#95246E"/>
<circle cx="320.1" cy="876" r="9.3" fill="#95246E"/>
<circle cx="261.8" cy="750" r="9.3" fill="#A22967"/>
<circle cx="276.1" cy="799.2" r="9.3" fill="#771C75"/>
<circle cx="387.1" cy="789.2" r="9.3" fill="#A22967"/>
<circle cx="298.8" cy="829.9" r="9.3" fill="#A32A67"/>
<circle cx="290.2" cy="825.1" r="9.3" fill="#9D276A"/>
<circle cx="269" cy="754.8" r="9.3" fill="#711A76"/>
<circle cx="436.2" cy="714" r="9.3" fill="#831F72"/>
<circle cx="363.3" cy="811.3" r="9.3" fill="#96256D"/>
<circle cx="393.5" cy="800.3" r="9.3" fill="#A62B65"/>
<circle cx="321.7" cy="857.7" r="9.3" fill="#9C276A"/>
<circle cx="437.9" cy="809.9" r="9.3" fill="#65177C"/>
<circle cx="332.2" cy="896.6" r="9.3" fill="#8E2270"/>
<circle cx="432.2" cy="773.6" r="9.3" fill="#6C1979"/>
<circle cx="445.1" cy="775.5" r="9.3" fill="#62167E"/>
<circle cx="311.2" cy="822.4" r="9.3" fill="#9E2769"/>
<circle cx="242.4" cy="859.6" r="9.3" fill="#9B266B"/>
<circle cx="239.7" cy="771.2" r="9.3" fill="#AB2D62"/>
<circle cx="448.4" cy="751.5" r="9.3" fill="#6B1979"/>
<circle cx="223.2" cy="838.6" r="9.3" fill="#F07323"/>
<circle cx="331.5" cy="834.2" r="9.3" fill="#A02968"/>
<circle cx="230.2" cy="825.8" r="9.3" fill="#D34943"/>
<circle cx="270.1" cy="866.6" r="9.3" fill="#B5315C"/>
<circle cx="330.1" cy="764.4" r="9.3" fill="#831F72"/>
<circle cx="373.2" cy="733.6" r="9.3" fill="#AB2D62"/>
<circle cx="279.3" cy="757.6" r="9.3" fill="#6C1979"/>
<circle cx="203.7" cy="818.4" r="9.3" fill="#E45D32"/>
<circle cx="342.8" cy="805.7" r="9.3" fill="#9D276A"/>
<circle cx="220.6" cy="926.6" r="9.3" fill="#9B266B"/>
<circle cx="374.6" cy="726.6" r="9.3" fill="#851F72"/>
<circle cx="245.4" cy="876.1" r="9.3" fill="#C03853"/>
<circle cx="224.8" cy="822.4" r="9.3" fill="#E9652C"/>
<circle cx="414.4" cy="752.8" r="9.3" fill="#8D2270"/>
<circle cx="242.4" cy="894" r="9.3" fill="#9F2869"/>
<circle cx="423.8" cy="733.5" r="9.3" fill="#811E73"/>
<circle cx="241.5" cy="883.4" r="9.3" fill="#8E2270"/>
<circle cx="351.6" cy="687.5" r="9.3" fill="#9C276A"/>
<circle cx="230.9" cy="896.5" r="9.3" fill="#9A266B"/>
<circle cx="344.9" cy="805.9" r="9.3" fill="#8E2270"/>
<circle cx="377.1" cy="737.1" r="9.3" fill="#AB2D62"/>
<circle cx="260.1" cy="742.1" r="9.3" fill="#B12F5F"/>
<circle cx="349.8" cy="843.9" r="9.3" fill="#9A266B"/>
<circle cx="315" cy="763" r="9.3" fill="#751B75"/>
<circle cx="231.8" cy="934.5" r="9.3" fill="#B6325B"/>
<circle cx="257.6" cy="890" r="9.3" fill="#B6325B"/>
<circle cx="391.5" cy="727.2" r="9.3" fill="#862072"/>
<circle cx="438.9" cy="720.7" r="9.3" fill="#761C75"/>
<circle cx="377.6" cy="766.3" r="9.3" fill="#862071"/>
<circle cx="449.2" cy="775.2" r="9.3" fill="#65177C"/>
<circle cx="396.5" cy="783.7" r="9.3" fill="#A82C64"/>
<circle cx="400.4" cy="715.2" r="9.3" fill="#7A1C74"/>
<circle cx="234.4" cy="966.6" r="9.3" fill="#BC3656"/>
<circle cx="261.5" cy="866.9" r="9.3" fill="#D44B41"/>
<circle cx="476.4" cy="786.4" r="9.3" fill="#61167F"/>
<circle cx="328" cy="872.3" r="9.3" fill="#95246E"/>
<circle cx="262" cy="805.8" r="9.3" fill="#64177D"/>
<circle cx="358.2" cy="798.7" r="9.3" fill="#A12968"/>
<circle cx="328" cy="805.5" r="9.3" fill="#9A266B"/>
<circle cx="446.2" cy="795" r="9.3" fill="#5F1580"/>
<circle cx="292.1" cy="783.4" r="9.3" fill="#95246E"/>
<circle cx="216.4" cy="885.3" r="9.3" fill="#96246E"/>
<circle cx="288.8" cy="743.8" r="9.3" fill="#AC2D61"/>
<circle cx="281" cy="839.6" r="9.3" fill="#8E2270"/>
<circle cx="502.7" cy="752.8" r="9.3" fill="#861F72"/>
<circle cx="239.7" cy="790.7" r="9.3" fill="#A02868"/>
<circle cx="270.7" cy="794.5" r="9.3" fill="#68187B"/>
<circle cx="266.1" cy="794" r="9.3" fill="#781C74"/>
<circle cx="425.6" cy="773.9" r="9.3" fill="#701A76"/>
<circle cx="434.9" cy="766.2" r="9.3" fill="#66177C"/>
<circle cx="361.9" cy="758.2" r="9.3" fill="#B3305D"/>
<circle cx="513.3" cy="754.7" r="9.3" fill="#64167D"/>
<circle cx="210.8" cy="906.1" r="9.3" fill="#98256D"/>
<circle cx="511.4" cy="745.5" r="9.3" fill="#6D1978"/>
<circle cx="209.1" cy="820.5" r="9.3" fill="#99266C"/>
<circle cx="213.8" cy="958.8" r="9.3" fill="#C83F4D"/>
<circle cx="274.8" cy="860.3" r="9.3" fill="#9F2869"/>
<circle cx="433.9" cy="804.2" r="9.3" fill="#701A76"/>
<circle cx="376.1" cy="830.3" r="9.3" fill="#61167F"/>
<circle cx="405.3" cy="750.1" r="9.3" fill="#8F2270"/>
<circle cx="301.2" cy="826.1" r="9.3" fill="#A52B65"/>
<circle cx="201.2" cy="859.5" r="9.3" fill="#721A76"/>
<circle cx="332.7" cy="768.7" r="9.3" fill="#A82C64"/>
<circle cx="459.3" cy="777.3" r="9.3" fill="#6D1978"/>
<circle cx="337.8" cy="823.3" r="9.3" fill="#95246E"/>
<circle cx="222.8" cy="902.2" r="9.3" fill="#8F226F"/>
<circle cx="419.2" cy="723.9" r="9.3" fill="#91236F"/>
<circle cx="394.2" cy="794.2" r="9.3" fill="#A42A66"/>
<circle cx="263.1" cy="820.9" r="9.3" fill="#A82C64"/>
<circle cx="356.2" cy="772.5" r="9.3" fill="#8F226F"/>
<circle cx="250.5" cy="858.1" r="9.3" fill="#9E2769"/>
<circle cx="385.5" cy="829.2" r="9.3" fill="#7D1D73"/>
<circle cx="404.4" cy="712.6" r="9.3" fill="#821E72"/>
<circle cx="294.6" cy="740.1" r="9.3" fill="#A62B65"/>
<circle cx="217.7" cy="922.7" r="9.3" fill="#7D1D73"/>
<circle cx="325.1" cy="774.8" r="9.3" fill="#A92C63"/>
<circle cx="295.7" cy="813.1" r="9.3" fill="#A52A65"/>
<circle cx="383.1" cy="838.5" r="9.3" fill="#67177C"/>
<circle cx="256.9" cy="800.5" r="9.3" fill="#6F1A77"/>
<circle cx="249.6" cy="756.6" r="9.3" fill="#A62B65"/>
<circle cx="449.6" cy="741.5" r="9.3" fill="#6D1978"/>
<circle cx="345.9" cy="775" r="9.3" fill="#6F1A77"/>
<circle cx="382.4" cy="761.2" r="9.3" fill="#67177B"/>
<circle cx="214.6" cy="943" r="9.3" fill="#C43B50"/>
<circle cx="408.2" cy="685.2" r="9.3" fill="#98256C"/>
<circle cx="193.1" cy="845.1" r="9.3" fill="#B93459"/>
<circle cx="502" cy="760.5" r="9.3" fill="#5F1580"/>
<circle cx="258.2" cy="850.1" r="9.3" fill="#AF2F5F"/>
<circle cx="249.4" cy="745" r="9.3" fill="#B12F5E"/>
<circle cx="256.2" cy="870.8" r="9.3" fill="#EF7124"/>
<circle cx="379.6" cy="730" r="9.3" fill="#97256D"/>
<circle cx="213.4" cy="837.5" r="9.3" fill="#B5315C"/>
<circle cx="221.7" cy="890.4" r="9.3" fill="#851F72"/>
<circle cx="267.6" cy="762.4" r="9.3" fill="#771C75"/>
<circle cx="361.1" cy="789.6" r="9.3" fill="#AA2C63"/>
<circle cx="370.3" cy="850" r="9.3" fill="#6A187A"/>
<circle cx="238.7" cy="833.2" r="9.3" fill="#EC6A28"/>
<circle cx="289.2" cy="827.9" r="9.3" fill="#AE2E60"/>
<circle cx="193.5" cy="861.9" r="9.3" fill="#C73D4E"/>
<circle cx="455.1" cy="748.5" r="9.3" fill="#6E1977"/>
<circle cx="352.9" cy="754.8" r="9.3" fill="#C43B50"/>
<circle cx="236.9" cy="797" r="9.3" fill="#9B266B"/>
<circle cx="366.9" cy="823.9" r="9.3" fill="#8C2170"/>
<circle cx="347.8" cy="817.4" r="9.3" fill="#A52A65"/>
<circle cx="459.8" cy="782.5" r="9.3" fill="#5F1580"/>
<circle cx="295.4" cy="795.5" r="9.3" fill="#C73E4D"/>
<circle cx="304.5" cy="817.4" r="9.3" fill="#A32A66"/>
<circle cx="326.9" cy="811.3" r="9.3" fill="#A12968"/>
<circle cx="224.7" cy="974.5" r="9.3" fill="#C43B50"/>
<circle cx="248.5" cy="844.3" r="9.3" fill="#D24844"/>
<circle cx="263.8" cy="826" r="9.3" fill="#AD2E61"/>
<circle cx="237" cy="895.9" r="9.3" fill="#AD2E61"/>
<circle cx="225.8" cy="967.2" r="9.3" fill="#C63D4F"/>
<circle cx="495.1" cy="763.6" r="9.3" fill="#68187B"/>
<circle cx="350.3" cy="856.1" r="9.3" fill="#B12F5F"/>
<circle cx="238" cy="907.5" r="9.3" fill="#BA3458"/>
<circle cx="237.6" cy="955.7" r="9.3" fill="#AC2D61"/>
<circle cx="324.8" cy="890" r="9.3" fill="#A72B64"/>
<circle cx="380.6" cy="772.9" r="9.3" fill="#96246D"/>
<circle cx="226.3" cy="850.8" r="9.3" fill="#AF2F5F"/>
<circle cx="250.9" cy="782" r="9.3" fill="#B12F5E"/>
<circle cx="337.2" cy="802.2" r="9.3" fill="#90236F"/>
<circle cx="432.2" cy="713.4" r="9.3" fill="#861F72"/>
<circle cx="228.8" cy="847.2" r="9.3" fill="#AF2F60"/>
<circle cx="232.9" cy="823.9" r="9.3" fill="#DC5439"/>
<circle cx="269.7" cy="856.5" r="9.3" fill="#94246E"/>
<circle cx="324.4" cy="818.2" r="9.3" fill="#9F2868"/>
<circle cx="380.9" cy="752.7" r="9.3" fill="#761C75"/>
<circle cx="197.4" cy="810" r="9.3" fill="#F47D1E"/>
<circle cx="264.1" cy="775.3" r="9.3" fill="#862072"/>
<circle cx="405.6" cy="793.2" r="9.3" fill="#9C276A"/>
<circle cx="465.4" cy="773.7" r="9.3" fill="#65177D"/>
<circle cx="243" cy="767.3" r="9.3" fill="#BE3755"/>
<circle cx="202.1" cy="798.5" r="9.3" fill="#BE3754"/>
<circle cx="218.5" cy="948.7" r="9.3" fill="#C13953"/>
<circle cx="433" cy="763" r="9.3" fill="#791C74"/>
<circle cx="345.8" cy="760.1" r="9.3" fill="#9B266B"/>
<circle cx="420" cy="761.7" r="9.3" fill="#8E2270"/>
<circle cx="490.3" cy="761.8" r="9.3" fill="#66177C"/>
<circle cx="246.1" cy="894.3" r="9.3" fill="#A02868"/>
<circle cx="190.3" cy="869.7" r="9.3" fill="#E7622E"/>
<circle cx="415.9" cy="792.1" r="9.3" fill="#5F1580"/>
<circle cx="334.1" cy="847.8" r="9.3" fill="#9D276A"/>
<circle cx="293.1" cy="736.9" r="9.3" fill="#B3305D"/>
<circle cx="409" cy="762.5" r="9.3" fill="#8A2171"/>
<circle cx="461.3" cy="768.9" r="9.3" fill="#64177D"/>
<circle cx="357.2" cy="818.3" r="9.3" fill="#AB2D62"/>
<circle cx="271.2" cy="837" r="9.3" fill="#A32A66"/>
<circle cx="317" cy="859.8" r="9.3" fill="#7C1D74"/>
<circle cx="312.8" cy="845" r="9.3" fill="#A82B64"/>
<circle cx="287.8" cy="774.7" r="9.3" fill="#99266C"/>
<circle cx="259.1" cy="883.8" r="9.3" fill="#D04646"/>
<circle cx="203.5" cy="826.4" r="9.3" fill="#6D1978"/>
<circle cx="323.3" cy="866.8" r="9.3" fill="#8B2170"/>
<circle cx="511.7" cy="759.9" r="9.3" fill="#721A76"/>
<circle cx="337.3" cy="911.9" r="9.3" fill="#892071"/>
<circle cx="263.2" cy="799.2" r="9.3" fill="#5F1580"/>
<circle cx="221.7" cy="870.4" r="9.3" fill="#6A1879"/>
<circle cx="348.1" cy="765.9" r="9.3" fill="#8D2270"/>
<circle cx="334.9" cy="933.8" r="9.3" fill="#69187A"/>
<circle cx="243.7" cy="755.1" r="9.3" fill="#E05935"/>
<circle cx="432.9" cy="716.5" r="9.3" fill="#93236E"/>
<circle cx="249.3" cy="750" r="9.3" fill="#B2305E"/>
<circle cx="271.7" cy="861.5" r="9.3" fill="#9E2869"/>
<circle cx="322.2" cy="799" r="9.3" fill="#9C276A"/>
<circle cx="417.7" cy="795.9" r="9.3" fill="#5F1580"/>
<circle cx="271.1" cy="696.9" r="9.3" fill="#99266C"/>
<circle cx="435" cy="729" r="9.3" fill="#7B1D74"/>
<circle cx="207.4" cy="866.6" r="9.3" fill="#821E72"/>
<circle cx="270.9" cy="725.9" r="9.3" fill="#8C2170"/>
<circle cx="345.9" cy="728.2" r="9.3" fill="#AB2D62"/>
<circle cx="427.3" cy="782.7" r="9.3" fill="#62167E"/>
<circle cx="326.4" cy="886.5" r="9.3" fill="#9F2869"/>
<circle cx="250.8" cy="790.7" r="9.3" fill="#9D276A"/>
<circle cx="435.6" cy="790.5" r="9.3" fill="#6B1879"/>
<circle cx="251" cy="859.4" r="9.3" fill="#C9404B"/>
<circle cx="198.6" cy="810.9" r="9.3" fill="#F17621"/>
<circle cx="225" cy="881.4" r="9.3" fill="#92236F"/>
<circle cx="289.8" cy="809.6" r="9.3" fill="#C33A51"/>
<circle cx="240.9" cy="829.1" r="9.3" fill="#DB523B"/>
<circle cx="263.1" cy="838.3" r="9.3" fill="#AC2D61"/>
<circle cx="213.3" cy="867.8" r="9.3" fill="#6C1978"/>
<circle cx="308" cy="836.8" r="9.3" fill="#9F2868"/>
<circle cx="365.3" cy="786.2" r="9.3" fill="#A62B65"/>
<circle cx="248.7" cy="739.4" r="9.3" fill="#BF3854"/>
<circle cx="317.8" cy="794.2" r="9.3" fill="#94246E"/>
<circle cx="263.3" cy="764.3" r="9.3" fill="#8B2170"/>
<circle cx="211" cy="940.1" r="9.3" fill="#C23A51"/>
<circle cx="271.4" cy="689.1" r="9.3" fill="#9C276A"/>
<circle cx="332.1" cy="846.9" r="9.3" fill="#A32967"/>
<circle cx="446.5" cy="727.4" r="9.3" fill="#841F72"/>
<circle cx="425.6" cy="752.8" r="9.3" fill="#8B2170"/>
<circle cx="238.4" cy="968.2" r="9.3" fill="#B93459"/>
<circle cx="232.8" cy="839.9" r="9.3" fill="#AF2F5F"/>
<circle cx="350.3" cy="839.7" r="9.3" fill="#94246E"/>
<circle cx="253.5" cy="855.1" r="9.3" fill="#9D276A"/>
<circle cx="337.3" cy="804.7" r="9.3" fill="#96246D"/>
<circle cx="273.2" cy="848.6" r="9.3" fill="#99266C"/>
<circle cx="216.2" cy="960.3" r="9.3" fill="#B7325B"/>
<circle cx="303.7" cy="745.4" r="9.3" fill="#9D276A"/>
<circle cx="364.9" cy="778.1" r="9.3" fill="#9E2769"/>
<circle cx="397.8" cy="730.3" r="9.3" fill="#8B2170"/>
<circle cx="265" cy="734.8" r="9.3" fill="#AF2F60"/>
<circle cx="228.5" cy="812" r="9.3" fill="#7A1C74"/>
<circle cx="280.5" cy="750.9" r="9.3" fill="#A32A66"/>
<circle cx="534.8" cy="772" r="9.3" fill="#5F1580"/>
<circle cx="206.8" cy="817.8" r="9.3" fill="#C9404C"/>
<circle cx="447.5" cy="741.2" r="9.3" fill="#841F72"/>
<circle cx="209.5" cy="924.4" r="9.3" fill="#B02F5F"/>
<circle cx="241.1" cy="701.6" r="9.3" fill="#AE2E60"/>
<circle cx="208.5" cy="882.7" r="9.3" fill="#93236E"/>
<circle cx="231.2" cy="898" r="9.3" fill="#92236F"/>
<circle cx="370.2" cy="834" r="9.3" fill="#6A1879"/>
<circle cx="307.2" cy="834.1" r="9.3" fill="#A12968"/>
<circle cx="390.7" cy="818.6" r="9.3" fill="#872071"/>
<circle cx="309.1" cy="774.4" r="9.3" fill="#5F1580"/>
<circle cx="335.9" cy="893.7" r="9.3" fill="#A22967"/>
<circle cx="413.3" cy="783.8" r="9.3" fill="#7A1C74"/>
<circle cx="375.4" cy="749.5" r="9.3" fill="#741B75"/>
<circle cx="263.3" cy="788.9" r="9.3" fill="#5F1580"/>
<circle cx="338.4" cy="866.8" r="9.3" fill="#B6325B"/>
<circle cx="413.5" cy="762.6" r="9.3" fill="#9C276A"/>
<circle cx="403.5" cy="709.4" r="9.3" fill="#721B76"/>
<circle cx="465.8" cy="779.3" r="9.3" fill="#5F1580"/>
<circle cx="320.5" cy="809.8" r="9.3" fill="#8F226F"/>
<circle cx="204" cy="871.7" r="9.3" fill="#98256C"/>
<circle cx="201.5" cy="842.5" r="9.3" fill="#7E1E73"/>
<circle cx="349" cy="725.8" r="9.3" fill="#C13952"/>
<circle cx="402" cy="754.6" r="9.3" fill="#A12967"/>
<circle cx="309.7" cy="777.4" r="9.3" fill="#61167F"/>
<circle cx="272.3" cy="836" r="9.3" fill="#9F2869"/>
<circle cx="377" cy="787.3" r="9.3" fill="#97256D"/>
<circle cx="294.5" cy="767.3" r="9.3" fill="#93236F"/>
<circle cx="257.5" cy="749.8" r="9.3" fill="#B2305E"/>
<circle cx="221.6" cy="905.5" r="9.3" fill="#98256D"/>
<circle cx="247.8" cy="812.9" r="9.3" fill="#A42A66"/>
<circle cx="409.2" cy="806" r="9.3" fill="#5F1580"/>
<circle cx="319.6" cy="828.8" r="9.3" fill="#A82C64"/>
<circle cx="212.6" cy="835.1" r="9.3" fill="#97256D"/>
<circle cx="227.4" cy="970.2" r="9.3" fill="#C53C4F"/>
<circle cx="254.1" cy="737" r="9.3" fill="#B5315C"/>
<circle cx="303.8" cy="769.7" r="9.3" fill="#7E1D73"/>
<circle cx="353.7" cy="819.7" r="9.3" fill="#A12968"/>
<circle cx="526.6" cy="772.2" r="9.3" fill="#5F1580"/>
<circle cx="411.3" cy="708.9" r="9.3" fill="#64177D"/>
<circle cx="303.9" cy="824.5" r="9.3" fill="#AF2E60"/>
<circle cx="502" cy="773.1" r="9.3" fill="#65177C"/>
<circle cx="368.9" cy="839.4" r="9.3" fill="#701A76"/>
<circle cx="409.2" cy="778.9" r="9.3" fill="#7B1D74"/>
<circle cx="422" cy="739.4" r="9.3" fill="#8B2170"/>
<circle cx="331.2" cy="903" r="9.3" fill="#9F2868"/>
<circle cx="209.9" cy="932.3" r="9.3" fill="#BC3557"/>
<circle cx="337.6" cy="855.6" r="9.3" fill="#AA2C63"/>
<circle cx="246.6" cy="843.9" r="9.3" fill="#BE3754"/>
<circle cx="195.6" cy="815.7" r="9.3" fill="#F78C1A"/>
<circle cx="265.4" cy="872.1" r="9.3" fill="#D34943"/>
<circle cx="252.1" cy="781" r="9.3" fill="#A02868"/>
<circle cx="257" cy="817" r="9.3" fill="#9F2869"/>
<circle cx="243.8" cy="911" r="9.3" fill="#AE2E60"/>
<circle cx="369.9" cy="830.2" r="9.3" fill="#61157F"/>
<circle cx="284.4" cy="820.6" r="9.3" fill="#BE3755"/>
<circle cx="286.9" cy="839.9" r="9.3" fill="#B02F5F"/>
<circle cx="298.7" cy="835.8" r="9.3" fill="#A32967"/>
<circle cx="220.9" cy="912.2" r="9.3" fill="#96246D"/>
<circle cx="273.3" cy="702.1" r="9.3" fill="#AD2E61"/>
<circle cx="264.6" cy="721.9" r="9.3" fill="#892071"/>
<circle cx="338.1" cy="904.1" r="9.3" fill="#92236F"/>
<circle cx="515.7" cy="761.9" r="9.3" fill="#6D1978"/>
<circle cx="253.3" cy="849.5" r="9.3" fill="#CF4546"/>
<circle cx="239.6" cy="925.9" r="9.3" fill="#AD2E61"/>
<circle cx="389.1" cy="741.1" r="9.3" fill="#851F72"/>
<circle cx="213.6" cy="912" r="9.3" fill="#7A1D74"/>
<circle cx="476.9" cy="780" r="9.3" fill="#6B1879"/>
<circle cx="371.7" cy="740.7" r="9.3" fill="#BB3557"/>
<circle cx="235.9" cy="929.5" r="9.3" fill="#BE3755"/>
<circle cx="270.8" cy="704.7" r="9.3" fill="#7E1D73"/>
<circle cx="444.9" cy="755.7" r="9.3" fill="#62167E"/>
<circle cx="227.4" cy="826.4" r="9.3" fill="#EB682A"/>
<circle cx="239.7" cy="761.4" r="9.3" fill="#E05935"/>
<circle cx="246.7" cy="862.4" r="9.3" fill="#A72B64"/>
<circle cx="422.8" cy="754.3" r="9.3" fill="#801E73"/>
<circle cx="350" cy="791.4" r="9.3" fill="#A02868"/>
<circle cx="442.6" cy="715.7" r="9.3" fill="#7D1D73"/>
<circle cx="361.7" cy="841.6" r="9.3" fill="#721A76"/>
<circle cx="294" cy="743.9" r="9.3" fill="#96246D"/>
<circle cx="204.8" cy="813.6" r="9.3" fill="#CF4547"/>
<circle cx="360.4" cy="774.8" r="9.3" fill="#98256C"/>
<circle cx="361.5" cy="810.4" r="9.3" fill="#96246E"/>
<circle cx="270.6" cy="758.3" r="9.3" fill="#6A1879"/>
<circle cx="401" cy="807.5" r="9.3" fill="#8D2270"/>
<circle cx="285.5" cy="817.1" r="9.3" fill="#A52B65"/>
<circle cx="473.3" cy="785.4" r="9.3" fill="#841F72"/>
<circle cx="359.4" cy="834.2" r="9.3" fill="#6D1978"/>
<circle cx="400" cy="744.8" r="9.3" fill="#98256D"/>
<circle cx="434.8" cy="704.7" r="9.3" fill="#9E2869"/>
<circle cx="414.2" cy="701.6" r="9.3" fill="#731B75"/>
<circle cx="517.4" cy="770.9" r="9.3" fill="#64167D"/>
<circle cx="304" cy="837.7" r="9.3" fill="#A62B65"/>
<circle cx="394.4" cy="686.2" r="9.3" fill="#92236F"/>
<circle cx="374.1" cy="801.1" r="9.3" fill="#9C276A"/>
<circle cx="308.2" cy="812.8" r="9.3" fill="#A42A66"/>
<circle cx="197.8" cy="808.1" r="9.3" fill="#EC6929"/>
<circle cx="284.4" cy="760.6" r="9.3" fill="#95246E"/>
<circle cx="315.2" cy="844.7" r="9.3" fill="#90226F"/>
<circle cx="251.5" cy="737.9" r="9.3" fill="#AB2D62"/>
<circle cx="329.5" cy="905.7" r="9.3" fill="#9B266B"/>
<circle cx="318.2" cy="849.2" r="9.3" fill="#872071"/>
<circle cx="387.8" cy="682.8" r="9.3" fill="#9C276A"/>
<circle cx="213.9" cy="923.2" r="9.3" fill="#9E2869"/>
<circle cx="399.8" cy="722.2" r="9.3" fill="#6C1978"/>
<circle cx="276.8" cy="820.4" r="9.3" fill="#A62B65"/>
<circle cx="338.7" cy="765.5" r="9.3" fill="#761C75"/>
<circle cx="281.2" cy="793.4" r="9.3" fill="#892171"/>
<circle cx="239.7" cy="751.6" r="9.3" fill="#CB414A"/>
<circle cx="245" cy="865.8" r="9.3" fill="#B93458"/>
<circle cx="448.7" cy="776.9" r="9.3" fill="#65177D"/>
<circle cx="431.9" cy="785.9" r="9.3" fill="#791C74"/>
<circle cx="250.4" cy="734.7" r="9.3" fill="#A52A65"/>
<circle cx="291.4" cy="818.2" r="9.3" fill="#9A266B"/>
<circle cx="247.6" cy="823.8" r="9.3" fill="#E9652C"/>
<circle cx="492.3" cy="772.6" r="9.3" fill="#5F1580"/>
<circle cx="339.9" cy="879.1" r="9.3" fill="#9C276A"/>
<circle cx="273.4" cy="691.7" r="9.3" fill="#97256D"/>
<circle cx="259.7" cy="730.9" r="9.3" fill="#A42A66"/>
<circle cx="244.8" cy="823.2" r="9.3" fill="#C13953"/>
<circle cx="451.4" cy="759.2" r="9.3" fill="#7A1D74"/>
<circle cx="349.7" cy="699" r="9.3" fill="#8C2170"/>
<circle cx="372.8" cy="839.9" r="9.3" fill="#7C1D74"/>
<circle cx="326.5" cy="885.7" r="9.3" fill="#99266C"/>
<circle cx="299.8" cy="740.7" r="9.3" fill="#A32A66"/>
<circle cx="323.3" cy="767.4" r="9.3" fill="#8F226F"/>
<circle cx="412.8" cy="767.9" r="9.3" fill="#8D2270"/>
<circle cx="224.7" cy="807.9" r="9.3" fill="#5F1580"/>
<circle cx="369.2" cy="856.3" r="9.3" fill="#6E1977"/>
<circle cx="432.4" cy="791.4" r="9.3" fill="#6C1979"/>
<circle cx="236.6" cy="854.7" r="9.3" fill="#862072"/>
<circle cx="219.1" cy="888.2" r="9.3" fill="#882071"/>
<circle cx="264.9" cy="779.8" r="9.3" fill="#851F72"/>
<circle cx="209.1" cy="916.6" r="9.3" fill="#97256D"/>
<circle cx="365.1" cy="807.1" r="9.3" fill="#801E73"/>
<circle cx="197.5" cy="862.9" r="9.3" fill="#AC2D61"/>
<circle cx="370.5" cy="794" r="9.3" fill="#AF2E60"/>
<circle cx="227.1" cy="855.6" r="9.3" fill="#98256C"/>
<circle cx="248.9" cy="729" r="9.3" fill="#AE2E60"/>
<circle cx="282.8" cy="744.9" r="9.3" fill="#B93459"/>
<circle cx="295.6" cy="758.9" r="9.3" fill="#A22967"/>
<circle cx="348.2" cy="778.4" r="9.3" fill="#751B75"/>
<circle cx="273.5" cy="681.3" r="9.3" fill="#862072"/>
<circle cx="220.6" cy="969.4" r="9.3" fill="#B7335A"/>
<circle cx="315.8" cy="776.6" r="9.3" fill="#872071"/>
<circle cx="290.1" cy="774" r="9.3" fill="#98256C"/>
<circle cx="235.5" cy="818.1" r="9.3" fill="#B3305D"/>
<circle cx="229.8" cy="822.6" r="9.3" fill="#F4801D"/>
<circle cx="242" cy="807.3" r="9.3" fill="#A52A66"/>
<circle cx="272.3" cy="675" r="9.3" fill="#99266C"/>
<circle cx="240.9" cy="819.6" r="9.3" fill="#AA2D62"/>
<circle cx="212.4" cy="899.6" r="9.3" fill="#872071"/>
<circle cx="206.5" cy="862.9" r="9.3" fill="#5F1580"/>
<circle cx="388" cy="746.9" r="9.3" fill="#96246E"/>
<circle cx="194.2" cy="823.7" r="9.3" fill="#EE6D26"/>
<circle cx="403.7" cy="749.7" r="9.3" fill="#8B2170"/>
<circle cx="378.4" cy="782.7" r="9.3" fill="#A12968"/>
<circle cx="438.8" cy="758.1" r="9.3" fill="#69187A"/>
<circle cx="239.8" cy="850.6" r="9.3" fill="#721B76"/>
<circle cx="388.2" cy="832.2" r="9.3" fill="#5F1580"/>
<circle cx="385.6" cy="809.8" r="9.3" fill="#9E2769"/>
<circle cx="308.3" cy="785.2" r="9.3" fill="#841F72"/>
<circle cx="324.8" cy="801.7" r="9.3" fill="#9E2769"/>
<circle cx="198" cy="840" r="9.3" fill="#B4315C"/>
<circle cx="331.6" cy="821.3" r="9.3" fill="#91236F"/>
<circle cx="294.5" cy="764.3" r="9.3" fill="#892071"/>
<circle cx="485.1" cy="773.4" r="9.3" fill="#5F1580"/>
<circle cx="394" cy="720.7" r="9.3" fill="#862072"/>
<circle cx="244.8" cy="923.8" r="9.3" fill="#AC2D61"/>
<circle cx="286.2" cy="777.1" r="9.3" fill="#A02968"/>
<circle cx="372.4" cy="769.4" r="9.3" fill="#A52A65"/>
<circle cx="222.9" cy="811.5" r="9.3" fill="#5F1580"/>
<circle cx="411.5" cy="720.7" r="9.3" fill="#99256C"/>
<circle cx="431.9" cy="709.4" r="9.3" fill="#A82B64"/>
<circle cx="414.9" cy="756.8" r="9.3" fill="#8F226F"/>
<circle cx="288.2" cy="802.3" r="9.3" fill="#9D276A"/>
<circle cx="276.1" cy="735.8" r="9.3" fill="#C43B50"/>
<circle cx="249.5" cy="786" r="9.3" fill="#A02968"/>
<circle cx="253.4" cy="871.1" r="9.3" fill="#F8911A"/>
<circle cx="330.2" cy="886.8" r="9.3" fill="#96246E"/>
<circle cx="333.5" cy="855.2" r="9.3" fill="#AF2E60"/>
<circle cx="336.5" cy="874.5" r="9.3" fill="#A62B65"/>
<circle cx="353.2" cy="786.7" r="9.3" fill="#98256C"/>
<circle cx="198.3" cy="857.1" r="9.3" fill="#821F72"/>
<circle cx="394.9" cy="820.8" r="9.3" fill="#872071"/>
<circle cx="348.9" cy="835.4" r="9.3" fill="#A32A67"/>
<circle cx="350.3" cy="808.2" r="9.3" fill="#93236F"/>
<circle cx="263.1" cy="811.6" r="9.3" fill="#892071"/>
<circle cx="284.9" cy="749.7" r="9.3" fill="#A82C64"/>
<circle cx="235.3" cy="947.1" r="9.3" fill="#BC3557"/>
<circle cx="239.6" cy="796.8" r="9.3" fill="#A42A66"/>
<circle cx="225.7" cy="893.5" r="9.3" fill="#A22967"/>
<circle cx="287.4" cy="807.3" r="9.3" fill="#B3305D"/>
<circle cx="323.4" cy="783.6" r="9.3" fill="#A92C63"/>
<circle cx="285" cy="809.3" r="9.3" fill="#B93459"/>
<circle cx="500" cy="745.9" r="9.3" fill="#8E2270"/>
<circle cx="210.9" cy="917.5" r="9.3" fill="#872071"/>
<circle cx="450.3" cy="757.4" r="9.3" fill="#721A76"/>
<circle cx="364.4" cy="789.2" r="9.3" fill="#9C276A"/>
<circle cx="199.3" cy="848.6" r="9.3" fill="#5F1580"/>
<circle cx="253.2" cy="878.7" r="9.3" fill="#F07422"/>
<circle cx="498.9" cy="742.6" r="9.3" fill="#8F226F"/>
<circle cx="496.5" cy="750.2" r="9.3" fill="#892071"/>
<circle cx="275.9" cy="761.9" r="9.3" fill="#5F1580"/>
<circle cx="214.8" cy="931.4" r="9.3" fill="#B5315C"/>
<circle cx="244.3" cy="725" r="9.3" fill="#9B266B"/>
<circle cx="328.6" cy="831.7" r="9.3" fill="#99256C"/>
<circle cx="305.5" cy="830" r="9.3" fill="#99266C"/>
<circle cx="253.9" cy="868.5" r="9.3" fill="#ED6C27"/>
<circle cx="271.2" cy="789.3" r="9.3" fill="#67177B"/>
<circle cx="408.6" cy="705" r="9.3" fill="#6F1A77"/>
<circle cx="347.8" cy="840.2" r="9.3" fill="#A42A66"/>
<circle cx="383.4" cy="808.5" r="9.3" fill="#98256D"/>
<circle cx="389.8" cy="726" r="9.3" fill="#801E73"/>
<circle cx="277.9" cy="732.9" r="9.3" fill="#A22967"/>
<circle cx="351.9" cy="826.5" r="9.3" fill="#95246E"/>
<circle cx="351" cy="760.7" r="9.3" fill="#C53C4F"/>
<circle cx="436.4" cy="722.4" r="9.3" fill="#8A2171"/>
<circle cx="403" cy="744.6" r="9.3" fill="#9D276A"/>
<circle cx="444.6" cy="767.5" r="9.3" fill="#69187A"/>
<circle cx="366.3" cy="769.4" r="9.3" fill="#97256D"/>
<circle cx="384.3" cy="718.4" r="9.3" fill="#8F226F"/>
<circle cx="381.1" cy="791.1" r="9.3" fill="#A52B65"/>
<circle cx="406.4" cy="802.4" r="9.3" fill="#5F1580"/>
<circle cx="405.7" cy="720.7" r="9.3" fill="#8B2170"/>
<circle cx="237.7" cy="909.1" r="9.3" fill="#A52A65"/>
<circle cx="245" cy="797.7" r="9.3" fill="#A02968"/>
<circle cx="411.8" cy="766.5" r="9.3" fill="#841F72"/>
<circle cx="417.2" cy="716.4" r="9.3" fill="#9B266B"/>
<circle cx="233" cy="926.2" r="9.3" fill="#B5315C"/>
<circle cx="287.8" cy="844" r="9.3" fill="#9D276A"/>
<circle cx="381.3" cy="778.5" r="9.3" fill="#9E2869"/>
<circle cx="210.9" cy="840.3" r="9.3" fill="#A42A66"/>
<circle cx="285" cy="835.6" r="9.3" fill="#8E2270"/>
<circle cx="311.7" cy="773.4" r="9.3" fill="#6A187A"/>
<circle cx="507.6" cy="768.6" r="9.3" fill="#5F1580"/>
<circle cx="412.9" cy="693.4" r="9.3" fill="#872071"/>
<circle cx="293" cy="822.7" r="9.3" fill="#AC2D61"/>
<circle cx="329" cy="865.6" r="9.3" fill="#872071"/>
<circle cx="227.2" cy="867.7" r="9.3" fill="#6C1978"/>
<circle cx="332.2" cy="876.1" r="9.3" fill="#95246E"/>
<circle cx="458.3" cy="755.8" r="9.3" fill="#5F1580"/>
<circle cx="213.1" cy="893.6" r="9.3" fill="#95246E"/>
<circle cx="356" cy="786.4" r="9.3" fill="#A32A66"/>
<circle cx="388.3" cy="720.5" r="9.3" fill="#7F1E73"/>
<circle cx="447.8" cy="744.4" r="9.3" fill="#7D1D73"/>
<circle cx="398" cy="684" r="9.3" fill="#90236F"/>
<circle cx="225.8" cy="929.5" r="9.3" fill="#9E2869"/>
<circle cx="340.8" cy="757.1" r="9.3" fill="#A32967"/>
<circle cx="305.9" cy="752.6" r="9.3" fill="#791C74"/>
<circle cx="443.1" cy="776.4" r="9.3" fill="#5F1580"/>
<circle cx="224.9" cy="936.1" r="9.3" fill="#9E2869"/>
<circle cx="408.5" cy="787.6" r="9.3" fill="#95246E"/>
<circle cx="267.7" cy="713.3" r="9.3" fill="#91236F"/>
<circle cx="350.4" cy="690.1" r="9.3" fill="#96246D"/>
<circle cx="237.3" cy="898.9" r="9.3" fill="#96256D"/>
<circle cx="219.1" cy="899.8" r="9.3" fill="#7A1C74"/>
<circle cx="209.1" cy="854.2" r="9.3" fill="#7C1D74"/>
<circle cx="207.9" cy="830.4" r="9.3" fill="#69187A"/>
<circle cx="278.3" cy="779" r="9.3" fill="#65177C"/>
<circle cx="509" cy="745.4" r="9.3" fill="#892071"/>
<circle cx="219.5" cy="881.1" r="9.3" fill="#7F1E73"/>
<circle cx="323" cy="820.6" r="9.3" fill="#A72B64"/>
<circle cx="426.2" cy="703.2" r="9.3" fill="#781C74"/>
<circle cx="362" cy="816.6" r="9.3" fill="#97256D"/>
<circle cx="434.2" cy="752.8" r="9.3" fill="#771C75"/>
<circle cx="438.7" cy="710.2" r="9.3" fill="#9F2869"/>
<circle cx="273.2" cy="675" r="9.3" fill="#8C2170"/>
<circle cx="428.9" cy="797.7" r="9.3" fill="#721A76"/>
<circle cx="267.4" cy="849.3" r="9.3" fill="#98256C"/>
<circle cx="196.6" cy="874.9" r="9.3" fill="#C63D4F"/>
<circle cx="339.9" cy="828.9" r="9.3" fill="#AA2C63"/>
<circle cx="231.1" cy="878.6" r="9.3" fill="#92236F"/>
<circle cx="294.7" cy="838.8" r="9.3" fill="#A32A66"/>
<circle cx="445.8" cy="768.8" r="9.3" fill="#7A1C74"/>
<circle cx="270.8" cy="786.4" r="9.3" fill="#66177C"/>
<circle cx="229.4" cy="878.1" r="9.3" fill="#7B1D74"/>
<circle cx="280.4" cy="774.7" r="9.3" fill="#96246D"/>
<circle cx="306.1" cy="813.7" r="9.3" fill="#AA2D62"/>
<circle cx="246" cy="925.6" r="9.3" fill="#C83F4C"/>
<circle cx="259.5" cy="856.8" r="9.3" fill="#9C276A"/>
<circle cx="261.6" cy="834.8" r="9.3" fill="#BA3458"/>
<circle cx="256.7" cy="763.7" r="9.3" fill="#AA2D62"/>
<circle cx="206.4" cy="850.7" r="9.3" fill="#68187B"/>
<circle cx="459.8" cy="754" r="9.3" fill="#6E1977"/>
<circle cx="453" cy="788.8" r="9.3" fill="#6E1A77"/>
<circle cx="331.8" cy="777.1" r="9.3" fill="#99266C"/>
<circle cx="356.1" cy="856" r="9.3" fill="#8A2170"/>
<circle cx="377.3" cy="757.7" r="9.3" fill="#6A1879"/>
<circle cx="212.5" cy="812.2" r="9.3" fill="#A52A66"/>
<circle cx="241.5" cy="801.9" r="9.3" fill="#99266C"/>
<circle cx="235.2" cy="962.6" r="9.3" fill="#B5315C"/>
<circle cx="274.2" cy="785.8" r="9.3" fill="#63167D"/>
<circle cx="396.2" cy="754.8" r="9.3" fill="#A62B65"/>
<circle cx="298.3" cy="782.5" r="9.3" fill="#882071"/>
<circle cx="258.2" cy="859.2" r="9.3" fill="#B2305E"/>
<circle cx="344.9" cy="833.9" r="9.3" fill="#97256D"/>
<circle cx="348.2" cy="731.3" r="9.3" fill="#B2305E"/>
<circle cx="278.4" cy="812.9" r="9.3" fill="#B5315C"/>
<circle cx="254.5" cy="824.5" r="9.3" fill="#B7325B"/>
<circle cx="275.5" cy="815.7" r="9.3" fill="#AE2E60"/>
<circle cx="254.7" cy="817" r="9.3" fill="#A02868"/>
<circle cx="409.9" cy="802.8" r="9.3" fill="#5F1580"/>
<circle cx="486.3" cy="765.7" r="9.3" fill="#66177C"/>
<circle cx="278.2" cy="818.8" r="9.3" fill="#A52A65"/>
<circle cx="280.9" cy="842.5" r="9.3" fill="#97256D"/>
<circle cx="247.8" cy="888.1" r="9.3" fill="#9C276A"/>
<circle cx="277" cy="845.2" r="9.3" fill="#A42A66"/>
<circle cx="370.7" cy="790.3" r="9.3" fill="#94246E"/>
<circle cx="233.6" cy="813.2" r="9.3" fill="#95246E"/>
<circle cx="428.1" cy="799.4" r="9.3" fill="#721A76"/>
<circle cx="376.1" cy="719.6" r="9.3" fill="#771C75"/>
<circle cx="331" cy="897.6" r="9.3" fill="#95246E"/>
<circle cx="239.7" cy="741.9" r="9.3" fill="#B5315C"/>
<circle cx="242.3" cy="832.6" r="9.3" fill="#EE6F25"/>
<circle cx="283.3" cy="793.8" r="9.3" fill="#8F226F"/>
<circle cx="243.5" cy="888.8" r="9.3" fill="#A32A67"/>
<circle cx="225.7" cy="961.4" r="9.3" fill="#C23A52"/>
<circle cx="326.3" cy="757.9" r="9.3" fill="#6B1979"/>
<circle cx="233.2" cy="906.5" r="9.3" fill="#882071"/>
<circle cx="436.2" cy="779.7" r="9.3" fill="#63167D"/>
<circle cx="480.9" cy="764.1" r="9.3" fill="#63167E"/>
<circle cx="295.9" cy="774.6" r="9.3" fill="#91236F"/>
<circle cx="275.5" cy="722.7" r="9.3" fill="#97256D"/>
<circle cx="300" cy="783.5" r="9.3" fill="#9A266B"/>
<circle cx="427.6" cy="776.3" r="9.3" fill="#5F1580"/>
<circle cx="428.7" cy="716.6" r="9.3" fill="#892171"/>
<circle cx="217.4" cy="813.4" r="9.3" fill="#95246E"/>
<circle cx="512.7" cy="752.8" r="9.3" fill="#64177D"/>
<circle cx="423" cy="730.2" r="9.3" fill="#94246E"/>
<circle cx="300.9" cy="796.5" r="9.3" fill="#D74D3F"/>
<circle cx="298.3" cy="757.8" r="9.3" fill="#96256D"/>
<circle cx="351.4" cy="810.9" r="9.3" fill="#95246E"/>
<circle cx="364" cy="756.8" r="9.3" fill="#AD2E61"/>
<circle cx="436.7" cy="802.2" r="9.3" fill="#5F1580"/>
<circle cx="365.1" cy="792.9" r="9.3" fill="#90236F"/>
<circle cx="362.3" cy="761.3" r="9.3" fill="#B3305D"/>
<circle cx="237.6" cy="852.6" r="9.3" fill="#751B75"/>
<circle cx="258.9" cy="733.2" r="9.3" fill="#A02868"/>
<circle cx="244" cy="800.7" r="9.3" fill="#B02F5F"/>
<circle cx="271.2" cy="752.7" r="9.3" fill="#851F72"/>
<circle cx="338.9" cy="896.3" r="9.3" fill="#9D276A"/>
<circle cx="398.2" cy="800.3" r="9.3" fill="#B93459"/>
<circle cx="262.8" cy="872.2" r="9.3" fill="#E9642C"/>
<circle cx="273.7" cy="829.4" r="9.3" fill="#A72B65"/>
<circle cx="270.1" cy="827.9" r="9.3" fill="#9F2869"/>
<circle cx="218.1" cy="973.7" r="9.3" fill="#D34943"/>
<circle cx="248.1" cy="808.1" r="9.3" fill="#A22967"/>
<circle cx="214.4" cy="849.3" r="9.3" fill="#90236F"/>
<circle cx="194.3" cy="826.4" r="9.3" fill="#DE5637"/>
<circle cx="370.9" cy="757.4" r="9.3" fill="#6C1978"/>
<circle cx="406.9" cy="786.5" r="9.3" fill="#8B2170"/>
<circle cx="319.3" cy="837.2" r="9.3" fill="#A22967"/>
<circle cx="292" cy="763.6" r="9.3" fill="#A52A65"/>
<circle cx="341.3" cy="844.1" r="9.3" fill="#A32A66"/>
<circle cx="426.5" cy="709.4" r="9.3" fill="#841F72"/>
<circle cx="391.3" cy="822.7" r="9.3" fill="#872071"/>
<circle cx="358.9" cy="821.1" r="9.3" fill="#A42A66"/>
<circle cx="340.5" cy="839.2" r="9.3" fill="#A22967"/>
<circle cx="463.6" cy="771.1" r="9.3" fill="#7F1E73"/>
<circle cx="229.1" cy="851.8" r="9.3" fill="#8F226F"/>
<circle cx="326.2" cy="779.6" r="9.3" fill="#AA2D62"/>
<circle cx="225.8" cy="909.9" r="9.3" fill="#8C2170"/>
<circle cx="237.4" cy="930.8" r="9.3" fill="#A92C63"/>
<circle cx="307.6" cy="750.1" r="9.3" fill="#96256D"/>
<circle cx="256.7" cy="812.4" r="9.3" fill="#A82B64"/>
<circle cx="333" cy="770.9" r="9.3" fill="#99256C"/>
<circle cx="209.1" cy="901" r="9.3" fill="#93236E"/>
<circle cx="356.6" cy="797.3" r="9.3" fill="#96246E"/>
<circle cx="274.7" cy="806.8" r="9.3" fill="#A82B64"/>
<circle cx="286.8" cy="767.6" r="9.3" fill="#A92C63"/>
<circle cx="195.3" cy="846" r="9.3" fill="#781C74"/>
<circle cx="408.5" cy="728" r="9.3" fill="#97256D"/>
<circle cx="241.3" cy="735.6" r="9.3" fill="#B6315C"/>
<circle cx="269.1" cy="775.6" r="9.3" fill="#872071"/>
<circle cx="273.2" cy="712.5" r="9.3" fill="#7B1D74"/>
<circle cx="351.4" cy="749.3" r="9.3" fill="#D14745"/>
<circle cx="428.2" cy="728.5" r="9.3" fill="#8D2270"/>
<circle cx="370.4" cy="762.8" r="9.3" fill="#821F72"/>
<circle cx="375.8" cy="762.2" r="9.3" fill="#65177D"/>
<circle cx="350.6" cy="714.1" r="9.3" fill="#96246E"/>
<circle cx="503.4" cy="757.6" r="9.3" fill="#66177C"/>
<circle cx="426.5" cy="769.2" r="9.3" fill="#8D2270"/>
<circle cx="388.7" cy="768.2" r="9.3" fill="#AD2E61"/>
<circle cx="323.1" cy="794.4" r="9.3" fill="#98256C"/>
<circle cx="230" cy="872.2" r="9.3" fill="#64177D"/>
<circle cx="198.5" cy="804" r="9.3" fill="#C63D4E"/>
<circle cx="396.7" cy="742.6" r="9.3" fill="#841F72"/>
<circle cx="223.8" cy="846.7" r="9.3" fill="#EA662B"/>
<circle cx="378.8" cy="793.7" r="9.3" fill="#9B266B"/>
<circle cx="324.7" cy="788.1" r="9.3" fill="#9D2769"/>
<circle cx="494.2" cy="774.3" r="9.3" fill="#5F1580"/>
<circle cx="328.7" cy="850.7" r="9.3" fill="#AC2D62"/>
<circle cx="421" cy="785.6" r="9.3" fill="#6B1979"/>
<circle cx="341.3" cy="767.4" r="9.3" fill="#7D1D73"/>
<circle cx="359.5" cy="764" r="9.3" fill="#BB3557"/>
<circle cx="293.3" cy="795.7" r="9.3" fill="#E35C33"/>
<circle cx="325.9" cy="837" r="9.3" fill="#A72B64"/>
<circle cx="414.2" cy="710.4" r="9.3" fill="#771C75"/>
<circle cx="282.2" cy="769" r="9.3" fill="#A02968"/>
<circle cx="310.7" cy="846.3" r="9.3" fill="#9C276A"/>
<circle cx="378.5" cy="761.9" r="9.3" fill="#751B75"/>
<circle cx="328.7" cy="845.2" r="9.3" fill="#A32A66"/>
<circle cx="334.4" cy="858.9" r="9.3" fill="#9E2869"/>
<circle cx="321.5" cy="791" r="9.3" fill="#98256C"/>
<circle cx="273" cy="728.1" r="9.3" fill="#9C276B"/>
<circle cx="385.2" cy="779.2" r="9.3" fill="#B2305E"/>
<circle cx="351.4" cy="707.8" r="9.3" fill="#882071"/>
<circle cx="312.2" cy="767.6" r="9.3" fill="#721B76"/>
<circle cx="196.6" cy="854.1" r="9.3" fill="#7B1D74"/>
<circle cx="229.8" cy="891.1" r="9.3" fill="#99266C"/>
<circle cx="220.1" cy="855.8" r="9.3" fill="#61157F"/>
<circle cx="352.1" cy="693.8" r="9.3" fill="#97256D"/>
<circle cx="465.6" cy="787.2" r="9.3" fill="#6D1978"/>
<circle cx="345.9" cy="736" r="9.3" fill="#B7325A"/>
<circle cx="365" cy="847.9" r="9.3" fill="#65177C"/>
<circle cx="234.1" cy="803.2" r="9.3" fill="#94246E"/>
<circle cx="280.4" cy="848.1" r="9.3" fill="#94246E"/>
<circle cx="490.3" cy="766.5" r="9.3" fill="#831F72"/>
<circle cx="412.9" cy="772.7" r="9.3" fill="#851F72"/>
<circle cx="325" cy="859.9" r="9.3" fill="#9B266B"/>
<circle cx="229.7" cy="934.2" r="9.3" fill="#B2305E"/>
<circle cx="324.9" cy="824.3" r="9.3" fill="#A12968"/>
<circle cx="388.8" cy="773.6" r="9.3" fill="#AD2E61"/>
<circle cx="253.6" cy="893.6" r="9.3" fill="#AC2D61"/>
<circle cx="404.9" cy="703.5" r="9.3" fill="#711A76"/>
<circle cx="458.3" cy="772.4" r="9.3" fill="#6A1879"/>
<circle cx="382.8" cy="773.8" r="9.3" fill="#AE2E60"/>
<circle cx="520.7" cy="758.7" r="9.3" fill="#63167D"/>
<circle cx="207.3" cy="825.2" r="9.3" fill="#68187B"/>
<circle cx="370.9" cy="801.6" r="9.3" fill="#A12968"/>
<circle cx="327.5" cy="770.2" r="9.3" fill="#92236F"/>
<circle cx="222.4" cy="967.3" r="9.3" fill="#CD4448"/>
<circle cx="429.7" cy="776.9" r="9.3" fill="#6F1A77"/>
<circle cx="404" cy="810.7" r="9.3" fill="#6D1978"/>
<circle cx="320.3" cy="774.8" r="9.3" fill="#7B1D74"/>
<circle cx="244.2" cy="782" r="9.3" fill="#A02868"/>
<circle cx="276.3" cy="834.9" r="9.3" fill="#AC2D61"/>
<circle cx="209.9" cy="871.7" r="9.3" fill="#6A1879"/>
<circle cx="238.7" cy="821.8" r="9.3" fill="#AB2D62"/>
<circle cx="373.4" cy="782.6" r="9.3" fill="#9F2869"/>
<circle cx="219.1" cy="823.3" r="9.3" fill="#DF5836"/>
<circle cx="218.9" cy="916.5" r="9.3" fill="#8F226F"/>
<circle cx="230.2" cy="969.6" r="9.3" fill="#B4315D"/>
<circle cx="390.2" cy="837.2" r="9.3" fill="#68187B"/>
<circle cx="341.8" cy="817.9" r="9.3" fill="#9B266B"/>
<circle cx="398.8" cy="815.3" r="9.3" fill="#8B2170"/>
<circle cx="392.2" cy="811.8" r="9.3" fill="#92236F"/>
<circle cx="233.4" cy="889.8" r="9.3" fill="#6E1977"/>
<circle cx="246.6" cy="935.4" r="9.3" fill="#C13953"/>
<circle cx="423.6" cy="790.6" r="9.3" fill="#5F1580"/>
<circle cx="349.8" cy="743.8" r="9.3" fill="#B02F5F"/>
<circle cx="256.2" cy="807.7" r="9.3" fill="#821F72"/>
<circle cx="241.3" cy="871.6" r="9.3" fill="#B2305D"/>
<circle cx="215.5" cy="954.5" r="9.3" fill="#C83F4C"/>
<circle cx="207" cy="845.3" r="9.3" fill="#601580"/>
<circle cx="230.4" cy="861.5" r="9.3" fill="#801E73"/>
<circle cx="252.1" cy="769.9" r="9.3" fill="#9F2869"/>
<circle cx="261.5" cy="725.8" r="9.3" fill="#91236F"/>
<circle cx="322.4" cy="883" r="9.3" fill="#771C75"/>
<circle cx="424.2" cy="797.2" r="9.3" fill="#5F1580"/>
<circle cx="312.5" cy="833" r="9.3" fill="#B2305D"/>
<circle cx="420.6" cy="714.5" r="9.3" fill="#90226F"/>
<circle cx="420.2" cy="745.3" r="9.3" fill="#791C74"/>
<circle cx="301.6" cy="789.4" r="9.3" fill="#C43B50"/>
<circle cx="243.5" cy="712.5" r="9.3" fill="#B8335A"/>
<circle cx="270.5" cy="846.8" r="9.3" fill="#9A266B"/>
<circle cx="518.9" cy="758.6" r="9.3" fill="#6F1A76"/>
<circle cx="233.9" cy="837.8" r="9.3" fill="#97256D"/>
<circle cx="355" cy="788.5" r="9.3" fill="#8F226F"/>
<circle cx="232.1" cy="833.5" r="9.3" fill="#C23A51"/>
<circle cx="338.1" cy="927.6" r="9.3" fill="#862072"/>
<circle cx="214.8" cy="862.2" r="9.3" fill="#721A76"/>
<circle cx="251.1" cy="750.3" r="9.3" fill="#A82C64"/>
<circle cx="518.4" cy="772.5" r="9.3" fill="#5F1580"/>
<circle cx="206.9" cy="804" r="9.3" fill="#B12F5E"/>
<circle cx="230.4" cy="818.3" r="9.3" fill="#D24943"/>
<circle cx="286.8" cy="827.5" r="9.3" fill="#A02868"/>
<circle cx="239.1" cy="845" r="9.3" fill="#741B75"/>
<circle cx="238.3" cy="811.9" r="9.3" fill="#B7325B"/>
<circle cx="223.2" cy="950.3" r="9.3" fill="#BC3557"/>
<circle cx="271.6" cy="681.3" r="9.3" fill="#9B266B"/>
<circle cx="208.7" cy="802.4" r="9.3" fill="#B3305D"/>
<circle cx="259.2" cy="757.2" r="9.3" fill="#9C276A"/>
<circle cx="239.7" cy="732.1" r="9.3" fill="#AA2C62"/>
<circle cx="439.2" cy="793.2" r="9.3" fill="#6F1A76"/>
<circle cx="362.3" cy="751.6" r="9.3" fill="#AA2C63"/>
<circle cx="315.5" cy="814.8" r="9.3" fill="#9E2869"/>
<circle cx="256.7" cy="775.6" r="9.3" fill="#93236E"/>
<circle cx="398.9" cy="717.8" r="9.3" fill="#8C2170"/>
<circle cx="314.1" cy="811.9" r="9.3" fill="#A72B64"/>
<circle cx="409.9" cy="715" r="9.3" fill="#5F1580"/>
<circle cx="399.2" cy="791.3" r="9.3" fill="#A72B64"/>
<circle cx="303.1" cy="756.3" r="9.3" fill="#9C276A"/>
<circle cx="322.7" cy="778.7" r="9.3" fill="#98256C"/>
<circle cx="256.2" cy="767.7" r="9.3" fill="#99266C"/>
<circle cx="390.6" cy="831.8" r="9.3" fill="#64167D"/>
<circle cx="242.6" cy="900.2" r="9.3" fill="#96246E"/>
<circle cx="448.8" cy="720.4" r="9.3" fill="#9B266B"/>
<circle cx="221" cy="829.6" r="9.3" fill="#CD4348"/>
<circle cx="271.2" cy="778.5" r="9.3" fill="#761C75"/>
<circle cx="274.4" cy="771.1" r="9.3" fill="#7E1E73"/>
<circle cx="391.4" cy="782.2" r="9.3" fill="#A42A66"/>
<circle cx="358.4" cy="853.4" r="9.3" fill="#6F1A77"/>
<circle cx="252.9" cy="909.6" r="9.3" fill="#AC2D61"/>
<circle cx="424.3" cy="712" r="9.3" fill="#8B2170"/>
<circle cx="414.4" cy="801.3" r="9.3" fill="#6C1978"/>
<circle cx="318.4" cy="782.3" r="9.3" fill="#8E2270"/>
<circle cx="356.5" cy="820.5" r="9.3" fill="#B5315C"/>
<circle cx="250.4" cy="831.7" r="9.3" fill="#F27820"/>
<circle cx="266.4" cy="855.9" r="9.3" fill="#8F226F"/>
<circle cx="345.9" cy="795.6" r="9.3" fill="#9E2869"/>
<circle cx="214" cy="929" r="9.3" fill="#B2305E"/>
<circle cx="220.7" cy="893.5" r="9.3" fill="#9B276B"/>
<circle cx="276.3" cy="751.6" r="9.3" fill="#AD2E61"/>
<circle cx="481.1" cy="777.9" r="9.3" fill="#69187A"/>
<circle cx="293.2" cy="778.8" r="9.3" fill="#9E2869"/>
<circle cx="332.9" cy="883" r="9.3" fill="#9E2869"/>
<circle cx="202.9" cy="806.2" r="9.3" fill="#BD3755"/>
<circle cx="226.2" cy="920.2" r="9.3" fill="#7F1E73"/>
<circle cx="422.5" cy="799.3" r="9.3" fill="#61157F"/>
<circle cx="209.1" cy="878.9" r="9.3" fill="#92236F"/>
<circle cx="353.1" cy="799.3" r="9.3" fill="#99256C"/>
<circle cx="253.5" cy="759.1" r="9.3" fill="#B2305E"/>
<circle cx="279.5" cy="748.1" r="9.3" fill="#B93459"/>
<circle cx="423.9" cy="761.8" r="9.3" fill="#821F72"/>
<circle cx="418.6" cy="705.4" r="9.3" fill="#69187A"/>
<circle cx="355.3" cy="808.6" r="9.3" fill="#91236F"/>
<circle cx="295.1" cy="843.1" r="9.3" fill="#9A266B"/>
<circle cx="470.1" cy="777.9" r="9.3" fill="#721A76"/>
<circle cx="221.1" cy="850.7" r="9.3" fill="#BB3557"/>
<circle cx="351.1" cy="681.3" r="9.3" fill="#A02868"/>
<circle cx="478.7" cy="767.1" r="9.3" fill="#6F1A77"/>
<circle cx="240.4" cy="707.1" r="9.3" fill="#A32A66"/>
<circle cx="363.6" cy="878.3" r="9.3" fill="#8B2170"/>
<circle cx="362.6" cy="890" r="9.3" fill="#851F72"/>
<circle cx="362" cy="901" r="9.3" fill="#801E73"/>
<circle cx="356.4" cy="914.4" r="9.3" fill="#801E73"/>
<circle cx="442.6" cy="666.4" r="9.3" fill="#A32A66"/>
<circle cx="453.5" cy="665.6" r="9.3" fill="#A32A66"/>
<circle cx="448" cy="685.2" r="9.3" fill="#801E73"/>
<circle cx="487.9" cy="671.1" r="9.3" fill="#791C74"/>
<circle cx="502.8" cy="707.1" r="9.3" fill="#95246E"/>
<circle cx="473.1" cy="731.3" r="9.3" fill="#A32A66"/>
<circle cx="385.8" cy="882.3" r="9.3" fill="#801E73"/>
<circle cx="471.5" cy="791.9" r="9.3" fill="#67177B"/>
<circle cx="426.2" cy="767.3" r="9.3" fill="#DF5836"/>
<circle cx="189.5" cy="779" r="9.3" fill="#FBAE1C"/>
</g>
<g stroke="#262626" stroke-width="3.5">
<line x1="173" x2="173" y1="991.8" y2="1002.3"/>
<line x1="273.6" x2="273.6" y1="991.8" y2="1002.3"/>
<line x1="374" x2="374" y1="991.8" y2="1002.3"/>
<line x1="474.5" x2="474.5" y1="991.8" y2="1002.3"/>
<line x1="163" x2="173.5" y1="697.2" y2="697.2"/>
<line x1="163" x2="173.5" y1="753.9" y2="753.9"/>
<line x1="163" x2="173.5" y1="810.5" y2="810.5"/>
<line x1="163" x2="173.5" y1="866.9" y2="866.9"/>
<line x1="163" x2="173.5" y1="923.4" y2="923.4"/>
<line x1="163" x2="173.5" y1="980.1" y2="980.1"/>
</g>
<g class="t" font-size="35" fill="#4D4D4D">
<text x="171.8" y="1036.1" text-anchor="middle">0.0</text>
<text x="272.4" y="1036.1" text-anchor="middle">0.3</text>
<text x="372.8" y="1036.1" text-anchor="middle">0.6</text>
<text x="473.3" y="1036.1" text-anchor="middle">0.9</text>
<text x="151" y="708.9" text-anchor="end">0.10</text>
<text x="151" y="765.6" text-anchor="end">0.05</text>
<text x="151" y="822.2" text-anchor="end">0.00</text>
<text x="151" y="878.6" text-anchor="end">−0.05</text>
<text x="151" y="935.1" text-anchor="end">−0.10</text>
<text x="151" y="991.8" text-anchor="end">−0.15</text>
</g>
<text class="k" x="174" y="616.7" font-size="51.5" fill="#000" letter-spacing="-4.3">VSR</text>
<text class="k" x="308.8" y="1088.3" font-size="44" fill="#000" text-anchor="middle" letter-spacing="-3.6">VSR</text>
<text class="k" transform="translate(50.2 822) rotate(-90)" font-size="44" fill="#000" text-anchor="middle">SHAP value</text>
<defs><linearGradient id="grad-p3" x1="0" y1="0" x2="0" y2="1"><stop offset="0" stop-color="#FCB814"/><stop offset="0.02" stop-color="#FBAE1C"/><stop offset="0.0833" stop-color="#FA9F1C"/><stop offset="0.1667" stop-color="#F88E1A"/><stop offset="0.25" stop-color="#F37B1E"/><stop offset="0.3333" stop-color="#EB672A"/><stop offset="0.4167" stop-color="#D64C40"/><stop offset="0.5" stop-color="#C43B50"/><stop offset="0.5833" stop-color="#B5315C"/><stop offset="0.6667" stop-color="#A42A66"/><stop offset="0.75" stop-color="#95246E"/><stop offset="0.8333" stop-color="#841F72"/><stop offset="0.9167" stop-color="#701A76"/><stop offset="1" stop-color="#5F1580"/></linearGradient></defs>
<rect x="573.4" y="678.3" width="71.4" height="351.2" fill="url(#grad-p3)"/>
<g stroke="#FFFFFF" stroke-width="2.3">
<line x1="573.4" x2="587.7" y1="712.2" y2="712.2"/>
<line x1="630.5" x2="644.8" y1="712.2" y2="712.2"/>
<line x1="573.4" x2="587.7" y1="777" y2="777"/>
<line x1="630.5" x2="644.8" y1="777" y2="777"/>
<line x1="573.4" x2="587.7" y1="841.9" y2="841.9"/>
<line x1="630.5" x2="644.8" y1="841.9" y2="841.9"/>
<line x1="573.4" x2="587.7" y1="907" y2="907"/>
<line x1="630.5" x2="644.8" y1="907" y2="907"/>
<line x1="573.4" x2="587.7" y1="972.5" y2="972.5"/>
<line x1="630.5" x2="644.8" y1="972.5" y2="972.5"/>
</g>
<g class="l" font-size="35" fill="#000">
<text x="667.8" y="723.9">5000</text>
<text x="667.8" y="788.7">4000</text>
<text x="667.8" y="853.6">3000</text>
<text x="667.8" y="918.7">2000</text>
<text x="667.8" y="984.2">1000</text>
</g>
<text class="k" x="572.4" y="651.2" font-size="44" fill="#000">SAT</text>
</g>
<g class="panel" id="p4">
<rect x="947.4" y="650.3" width="379.9" height="341.5" fill="#EBEBEB"/>
<clipPath id="clip-p4"><rect x="947.4" y="650.3" width="379.9" height="341.5"/></clipPath>
<g clip-path="url(#clip-p4)">
<line x1="1020" x2="1020" y1="650.3" y2="991.8" stroke="#FAFAFA" stroke-width="2.3"/>
<line x1="1149" x2="1149" y1="650.3" y2="991.8" stroke="#FAFAFA" stroke-width="2.3"/>
<line x1="1277.9" x2="1277.9" y1="650.3" y2="991.8" stroke="#FAFAFA" stroke-width="2.3"/>
<line x1="947.4" x2="1327.3" y1="662" y2="662" stroke="#FAFAFA" stroke-width="2.3"/>
<line x1="947.4" x2="1327.3" y1="732" y2="732" stroke="#FAFAFA" stroke-width="2.3"/>
<line x1="947.4" x2="1327.3" y1="802" y2="802" stroke="#FAFAFA" stroke-width="2.3"/>
<line x1="947.4" x2="1327.3" y1="872" y2="872" stroke="#FAFAFA" stroke-width="2.3"/>
<line x1="947.4" x2="1327.3" y1="942" y2="942" stroke="#FAFAFA" stroke-width="2.3"/>
<line x1="955.6" x2="955.6" y1="650.3" y2="991.8" stroke="#FFFFFF" stroke-width="4.4"/>
<line x1="1084.5" x2="1084.5" y1="650.3" y2="991.8" stroke="#FFFFFF" stroke-width="4.4"/>
<line x1="1213.4" x2="1213.4" y1="650.3" y2="991.8" stroke="#FFFFFF" stroke-width="4.4"/>
<line x1="947.4" x2="1327.3" y1="697" y2="697" stroke="#FFFFFF" stroke-width="4.4"/>
<line x1="947.4" x2="1327.3" y1="767" y2="767" stroke="#FFFFFF" stroke-width="4.4"/>
<line x1="947.4" x2="1327.3" y1="837" y2="837" stroke="#FFFFFF" stroke-width="4.4"/>
<line x1="947.4" x2="1327.3" y1="907" y2="907" stroke="#FFFFFF" stroke-width="4.4"/>
<line x1="947.4" x2="1327.3" y1="977" y2="977" stroke="#FFFFFF" stroke-width="4.4"/>
</g>
<g class="points">
<circle cx="984.4" cy="919.8" r="9.3" fill="#801E73"/>
<circle cx="1053.2" cy="821.2" r="9.3" fill="#9D276A"/>
<circle cx="1059.3" cy="841.4" r="9.3" fill="#AD2E61"/>
<circle cx="1093.8" cy="751.6" r="9.3" fill="#882071"/>
<circle cx="1131.4" cy="791.5" r="9.3" fill="#96246E"/>
<circle cx="1139.6" cy="916.4" r="9.3" fill="#8B2170"/>
<circle cx="1210" cy="748.2" r="9.3" fill="#892071"/>
<circle cx="1004.9" cy="959.9" r="9.3" fill="#791C74"/>
<circle cx="1087.5" cy="789.2" r="9.3" fill="#831F72"/>
<circle cx="999.2" cy="956.8" r="9.3" fill="#892071"/>
<circle cx="1121.3" cy="843.9" r="9.3" fill="#93246E"/>
<circle cx="1114.4" cy="842.4" r="9.3" fill="#97256D"/>
<circle cx="1034.8" cy="800.7" r="9.3" fill="#90236F"/>
<circle cx="1032.2" cy="727.4" r="9.3" fill="#8B2170"/>
<circle cx="1161.2" cy="795.1" r="9.3" fill="#99266C"/>
<circle cx="1134.2" cy="808.4" r="9.3" fill="#821F72"/>
<circle cx="1037.6" cy="904.9" r="9.3" fill="#A52A65"/>
<circle cx="994.9" cy="883.2" r="9.3" fill="#66177C"/>
<circle cx="1165.4" cy="869.5" r="9.3" fill="#A82B64"/>
<circle cx="1213.6" cy="837.8" r="9.3" fill="#8C2170"/>
<circle cx="1125.4" cy="778.2" r="9.3" fill="#AD2E61"/>
<circle cx="1112" cy="786.1" r="9.3" fill="#A92C63"/>
<circle cx="1135.7" cy="816.1" r="9.3" fill="#6C1978"/>
<circle cx="1144" cy="898.6" r="9.3" fill="#8D2270"/>
<circle cx="1111.6" cy="795.6" r="9.3" fill="#B12F5F"/>
<circle cx="1127.5" cy="842.2" r="9.3" fill="#761B75"/>
<circle cx="1151.7" cy="814.4" r="9.3" fill="#B2305E"/>
<circle cx="1054.2" cy="894.4" r="9.3" fill="#B6325B"/>
<circle cx="1121.3" cy="861.1" r="9.3" fill="#AB2D62"/>
<circle cx="1149.2" cy="803.2" r="9.3" fill="#98256D"/>
<circle cx="1157.1" cy="874.6" r="9.3" fill="#D64C40"/>
<circle cx="1044.8" cy="892.2" r="9.3" fill="#A72B64"/>
<circle cx="1043.4" cy="797.4" r="9.3" fill="#892171"/>
<circle cx="1189.4" cy="760.5" r="9.3" fill="#94246E"/>
<circle cx="1192.2" cy="822.5" r="9.3" fill="#E7622E"/>
<circle cx="1032" cy="893.5" r="9.3" fill="#A22967"/>
<circle cx="1094.4" cy="836.8" r="9.3" fill="#C23A52"/>
<circle cx="1012.5" cy="944.8" r="9.3" fill="#892171"/>
<circle cx="1134.5" cy="828.4" r="9.3" fill="#A12968"/>
<circle cx="1013.2" cy="886.6" r="9.3" fill="#7A1C74"/>
<circle cx="1106.6" cy="815.3" r="9.3" fill="#9C276A"/>
<circle cx="1075.1" cy="800.7" r="9.3" fill="#8F2270"/>
<circle cx="1101" cy="833.1" r="9.3" fill="#9D276A"/>
<circle cx="1182.3" cy="751.3" r="9.3" fill="#872071"/>
<circle cx="1173.7" cy="850.4" r="9.3" fill="#A12968"/>
<circle cx="1033.9" cy="779.5" r="9.3" fill="#94246E"/>
<circle cx="1215.7" cy="786" r="9.3" fill="#A02868"/>
<circle cx="1041.9" cy="760.6" r="9.3" fill="#741B75"/>
<circle cx="1065.7" cy="757.6" r="9.3" fill="#8C2170"/>
<circle cx="997.4" cy="930.9" r="9.3" fill="#7E1E73"/>
<circle cx="1183.7" cy="820.1" r="9.3" fill="#F6871C"/>
<circle cx="1182.2" cy="830.8" r="9.3" fill="#F37B1E"/>
<circle cx="1209.4" cy="768.8" r="9.3" fill="#8F226F"/>
<circle cx="1037.8" cy="808.3" r="9.3" fill="#94246E"/>
<circle cx="1194.2" cy="738.6" r="9.3" fill="#8A2171"/>
<circle cx="1025" cy="814.9" r="9.3" fill="#68187B"/>
<circle cx="1082.9" cy="790.1" r="9.3" fill="#64177D"/>
<circle cx="1151.3" cy="871.4" r="9.3" fill="#EB672A"/>
<circle cx="1052.7" cy="753.1" r="9.3" fill="#8E2270"/>
<circle cx="1032.6" cy="860.2" r="9.3" fill="#801E73"/>
<circle cx="1115.9" cy="799.4" r="9.3" fill="#B12F5E"/>
<circle cx="1145.4" cy="810.3" r="9.3" fill="#862071"/>
<circle cx="1138.5" cy="918" r="9.3" fill="#90236F"/>
<circle cx="1006.3" cy="860.3" r="9.3" fill="#771C75"/>
<circle cx="1198.8" cy="753.2" r="9.3" fill="#AA2C63"/>
<circle cx="1131.3" cy="902" r="9.3" fill="#64167D"/>
<circle cx="1093.8" cy="888.5" r="9.3" fill="#8F2270"/>
<circle cx="1105" cy="865.9" r="9.3" fill="#B12F5E"/>
<circle cx="1198.7" cy="715.4" r="9.3" fill="#92236F"/>
<circle cx="1028" cy="858.1" r="9.3" fill="#811E73"/>
<circle cx="1008.3" cy="872" r="9.3" fill="#6F1A76"/>
<circle cx="977.9" cy="907.1" r="9.3" fill="#8D2270"/>
<circle cx="982.8" cy="914.1" r="9.3" fill="#8C2170"/>
<circle cx="975" cy="907.2" r="9.3" fill="#5F1580"/>
<circle cx="994.8" cy="938.7" r="9.3" fill="#851F72"/>
<circle cx="1010.1" cy="949.6" r="9.3" fill="#90236F"/>
<circle cx="1019.2" cy="879.4" r="9.3" fill="#6E1977"/>
<circle cx="1090.7" cy="883" r="9.3" fill="#95246E"/>
<circle cx="1029.8" cy="798.9" r="9.3" fill="#97256D"/>
<circle cx="1202.7" cy="783.7" r="9.3" fill="#9B266B"/>
<circle cx="1148.4" cy="852" r="9.3" fill="#831F72"/>
<circle cx="1162.9" cy="820.3" r="9.3" fill="#B4305D"/>
<circle cx="1070.2" cy="834.7" r="9.3" fill="#B12F5E"/>
<circle cx="1115.2" cy="761.5" r="9.3" fill="#701A76"/>
<circle cx="1200.5" cy="825.5" r="9.3" fill="#DE5638"/>
<circle cx="1140.4" cy="808.3" r="9.3" fill="#811E73"/>
<circle cx="999.2" cy="915.5" r="9.3" fill="#8B2170"/>
<circle cx="1145.9" cy="895.7" r="9.3" fill="#96246D"/>
<circle cx="1174.7" cy="855" r="9.3" fill="#B6325B"/>
<circle cx="1092.1" cy="874.4" r="9.3" fill="#AB2D62"/>
<circle cx="1003" cy="971" r="9.3" fill="#892171"/>
<circle cx="1136" cy="923.8" r="9.3" fill="#882071"/>
<circle cx="1082.9" cy="761" r="9.3" fill="#A62B65"/>
<circle cx="1033.6" cy="835.8" r="9.3" fill="#801E73"/>
<circle cx="1161.8" cy="783.6" r="9.3" fill="#A62B65"/>
<circle cx="1207.2" cy="755.9" r="9.3" fill="#90236F"/>
<circle cx="1056.9" cy="820.1" r="9.3" fill="#841F72"/>
<circle cx="1032.2" cy="711" r="9.3" fill="#96256D"/>
<circle cx="1108.8" cy="753.8" r="9.3" fill="#862071"/>
<circle cx="1055.6" cy="793.7" r="9.3" fill="#B4315C"/>
<circle cx="988" cy="888.7" r="9.3" fill="#6F1A77"/>
<circle cx="1003.1" cy="942.8" r="9.3" fill="#841F72"/>
<circle cx="1034.1" cy="887.5" r="9.3" fill="#95246E"/>
<circle cx="1033.3" cy="809.8" r="9.3" fill="#7B1D74"/>
<circle cx="1151.2" cy="854.7" r="9.3" fill="#862072"/>
<circle cx="998.3" cy="946.6" r="9.3" fill="#801E73"/>
<circle cx="1046.3" cy="850.7" r="9.3" fill="#8D2270"/>
<circle cx="1060.2" cy="799.2" r="9.3" fill="#99266C"/>
<circle cx="1154.3" cy="774" r="9.3" fill="#841F72"/>
<circle cx="1175" cy="752.6" r="9.3" fill="#872071"/>
<circle cx="1108.1" cy="821.3" r="9.3" fill="#9D276A"/>
<circle cx="1030.6" cy="853.8" r="9.3" fill="#5F1580"/>
<circle cx="986.2" cy="902.2" r="9.3" fill="#7C1D74"/>
<circle cx="1104.8" cy="731.3" r="9.3" fill="#731B75"/>
<circle cx="1102.6" cy="850.6" r="9.3" fill="#9E2869"/>
<circle cx="990.8" cy="896.4" r="9.3" fill="#8D2270"/>
<circle cx="994.9" cy="927" r="9.3" fill="#781C74"/>
<circle cx="1071" cy="872.1" r="9.3" fill="#6F1A77"/>
<circle cx="1197.2" cy="728.2" r="9.3" fill="#97256D"/>
<circle cx="1205.2" cy="752.1" r="9.3" fill="#8F226F"/>
<circle cx="1041.7" cy="874.3" r="9.3" fill="#AC2D62"/>
<circle cx="1115.4" cy="848.6" r="9.3" fill="#96246D"/>
<circle cx="1050.7" cy="872" r="9.3" fill="#AE2E60"/>
<circle cx="1045.9" cy="810.8" r="9.3" fill="#892171"/>
<circle cx="1085.6" cy="765.7" r="9.3" fill="#AA2D62"/>
<circle cx="973.6" cy="897.7" r="9.3" fill="#60157F"/>
<circle cx="986.7" cy="868.2" r="9.3" fill="#62167E"/>
<circle cx="1098.1" cy="755.1" r="9.3" fill="#97256D"/>
<circle cx="1080.2" cy="798.2" r="9.3" fill="#7C1D74"/>
<circle cx="1071.4" cy="751.7" r="9.3" fill="#8B2170"/>
<circle cx="1160.3" cy="802.4" r="9.3" fill="#95246E"/>
<circle cx="1040.8" cy="841.2" r="9.3" fill="#751B75"/>
<circle cx="1173.6" cy="816.8" r="9.3" fill="#F9961B"/>
<circle cx="1038.3" cy="733.6" r="9.3" fill="#90236F"/>
<circle cx="1216.5" cy="762.2" r="9.3" fill="#9E2769"/>
<circle cx="995.2" cy="901.9" r="9.3" fill="#781C74"/>
<circle cx="1197.6" cy="718.5" r="9.3" fill="#882071"/>
<circle cx="1068.8" cy="806.3" r="9.3" fill="#94246E"/>
<circle cx="1015.6" cy="891.1" r="9.3" fill="#9E2869"/>
<circle cx="1200.1" cy="728.2" r="9.3" fill="#99266C"/>
<circle cx="1197.5" cy="795" r="9.3" fill="#C43B50"/>
<circle cx="1033.7" cy="878" r="9.3" fill="#A52A65"/>
<circle cx="1080.3" cy="834.3" r="9.3" fill="#BD3656"/>
<circle cx="1041.5" cy="810.4" r="9.3" fill="#95246E"/>
<circle cx="1069.8" cy="848.7" r="9.3" fill="#D54B41"/>
<circle cx="1123.7" cy="820.7" r="9.3" fill="#9B276B"/>
<circle cx="1015.3" cy="838.5" r="9.3" fill="#8F226F"/>
<circle cx="1074.2" cy="837.2" r="9.3" fill="#BC3656"/>
<circle cx="1065.4" cy="865.7" r="9.3" fill="#97256D"/>
<circle cx="1182.4" cy="780.4" r="9.3" fill="#8C2170"/>
<circle cx="1085" cy="806.7" r="9.3" fill="#A52A65"/>
<circle cx="1053.5" cy="885.5" r="9.3" fill="#B1305E"/>
<circle cx="1091.4" cy="780.7" r="9.3" fill="#A92C63"/>
<circle cx="1122.9" cy="865.7" r="9.3" fill="#B7325B"/>
<circle cx="1163.4" cy="825.5" r="9.3" fill="#AE2E60"/>
<circle cx="1164.5" cy="854.5" r="9.3" fill="#AA2D62"/>
<circle cx="1159.2" cy="779.5" r="9.3" fill="#93246E"/>
<circle cx="1129.7" cy="881.6" r="9.3" fill="#F9961B"/>
<circle cx="1058" cy="749.2" r="9.3" fill="#781C74"/>
<circle cx="1032.9" cy="718" r="9.3" fill="#8F226F"/>
<circle cx="1082.2" cy="835.7" r="9.3" fill="#C33A51"/>
<circle cx="1019.2" cy="871.6" r="9.3" fill="#5F1580"/>
<circle cx="1038.7" cy="792.4" r="9.3" fill="#98256D"/>
<circle cx="1022.1" cy="837.9" r="9.3" fill="#6B1979"/>
<circle cx="1013.3" cy="921" r="9.3" fill="#98256D"/>
<circle cx="1056.4" cy="762.6" r="9.3" fill="#862071"/>
<circle cx="1131.1" cy="847.6" r="9.3" fill="#8A2171"/>
<circle cx="1076.1" cy="780.7" r="9.3" fill="#8E2270"/>
<circle cx="1004.6" cy="936.3" r="9.3" fill="#841F72"/>
<circle cx="1038.1" cy="864.2" r="9.3" fill="#95246E"/>
<circle cx="1043.8" cy="904.1" r="9.3" fill="#A12967"/>
<circle cx="1085.2" cy="807.8" r="9.3" fill="#A82C63"/>
<circle cx="1092.8" cy="869.6" r="9.3" fill="#C13952"/>
<circle cx="1154.7" cy="878.5" r="9.3" fill="#CA414B"/>
<circle cx="1141.6" cy="874.5" r="9.3" fill="#ED6C27"/>
<circle cx="1030.6" cy="848.9" r="9.3" fill="#741B75"/>
<circle cx="1153.2" cy="823.1" r="9.3" fill="#99256C"/>
<circle cx="1013" cy="883.8" r="9.3" fill="#9A266B"/>
<circle cx="1059.7" cy="879.9" r="9.3" fill="#B4315D"/>
<circle cx="1050.4" cy="860.7" r="9.3" fill="#A32A66"/>
<circle cx="1068.2" cy="819.6" r="9.3" fill="#841F72"/>
<circle cx="969.5" cy="883.2" r="9.3" fill="#6B1879"/>
<circle cx="1183.2" cy="769.8" r="9.3" fill="#8C2170"/>
<circle cx="1087.4" cy="760.6" r="9.3" fill="#99256C"/>
<circle cx="1165.2" cy="806.2" r="9.3" fill="#7F1E73"/>
<circle cx="1145" cy="820.6" r="9.3" fill="#94246E"/>
<circle cx="1101.1" cy="769.8" r="9.3" fill="#A02868"/>
<circle cx="996.9" cy="876.8" r="9.3" fill="#64167D"/>
<circle cx="1067.9" cy="768.4" r="9.3" fill="#95246E"/>
<circle cx="1199.4" cy="721.9" r="9.3" fill="#882071"/>
<circle cx="1115.6" cy="804.1" r="9.3" fill="#9D276A"/>
<circle cx="1005.4" cy="903.9" r="9.3" fill="#811E73"/>
<circle cx="1134.4" cy="916.5" r="9.3" fill="#892071"/>
<circle cx="1064.1" cy="829.2" r="9.3" fill="#91236F"/>
<circle cx="1035.6" cy="896" r="9.3" fill="#A82C64"/>
<circle cx="1057.3" cy="883.9" r="9.3" fill="#A82C63"/>
<circle cx="1185.9" cy="756.2" r="9.3" fill="#761B75"/>
<circle cx="1141.4" cy="921.5" r="9.3" fill="#9B266B"/>
<circle cx="1050.7" cy="736.6" r="9.3" fill="#8A2171"/>
<circle cx="1170.9" cy="809.7" r="9.3" fill="#C23952"/>
<circle cx="1073.9" cy="858.8" r="9.3" fill="#B3305D"/>
<circle cx="1135.4" cy="882" r="9.3" fill="#F07422"/>
<circle cx="1184.7" cy="775.9" r="9.3" fill="#91236F"/>
<circle cx="1158.3" cy="798.7" r="9.3" fill="#A62B65"/>
<circle cx="1187.6" cy="831.6" r="9.3" fill="#F5821D"/>
<circle cx="1091.4" cy="786.2" r="9.3" fill="#A32967"/>
<circle cx="1182.7" cy="793" r="9.3" fill="#BE3755"/>
<circle cx="986.7" cy="910.3" r="9.3" fill="#6B1979"/>
<circle cx="1146.9" cy="919.1" r="9.3" fill="#892171"/>
<circle cx="1166.3" cy="793.9" r="9.3" fill="#9E2769"/>
<circle cx="1161.2" cy="797.3" r="9.3" fill="#9C276A"/>
<circle cx="1131.2" cy="806.6" r="9.3" fill="#94246E"/>
<circle cx="1127.2" cy="800.3" r="9.3" fill="#9F2869"/>
<circle cx="1167.4" cy="837" r="9.3" fill="#95246E"/>
<circle cx="1171.7" cy="825.3" r="9.3" fill="#F37B1E"/>
<circle cx="1150.7" cy="826" r="9.3" fill="#A12967"/>
<circle cx="1086" cy="871.8" r="9.3" fill="#A42A66"/>
<circle cx="1179.2" cy="794.4" r="9.3" fill="#9F2869"/>
<circle cx="1063.8" cy="847.7" r="9.3" fill="#C83F4D"/>
<circle cx="1086" cy="782.4" r="9.3" fill="#99266C"/>
<circle cx="1090.4" cy="860.6" r="9.3" fill="#D64C40"/>
<circle cx="996.9" cy="963.5" r="9.3" fill="#7B1D74"/>
<circle cx="1145.8" cy="874" r="9.3" fill="#F6851C"/>
<circle cx="1124.9" cy="786.4" r="9.3" fill="#A22967"/>
<circle cx="1202.2" cy="800.7" r="9.3" fill="#D44A42"/>
<circle cx="1062" cy="860.3" r="9.3" fill="#C13952"/>
<circle cx="1076.8" cy="815.9" r="9.3" fill="#A82C63"/>
<circle cx="1146.2" cy="834.1" r="9.3" fill="#A52A66"/>
<circle cx="1018.8" cy="927.6" r="9.3" fill="#92236F"/>
<circle cx="1195.6" cy="764" r="9.3" fill="#98256C"/>
<circle cx="1043.3" cy="804.3" r="9.3" fill="#7C1D74"/>
<circle cx="1206" cy="803.5" r="9.3" fill="#C73D4E"/>
<circle cx="1138.6" cy="883.2" r="9.3" fill="#CD4448"/>
<circle cx="1101.8" cy="820" r="9.3" fill="#861F72"/>
<circle cx="1001.7" cy="882.8" r="9.3" fill="#5F1580"/>
<circle cx="1013.9" cy="861.7" r="9.3" fill="#7B1D74"/>
<circle cx="1033.6" cy="725" r="9.3" fill="#892071"/>
<circle cx="1115.7" cy="783.3" r="9.3" fill="#A22967"/>
<circle cx="1038.2" cy="822.6" r="9.3" fill="#91236F"/>
<circle cx="1039.3" cy="781.4" r="9.3" fill="#872071"/>
<circle cx="1056.3" cy="712.5" r="9.3" fill="#94246E"/>
<circle cx="1057.4" cy="887.4" r="9.3" fill="#B12F5E"/>
<circle cx="1065.1" cy="815.7" r="9.3" fill="#872071"/>
<circle cx="1183" cy="760.7" r="9.3" fill="#8B2170"/>
<circle cx="1003.1" cy="889" r="9.3" fill="#701A76"/>
<circle cx="1119.2" cy="865.7" r="9.3" fill="#A22967"/>
<circle cx="1157.3" cy="836.1" r="9.3" fill="#A92C63"/>
<circle cx="1020.4" cy="921.3" r="9.3" fill="#882071"/>
<circle cx="1200.5" cy="780.5" r="9.3" fill="#9C276A"/>
<circle cx="1029.6" cy="903.8" r="9.3" fill="#A32A66"/>
<circle cx="1082.1" cy="791.4" r="9.3" fill="#69187A"/>
<circle cx="1137" cy="903.2" r="9.3" fill="#861F72"/>
<circle cx="1112.5" cy="804" r="9.3" fill="#AA2D62"/>
<circle cx="1025.3" cy="854.9" r="9.3" fill="#851F72"/>
<circle cx="1077.7" cy="768.5" r="9.3" fill="#9E2769"/>
<circle cx="1040.1" cy="827.8" r="9.3" fill="#862071"/>
<circle cx="1106.3" cy="743.8" r="9.3" fill="#7A1D74"/>
<circle cx="1021.4" cy="910.6" r="9.3" fill="#9C276A"/>
<circle cx="1050.1" cy="806.2" r="9.3" fill="#851F72"/>
<circle cx="1065.2" cy="837" r="9.3" fill="#AC2D61"/>
<circle cx="1025.1" cy="858.2" r="9.3" fill="#60157F"/>
<circle cx="1055.5" cy="681.3" r="9.3" fill="#831F72"/>
<circle cx="1134.9" cy="861.3" r="9.3" fill="#9A266B"/>
<circle cx="1078.6" cy="772.4" r="9.3" fill="#BC3557"/>
<circle cx="1208" cy="796.8" r="9.3" fill="#AD2E61"/>
<circle cx="1117.9" cy="765.4" r="9.3" fill="#67177B"/>
<circle cx="1101.8" cy="812.2" r="9.3" fill="#A72B64"/>
<circle cx="1181.2" cy="778.7" r="9.3" fill="#92236F"/>
<circle cx="1129.6" cy="799.7" r="9.3" fill="#A92C63"/>
<circle cx="1063.1" cy="743.9" r="9.3" fill="#97256D"/>
<circle cx="965.6" cy="890" r="9.3" fill="#7B1D74"/>
<circle cx="1044.8" cy="764.8" r="9.3" fill="#6A187A"/>
<circle cx="1161.5" cy="762" r="9.3" fill="#7E1E73"/>
<circle cx="1051.7" cy="845.1" r="9.3" fill="#B6325B"/>
<circle cx="1063.2" cy="768.4" r="9.3" fill="#7C1D74"/>
<circle cx="977.3" cy="906.1" r="9.3" fill="#731B75"/>
<circle cx="1193.8" cy="831.6" r="9.3" fill="#DC543A"/>
<circle cx="1142.7" cy="885.1" r="9.3" fill="#D64C40"/>
<circle cx="1035.8" cy="778.2" r="9.3" fill="#91236F"/>
<circle cx="1102.3" cy="799.2" r="9.3" fill="#B6325B"/>
<circle cx="994.5" cy="918.2" r="9.3" fill="#8A2171"/>
<circle cx="1037.3" cy="830.3" r="9.3" fill="#811E73"/>
<circle cx="1065.9" cy="777.4" r="9.3" fill="#9B266B"/>
<circle cx="993.2" cy="949.5" r="9.3" fill="#8A2171"/>
<circle cx="1108.9" cy="869" r="9.3" fill="#96246D"/>
<circle cx="1203.2" cy="775.1" r="9.3" fill="#8D2270"/>
<circle cx="1052.6" cy="893.1" r="9.3" fill="#B02F5F"/>
<circle cx="1089.9" cy="837.1" r="9.3" fill="#AB2D62"/>
<circle cx="974.8" cy="874.1" r="9.3" fill="#6E1977"/>
<circle cx="1056.1" cy="702.1" r="9.3" fill="#7D1D73"/>
<circle cx="1189.6" cy="737.9" r="9.3" fill="#98256C"/>
<circle cx="1076" cy="757" r="9.3" fill="#92236F"/>
<circle cx="1068.6" cy="868.9" r="9.3" fill="#8D2270"/>
<circle cx="1004.6" cy="920.3" r="9.3" fill="#7D1D73"/>
<circle cx="971.5" cy="871.3" r="9.3" fill="#791C74"/>
<circle cx="1043" cy="825.5" r="9.3" fill="#9A266B"/>
<circle cx="1098.8" cy="788" r="9.3" fill="#AC2D61"/>
<circle cx="1032.2" cy="719.2" r="9.3" fill="#801E73"/>
<circle cx="1063.6" cy="772.5" r="9.3" fill="#97256D"/>
<circle cx="1092.8" cy="774" r="9.3" fill="#A52A65"/>
<circle cx="1103.6" cy="847.8" r="9.3" fill="#AC2D61"/>
<circle cx="1077" cy="787.7" r="9.3" fill="#711A76"/>
<circle cx="1009" cy="922" r="9.3" fill="#8F226F"/>
<circle cx="1204.3" cy="766.5" r="9.3" fill="#94246E"/>
<circle cx="1039.8" cy="740.1" r="9.3" fill="#9D2769"/>
<circle cx="1047.1" cy="800" r="9.3" fill="#9E2869"/>
<circle cx="1015.7" cy="958.8" r="9.3" fill="#882071"/>
<circle cx="1055.9" cy="789.1" r="9.3" fill="#C73E4D"/>
<circle cx="1152.9" cy="796.2" r="9.3" fill="#A32A66"/>
<circle cx="1002.2" cy="905.8" r="9.3" fill="#8F226F"/>
<circle cx="1182.9" cy="828.8" r="9.3" fill="#F07422"/>
<circle cx="1192.6" cy="773.8" r="9.3" fill="#892071"/>
<circle cx="1208.4" cy="795.9" r="9.3" fill="#BB3557"/>
<circle cx="1205.7" cy="830.6" r="9.3" fill="#AD2E61"/>
<circle cx="1158.9" cy="813.6" r="9.3" fill="#9C276A"/>
<circle cx="1047.7" cy="883.8" r="9.3" fill="#C73E4D"/>
<circle cx="1066" cy="769.9" r="9.3" fill="#C23952"/>
<circle cx="983" cy="885.8" r="9.3" fill="#61167F"/>
<circle cx="1068.8" cy="780.5" r="9.3" fill="#B93359"/>
<circle cx="1127.2" cy="858.5" r="9.3" fill="#A42A66"/>
<circle cx="1074.3" cy="877.5" r="9.3" fill="#95246E"/>
<circle cx="1045.6" cy="794.5" r="9.3" fill="#8C2170"/>
<circle cx="1035" cy="753.8" r="9.3" fill="#92236F"/>
<circle cx="1153.9" cy="870.8" r="9.3" fill="#DB523B"/>
<circle cx="1006.8" cy="926" r="9.3" fill="#94246E"/>
<circle cx="1077.9" cy="810.6" r="9.3" fill="#9B266B"/>
<circle cx="1080" cy="853.8" r="9.3" fill="#AD2E61"/>
<circle cx="1008.3" cy="970.8" r="9.3" fill="#872071"/>
<circle cx="1139.8" cy="850.8" r="9.3" fill="#721B76"/>
<circle cx="1169.4" cy="795.7" r="9.3" fill="#A22967"/>
<circle cx="1102.1" cy="779.6" r="9.3" fill="#A72B64"/>
<circle cx="1157.8" cy="771.5" r="9.3" fill="#711A76"/>
<circle cx="1067.9" cy="811.7" r="9.3" fill="#882071"/>
<circle cx="1100.1" cy="737.6" r="9.3" fill="#8F226F"/>
<circle cx="1038.9" cy="786.6" r="9.3" fill="#7B1D74"/>
<circle cx="1110.3" cy="758.9" r="9.3" fill="#92236F"/>
<circle cx="1047.3" cy="765.3" r="9.3" fill="#6D1978"/>
<circle cx="1060.3" cy="754.3" r="9.3" fill="#9C276A"/>
<circle cx="1078.7" cy="755.3" r="9.3" fill="#9F2869"/>
<circle cx="1060.3" cy="779" r="9.3" fill="#BA3458"/>
<circle cx="1031.4" cy="843.2" r="9.3" fill="#761C75"/>
<circle cx="1111.5" cy="827.7" r="9.3" fill="#AA2C63"/>
<circle cx="1064.7" cy="888.5" r="9.3" fill="#A22967"/>
<circle cx="1033.7" cy="791.3" r="9.3" fill="#8F226F"/>
<circle cx="1101.3" cy="729.7" r="9.3" fill="#721A76"/>
<circle cx="1028.4" cy="826" r="9.3" fill="#781C74"/>
<circle cx="1095.1" cy="813.9" r="9.3" fill="#AC2D61"/>
<circle cx="1204" cy="824.6" r="9.3" fill="#DF5836"/>
<circle cx="1139.4" cy="817.2" r="9.3" fill="#771C75"/>
<circle cx="982.9" cy="890.3" r="9.3" fill="#741B75"/>
<circle cx="1179.5" cy="788.5" r="9.3" fill="#A92C63"/>
<circle cx="1215.7" cy="749.6" r="9.3" fill="#8D2270"/>
<circle cx="974.5" cy="894.6" r="9.3" fill="#7A1D74"/>
<circle cx="1056.6" cy="803.6" r="9.3" fill="#892171"/>
<circle cx="1038.4" cy="747.5" r="9.3" fill="#94246E"/>
<circle cx="1198.5" cy="820.7" r="9.3" fill="#D44A42"/>
<circle cx="1168" cy="871.5" r="9.3" fill="#AF2F5F"/>
<circle cx="1120.6" cy="785.2" r="9.3" fill="#A22967"/>
<circle cx="1050.1" cy="819.7" r="9.3" fill="#861F72"/>
<circle cx="1085.7" cy="798.7" r="9.3" fill="#90236F"/>
<circle cx="1133" cy="863.7" r="9.3" fill="#95246E"/>
<circle cx="1206.8" cy="834.7" r="9.3" fill="#BD3755"/>
<circle cx="1079.3" cy="810.6" r="9.3" fill="#91236F"/>
<circle cx="1104.9" cy="795.6" r="9.3" fill="#B8335A"/>
<circle cx="1049.9" cy="750.7" r="9.3" fill="#91236F"/>
<circle cx="1196.4" cy="810.9" r="9.3" fill="#DF5836"/>
<circle cx="1048.5" cy="848.2" r="9.3" fill="#99266C"/>
<circle cx="1200.5" cy="769.4" r="9.3" fill="#96246E"/>
<circle cx="1189.5" cy="779.3" r="9.3" fill="#811E73"/>
<circle cx="1071" cy="781.6" r="9.3" fill="#A32967"/>
<circle cx="994.6" cy="888.5" r="9.3" fill="#65177C"/>
<circle cx="1110.2" cy="773.3" r="9.3" fill="#AF2F60"/>
<circle cx="1124.5" cy="810.6" r="9.3" fill="#9E2769"/>
<circle cx="1044.6" cy="777" r="9.3" fill="#882071"/>
<circle cx="1044.6" cy="762.7" r="9.3" fill="#7B1D74"/>
<circle cx="1142" cy="860" r="9.3" fill="#882071"/>
<circle cx="1142.4" cy="855.9" r="9.3" fill="#831F72"/>
<circle cx="1129.3" cy="817.4" r="9.3" fill="#9A266B"/>
<circle cx="1130.6" cy="808.1" r="9.3" fill="#801E73"/>
<circle cx="1091" cy="867.3" r="9.3" fill="#C43B50"/>
<circle cx="1035.6" cy="744" r="9.3" fill="#91236F"/>
<circle cx="1029.3" cy="802.4" r="9.3" fill="#8E2270"/>
<circle cx="1077.3" cy="822.3" r="9.3" fill="#B2305E"/>
<circle cx="1194.9" cy="790" r="9.3" fill="#B4315C"/>
<circle cx="994.2" cy="893.9" r="9.3" fill="#68187A"/>
<circle cx="1075.3" cy="795" r="9.3" fill="#6F1A76"/>
<circle cx="991.8" cy="872.5" r="9.3" fill="#69187A"/>
<circle cx="1152" cy="875.2" r="9.3" fill="#CB414A"/>
<circle cx="1097.2" cy="843.4" r="9.3" fill="#B12F5F"/>
<circle cx="1046.5" cy="817.4" r="9.3" fill="#811E73"/>
<circle cx="984.1" cy="871.1" r="9.3" fill="#5F1580"/>
<circle cx="1014.6" cy="891.5" r="9.3" fill="#7B1D74"/>
<circle cx="1128.4" cy="784.8" r="9.3" fill="#A62B65"/>
<circle cx="1050.3" cy="831.1" r="9.3" fill="#882071"/>
<circle cx="1057.8" cy="816.7" r="9.3" fill="#8B2170"/>
<circle cx="974.9" cy="899.3" r="9.3" fill="#5F1580"/>
<circle cx="1019.2" cy="845.3" r="9.3" fill="#7A1C74"/>
<circle cx="1031.3" cy="905.7" r="9.3" fill="#A12968"/>
<circle cx="1057.5" cy="877.7" r="9.3" fill="#AF2E60"/>
<circle cx="1031.4" cy="754.2" r="9.3" fill="#8C2170"/>
<circle cx="1180.7" cy="767.6" r="9.3" fill="#9A266B"/>
<circle cx="1035" cy="882.7" r="9.3" fill="#A62B65"/>
<circle cx="1071" cy="779.4" r="9.3" fill="#AC2D61"/>
<circle cx="1071.1" cy="787.1" r="9.3" fill="#6D1978"/>
<circle cx="1120" cy="811.1" r="9.3" fill="#9C276A"/>
<circle cx="1015.8" cy="924.9" r="9.3" fill="#861F72"/>
<circle cx="1034.3" cy="749.3" r="9.3" fill="#96256D"/>
<circle cx="1018.6" cy="850.5" r="9.3" fill="#94246E"/>
<circle cx="997.1" cy="888.3" r="9.3" fill="#6B1979"/>
<circle cx="1046.8" cy="787.7" r="9.3" fill="#94246E"/>
<circle cx="1156.7" cy="825.1" r="9.3" fill="#95246E"/>
<circle cx="1050.1" cy="855.1" r="9.3" fill="#A22967"/>
<circle cx="1063.1" cy="887.5" r="9.3" fill="#B7325A"/>
<circle cx="1099" cy="885.5" r="9.3" fill="#95246E"/>
<circle cx="1016.5" cy="840.1" r="9.3" fill="#6E1977"/>
<circle cx="1115.3" cy="858.4" r="9.3" fill="#97256D"/>
<circle cx="1048.5" cy="863.6" r="9.3" fill="#AB2D62"/>
<circle cx="1023.8" cy="826.2" r="9.3" fill="#751B75"/>
<circle cx="1057.4" cy="727.1" r="9.3" fill="#9C276A"/>
<circle cx="1133.3" cy="798.9" r="9.3" fill="#97256D"/>
<circle cx="1073.6" cy="816.1" r="9.3" fill="#99266C"/>
<circle cx="1126" cy="854.4" r="9.3" fill="#A12968"/>
<circle cx="1153.2" cy="766.5" r="9.3" fill="#65177C"/>
<circle cx="1145.5" cy="871.3" r="9.3" fill="#E7622E"/>
<circle cx="1097" cy="744.6" r="9.3" fill="#862072"/>
<circle cx="999.9" cy="953.8" r="9.3" fill="#92236F"/>
<circle cx="1050.3" cy="745.5" r="9.3" fill="#90236F"/>
<circle cx="1080.2" cy="842.9" r="9.3" fill="#C53C4F"/>
<circle cx="1055.9" cy="766.9" r="9.3" fill="#892171"/>
<circle cx="1137.3" cy="837" r="9.3" fill="#9A266B"/>
<circle cx="1209" cy="762.4" r="9.3" fill="#91236F"/>
<circle cx="1034.9" cy="874" r="9.3" fill="#9D276A"/>
<circle cx="1093.4" cy="853.5" r="9.3" fill="#C83E4D"/>
<circle cx="1054.3" cy="697.7" r="9.3" fill="#872071"/>
<circle cx="1223.5" cy="793.8" r="9.3" fill="#A82C64"/>
<circle cx="1132.8" cy="909.2" r="9.3" fill="#751B75"/>
<circle cx="1032.2" cy="782.1" r="9.3" fill="#99266C"/>
<circle cx="974.4" cy="902.6" r="9.3" fill="#6E1977"/>
<circle cx="1159.6" cy="809.6" r="9.3" fill="#A22967"/>
<circle cx="1011.8" cy="846.3" r="9.3" fill="#7A1D74"/>
<circle cx="1005.8" cy="866.3" r="9.3" fill="#751B75"/>
<circle cx="1029.4" cy="795.7" r="9.3" fill="#AD2E61"/>
<circle cx="1198.5" cy="744.1" r="9.3" fill="#A32A66"/>
<circle cx="1206.4" cy="761.4" r="9.3" fill="#A22967"/>
<circle cx="1109.9" cy="801.1" r="9.3" fill="#A92C63"/>
<circle cx="1170" cy="857.4" r="9.3" fill="#B2305E"/>
<circle cx="1037.4" cy="854.9" r="9.3" fill="#721B76"/>
<circle cx="1010.7" cy="932.3" r="9.3" fill="#8F2270"/>
<circle cx="1042.3" cy="773.5" r="9.3" fill="#6D1978"/>
<circle cx="1098.7" cy="875.8" r="9.3" fill="#A72B65"/>
<circle cx="1050.3" cy="896.6" r="9.3" fill="#9D276A"/>
<circle cx="1206.2" cy="745.9" r="9.3" fill="#98256C"/>
<circle cx="1065.9" cy="762.7" r="9.3" fill="#9B276B"/>
<circle cx="1038.3" cy="882.8" r="9.3" fill="#A12968"/>
<circle cx="1187.7" cy="790.4" r="9.3" fill="#8F226F"/>
<circle cx="1095.5" cy="798.3" r="9.3" fill="#AF2E60"/>
<circle cx="1064.1" cy="739.1" r="9.3" fill="#851F72"/>
<circle cx="1009.4" cy="974.5" r="9.3" fill="#801E73"/>
<circle cx="1139.4" cy="819.6" r="9.3" fill="#7D1D73"/>
<circle cx="1130" cy="827.4" r="9.3" fill="#96246E"/>
<circle cx="1054.4" cy="828.9" r="9.3" fill="#AB2D62"/>
<circle cx="977.5" cy="894.5" r="9.3" fill="#63167E"/>
<circle cx="1040.4" cy="813.4" r="9.3" fill="#91236F"/>
<circle cx="999.4" cy="943.3" r="9.3" fill="#821F72"/>
<circle cx="1031.9" cy="867.4" r="9.3" fill="#8F226F"/>
<circle cx="1213.7" cy="800.7" r="9.3" fill="#A42A66"/>
<circle cx="1006.3" cy="908.5" r="9.3" fill="#781C74"/>
<circle cx="1134.7" cy="867.1" r="9.3" fill="#C33A51"/>
<circle cx="1108.8" cy="764.5" r="9.3" fill="#AA2C62"/>
<circle cx="1145.9" cy="837.6" r="9.3" fill="#9E2869"/>
<circle cx="1081.7" cy="815.4" r="9.3" fill="#AD2E60"/>
<circle cx="1159.6" cy="833.9" r="9.3" fill="#98256C"/>
<circle cx="1119.4" cy="776.6" r="9.3" fill="#A32A66"/>
<circle cx="1083.6" cy="769.9" r="9.3" fill="#AC2D61"/>
<circle cx="1057.8" cy="847.2" r="9.3" fill="#B2305D"/>
<circle cx="1058.2" cy="790.2" r="9.3" fill="#CF4546"/>
<circle cx="1209.4" cy="767.1" r="9.3" fill="#831F72"/>
<circle cx="1192" cy="763.9" r="9.3" fill="#882071"/>
<circle cx="1150.8" cy="806.1" r="9.3" fill="#A92C63"/>
<circle cx="1181.7" cy="839.4" r="9.3" fill="#B6325B"/>
<circle cx="1011.6" cy="899.2" r="9.3" fill="#90226F"/>
<circle cx="1141.2" cy="827.1" r="9.3" fill="#90226F"/>
<circle cx="1016.7" cy="862.7" r="9.3" fill="#791C74"/>
<circle cx="1095.7" cy="883" r="9.3" fill="#7C1D74"/>
<circle cx="1077.4" cy="841" r="9.3" fill="#B12F5F"/>
<circle cx="1114.1" cy="767.7" r="9.3" fill="#9F2869"/>
<circle cx="1044.7" cy="822" r="9.3" fill="#892171"/>
<circle cx="1088.6" cy="853.9" r="9.3" fill="#C03853"/>
<circle cx="1062.3" cy="875.5" r="9.3" fill="#A42A66"/>
<circle cx="1049" cy="780.7" r="9.3" fill="#A32A66"/>
<circle cx="1081.4" cy="766.8" r="9.3" fill="#9F2869"/>
<circle cx="1076.2" cy="791.7" r="9.3" fill="#761B75"/>
<circle cx="1030.6" cy="764.7" r="9.3" fill="#892171"/>
<circle cx="1168" cy="786.7" r="9.3" fill="#99266C"/>
<circle cx="1200.1" cy="811.3" r="9.3" fill="#E15A35"/>
<circle cx="1002.2" cy="891.9" r="9.3" fill="#7A1C74"/>
<circle cx="992.6" cy="942" r="9.3" fill="#91236F"/>
<circle cx="1143" cy="833.2" r="9.3" fill="#A42A66"/>
<circle cx="983.4" cy="908.7" r="9.3" fill="#7F1E73"/>
<circle cx="1111.4" cy="835.3" r="9.3" fill="#9E2769"/>
<circle cx="982" cy="895.8" r="9.3" fill="#761B75"/>
<circle cx="989.6" cy="917.1" r="9.3" fill="#91236F"/>
<circle cx="1219.6" cy="789.9" r="9.3" fill="#9A266B"/>
<circle cx="1154.5" cy="847.3" r="9.3" fill="#93236F"/>
<circle cx="1135.4" cy="831" r="9.3" fill="#A82C64"/>
<circle cx="1110.8" cy="816.6" r="9.3" fill="#8F226F"/>
<circle cx="1223" cy="745.2" r="9.3" fill="#9D276A"/>
<circle cx="1094.1" cy="795.4" r="9.3" fill="#BF3754"/>
<circle cx="1039.9" cy="805.4" r="9.3" fill="#97256D"/>
<circle cx="1027.7" cy="795.9" r="9.3" fill="#A62B65"/>
<circle cx="1188.8" cy="788.4" r="9.3" fill="#9A266C"/>
<circle cx="1126.8" cy="837.4" r="9.3" fill="#95246E"/>
<circle cx="1022.6" cy="895.9" r="9.3" fill="#A12968"/>
<circle cx="993.3" cy="931" r="9.3" fill="#95246E"/>
<circle cx="1151.9" cy="834.3" r="9.3" fill="#B6315C"/>
<circle cx="1160.1" cy="751.2" r="9.3" fill="#882071"/>
<circle cx="990" cy="935.4" r="9.3" fill="#882071"/>
<circle cx="1021.9" cy="854.2" r="9.3" fill="#801E73"/>
<circle cx="1010.6" cy="910.2" r="9.3" fill="#8A2171"/>
<circle cx="1022.2" cy="847.3" r="9.3" fill="#801E73"/>
<circle cx="1112.1" cy="808" r="9.3" fill="#92236F"/>
<circle cx="1003.5" cy="877.2" r="9.3" fill="#66177C"/>
<circle cx="1009.9" cy="942.8" r="9.3" fill="#872071"/>
<circle cx="1126.6" cy="874.6" r="9.3" fill="#F4801D"/>
<circle cx="1166" cy="762.3" r="9.3" fill="#851F72"/>
<circle cx="1042" cy="838.5" r="9.3" fill="#851F72"/>
<circle cx="984.6" cy="874.9" r="9.3" fill="#6D1978"/>
<circle cx="1220.3" cy="750.2" r="9.3" fill="#94246E"/>
<circle cx="1116.1" cy="839.2" r="9.3" fill="#97256D"/>
<circle cx="966.4" cy="883.8" r="9.3" fill="#5F1580"/>
<circle cx="1201.1" cy="754.4" r="9.3" fill="#98256D"/>
<circle cx="1167.9" cy="830.7" r="9.3" fill="#A72B64"/>
<circle cx="989.1" cy="927.6" r="9.3" fill="#93236E"/>
<circle cx="1053.9" cy="897" r="9.3" fill="#AB2D62"/>
<circle cx="1207.9" cy="806.6" r="9.3" fill="#C23952"/>
<circle cx="1033.9" cy="817.4" r="9.3" fill="#8F226F"/>
<circle cx="989.2" cy="895.9" r="9.3" fill="#5F1580"/>
<circle cx="1034.6" cy="806.6" r="9.3" fill="#64167D"/>
<circle cx="1037.6" cy="884.8" r="9.3" fill="#AA2D62"/>
<circle cx="1092.9" cy="819.2" r="9.3" fill="#A02868"/>
<circle cx="1098" cy="894" r="9.3" fill="#95246E"/>
<circle cx="1166.5" cy="857.6" r="9.3" fill="#B4315C"/>
<circle cx="1131.2" cy="837.3" r="9.3" fill="#97256D"/>
<circle cx="1133.8" cy="894.4" r="9.3" fill="#711A76"/>
<circle cx="1061.5" cy="833.3" r="9.3" fill="#9B266B"/>
<circle cx="1109.9" cy="852" r="9.3" fill="#A92C63"/>
<circle cx="1198.6" cy="760.7" r="9.3" fill="#91236F"/>
<circle cx="1173.7" cy="842.1" r="9.3" fill="#A82B64"/>
<circle cx="1160.9" cy="871.2" r="9.3" fill="#C43B50"/>
<circle cx="1054.2" cy="707.8" r="9.3" fill="#A32967"/>
<circle cx="1146.4" cy="886.3" r="9.3" fill="#DB533A"/>
<circle cx="1075.1" cy="775.7" r="9.3" fill="#B2305E"/>
<circle cx="1106.3" cy="810" r="9.3" fill="#B93459"/>
<circle cx="1049.7" cy="845.5" r="9.3" fill="#98256D"/>
<circle cx="1024.4" cy="864.3" r="9.3" fill="#6C1978"/>
<circle cx="1096.9" cy="764.3" r="9.3" fill="#9E2769"/>
<circle cx="1112.2" cy="830.1" r="9.3" fill="#9E2869"/>
<circle cx="1071.5" cy="805.1" r="9.3" fill="#801E73"/>
<circle cx="1098.3" cy="869.9" r="9.3" fill="#D44A42"/>
<circle cx="1055.4" cy="798.7" r="9.3" fill="#90226F"/>
<circle cx="1156.1" cy="823.1" r="9.3" fill="#831F72"/>
<circle cx="1158.7" cy="787.7" r="9.3" fill="#A22967"/>
<circle cx="1151.5" cy="841.1" r="9.3" fill="#A92C63"/>
<circle cx="1195.2" cy="785.1" r="9.3" fill="#98256C"/>
<circle cx="1097.9" cy="778.5" r="9.3" fill="#A02868"/>
<circle cx="1174.2" cy="761.9" r="9.3" fill="#90236F"/>
<circle cx="1114.1" cy="868.2" r="9.3" fill="#AA2C62"/>
<circle cx="1032.1" cy="846.9" r="9.3" fill="#67177B"/>
<circle cx="1105.6" cy="737.6" r="9.3" fill="#98256D"/>
<circle cx="1060.9" cy="761.6" r="9.3" fill="#98256C"/>
<circle cx="1101.3" cy="745.5" r="9.3" fill="#781C74"/>
<circle cx="1073" cy="825.2" r="9.3" fill="#AE2E60"/>
<circle cx="1215.5" cy="765.4" r="9.3" fill="#98256C"/>
<circle cx="1046.5" cy="772.9" r="9.3" fill="#711A76"/>
<circle cx="1155.2" cy="817" r="9.3" fill="#9B266B"/>
<circle cx="1006.8" cy="915.3" r="9.3" fill="#761C75"/>
<circle cx="1104.7" cy="783.2" r="9.3" fill="#A02868"/>
<circle cx="1145.3" cy="905.1" r="9.3" fill="#761C75"/>
<circle cx="1010.7" cy="885.7" r="9.3" fill="#7A1C74"/>
<circle cx="1032.2" cy="743.8" r="9.3" fill="#882071"/>
<circle cx="1054.2" cy="718" r="9.3" fill="#96256D"/>
<circle cx="1173.5" cy="862.9" r="9.3" fill="#A72B64"/>
<circle cx="1175.8" cy="847.2" r="9.3" fill="#91236F"/>
<circle cx="1146.9" cy="876.9" r="9.3" fill="#ED6C27"/>
<circle cx="1061.6" cy="835.7" r="9.3" fill="#9C276A"/>
<circle cx="1139.2" cy="892.6" r="9.3" fill="#9F2869"/>
<circle cx="1061.1" cy="783.3" r="9.3" fill="#C63D4E"/>
<circle cx="1088.4" cy="756.3" r="9.3" fill="#9D276A"/>
<circle cx="1087.9" cy="806.6" r="9.3" fill="#92236F"/>
<circle cx="999.6" cy="877.1" r="9.3" fill="#721B76"/>
<circle cx="1077.3" cy="834.6" r="9.3" fill="#C83F4C"/>
<circle cx="1170" cy="803.5" r="9.3" fill="#9C276A"/>
<circle cx="1125.8" cy="791.7" r="9.3" fill="#AD2E61"/>
<circle cx="1158.9" cy="859.4" r="9.3" fill="#A02868"/>
<circle cx="1076.9" cy="839.5" r="9.3" fill="#C63D4E"/>
<circle cx="992.3" cy="892.5" r="9.3" fill="#6E1977"/>
<circle cx="1217.7" cy="753.2" r="9.3" fill="#8A2171"/>
<circle cx="1162.8" cy="839.8" r="9.3" fill="#A12968"/>
<circle cx="1120.3" cy="793.4" r="9.3" fill="#A32A66"/>
<circle cx="1197.9" cy="708.8" r="9.3" fill="#8F226F"/>
<circle cx="1223.5" cy="756.3" r="9.3" fill="#9C276A"/>
<circle cx="1003.2" cy="974.8" r="9.3" fill="#9B266B"/>
<circle cx="1065.4" cy="828.7" r="9.3" fill="#9D276A"/>
<circle cx="1132.9" cy="874.3" r="9.3" fill="#F6851C"/>
<circle cx="1098.5" cy="758.7" r="9.3" fill="#A42A66"/>
<circle cx="1064.8" cy="790.1" r="9.3" fill="#B02F5F"/>
<circle cx="1043.7" cy="869" r="9.3" fill="#A42A66"/>
<circle cx="1095.4" cy="895.5" r="9.3" fill="#882071"/>
<circle cx="1214.9" cy="834.7" r="9.3" fill="#96246E"/>
<circle cx="1053" cy="836.6" r="9.3" fill="#AC2D61"/>
<circle cx="987.2" cy="873.8" r="9.3" fill="#711A76"/>
<circle cx="1018.3" cy="904.8" r="9.3" fill="#92236F"/>
<circle cx="1142.9" cy="905.9" r="9.3" fill="#8E2270"/>
<circle cx="1057.9" cy="734.4" r="9.3" fill="#91236F"/>
<circle cx="1156.6" cy="789.1" r="9.3" fill="#A62B65"/>
<circle cx="975.2" cy="869.6" r="9.3" fill="#6D1978"/>
<circle cx="1087.6" cy="877.5" r="9.3" fill="#9A266C"/>
<circle cx="1070.4" cy="799.2" r="9.3" fill="#872071"/>
<circle cx="1050.4" cy="825.3" r="9.3" fill="#90236F"/>
<circle cx="1053.2" cy="855.2" r="9.3" fill="#B6325B"/>
<circle cx="1220" cy="794.6" r="9.3" fill="#9E2869"/>
<circle cx="1210.9" cy="753" r="9.3" fill="#A52A65"/>
<circle cx="1020" cy="863.5" r="9.3" fill="#7A1C74"/>
<circle cx="1059.3" cy="808.3" r="9.3" fill="#7B1D74"/>
<circle cx="1197.4" cy="740.7" r="9.3" fill="#862071"/>
<circle cx="1123.7" cy="833.1" r="9.3" fill="#98256C"/>
<circle cx="981.6" cy="881.1" r="9.3" fill="#6F1A76"/>
<circle cx="1196.4" cy="774.9" r="9.3" fill="#96256D"/>
<circle cx="1000.2" cy="919.7" r="9.3" fill="#96246E"/>
<circle cx="1193.1" cy="816.5" r="9.3" fill="#EB662A"/>
<circle cx="1106.3" cy="772.5" r="9.3" fill="#B93458"/>
<circle cx="1195.6" cy="827.7" r="9.3" fill="#F88E1A"/>
<circle cx="1052" cy="811" r="9.3" fill="#721A76"/>
<circle cx="1068.8" cy="865.7" r="9.3" fill="#8B2170"/>
<circle cx="1103.6" cy="763.7" r="9.3" fill="#A02968"/>
<circle cx="1106.1" cy="838.5" r="9.3" fill="#9C276A"/>
<circle cx="1098.3" cy="826.7" r="9.3" fill="#A22967"/>
<circle cx="987.5" cy="919.4" r="9.3" fill="#801E73"/>
<circle cx="1115.3" cy="813.8" r="9.3" fill="#A52A66"/>
<circle cx="1174.3" cy="839.5" r="9.3" fill="#AD2E61"/>
<circle cx="1016.4" cy="856" r="9.3" fill="#6F1A77"/>
<circle cx="1025" cy="894.7" r="9.3" fill="#831F72"/>
<circle cx="1054.3" cy="687.5" r="9.3" fill="#8F2270"/>
<circle cx="1148.9" cy="843.3" r="9.3" fill="#9E2869"/>
<circle cx="980.5" cy="869.2" r="9.3" fill="#771C75"/>
<circle cx="1126.6" cy="868.8" r="9.3" fill="#D24844"/>
<circle cx="981.3" cy="866.6" r="9.3" fill="#741B75"/>
<circle cx="1130.1" cy="802.6" r="9.3" fill="#9D276A"/>
<circle cx="1052.6" cy="865.9" r="9.3" fill="#B8335A"/>
<circle cx="1131.6" cy="870.3" r="9.3" fill="#F6851C"/>
<circle cx="1040.7" cy="897" r="9.3" fill="#A22967"/>
<circle cx="1200.1" cy="831.6" r="9.3" fill="#D04645"/>
<circle cx="1068.1" cy="752.8" r="9.3" fill="#831F72"/>
<circle cx="1175.4" cy="785.9" r="9.3" fill="#A42A66"/>
<circle cx="1076.9" cy="866.3" r="9.3" fill="#862072"/>
<circle cx="1002" cy="953.7" r="9.3" fill="#8E2270"/>
<circle cx="1063.5" cy="748.6" r="9.3" fill="#95246E"/>
<circle cx="1016" cy="913.4" r="9.3" fill="#8E2270"/>
<circle cx="1053.2" cy="881.8" r="9.3" fill="#B4315C"/>
<circle cx="1082.8" cy="847.2" r="9.3" fill="#A62B65"/>
<circle cx="1090.8" cy="764.2" r="9.3" fill="#A12968"/>
<circle cx="1135.3" cy="806.3" r="9.3" fill="#7C1D74"/>
<circle cx="1215.6" cy="795.8" r="9.3" fill="#A92C63"/>
<circle cx="1029.1" cy="894.5" r="9.3" fill="#A02868"/>
<circle cx="1081.7" cy="825.4" r="9.3" fill="#BA3458"/>
<circle cx="1130.3" cy="823.1" r="9.3" fill="#9E2869"/>
<circle cx="1177.1" cy="831.8" r="9.3" fill="#F47D1E"/>
<circle cx="1078.3" cy="850.7" r="9.3" fill="#C43B50"/>
<circle cx="1077.7" cy="855.7" r="9.3" fill="#B02F5F"/>
<circle cx="1196.3" cy="803.6" r="9.3" fill="#CE4547"/>
<circle cx="1046.5" cy="756.4" r="9.3" fill="#8D2270"/>
<circle cx="1166.7" cy="749.9" r="9.3" fill="#6C1978"/>
<circle cx="1138.3" cy="822.9" r="9.3" fill="#98256C"/>
<circle cx="1196.2" cy="823.3" r="9.3" fill="#D14844"/>
<circle cx="1101.8" cy="817.2" r="9.3" fill="#A32A67"/>
<circle cx="1221.5" cy="761.9" r="9.3" fill="#93236E"/>
<circle cx="1043.4" cy="885.6" r="9.3" fill="#AA2D62"/>
<circle cx="1013.4" cy="876.7" r="9.3" fill="#701A76"/>
<circle cx="1204.5" cy="788.1" r="9.3" fill="#9E2869"/>
<circle cx="1101.2" cy="837.5" r="9.3" fill="#A12967"/>
<circle cx="1176.3" cy="816.6" r="9.3" fill="#F6881B"/>
<circle cx="1164.5" cy="786.6" r="9.3" fill="#AA2C63"/>
<circle cx="1068.8" cy="882.2" r="9.3" fill="#97256D"/>
<circle cx="1076.8" cy="858.7" r="9.3" fill="#9C276A"/>
<circle cx="1212.6" cy="742.2" r="9.3" fill="#8E2270"/>
<circle cx="1178" cy="758.5" r="9.3" fill="#831F72"/>
<circle cx="1210" cy="789.6" r="9.3" fill="#A52A66"/>
<circle cx="1092.5" cy="859.6" r="9.3" fill="#D44A42"/>
<circle cx="1136.5" cy="843" r="9.3" fill="#90236F"/>
<circle cx="1107" cy="872.6" r="9.3" fill="#94246E"/>
<circle cx="1060.5" cy="854.6" r="9.3" fill="#A72B64"/>
<circle cx="1036.6" cy="764.8" r="9.3" fill="#851F72"/>
<circle cx="1100.7" cy="795.6" r="9.3" fill="#AA2D62"/>
<circle cx="1162.9" cy="843.3" r="9.3" fill="#A32967"/>
<circle cx="1041" cy="872.3" r="9.3" fill="#A52B65"/>
<circle cx="1043.9" cy="753.9" r="9.3" fill="#90236F"/>
<circle cx="1155.7" cy="756.9" r="9.3" fill="#7F1E73"/>
<circle cx="1067" cy="855" r="9.3" fill="#CA404B"/>
<circle cx="1109" cy="842.4" r="9.3" fill="#95246E"/>
<circle cx="1009.5" cy="876.7" r="9.3" fill="#821F72"/>
<circle cx="1080.1" cy="762.3" r="9.3" fill="#A32967"/>
<circle cx="1055.7" cy="781" r="9.3" fill="#B83359"/>
<circle cx="1155.5" cy="781.6" r="9.3" fill="#A52A66"/>
<circle cx="1079.8" cy="872.8" r="9.3" fill="#761B75"/>
<circle cx="1110.1" cy="779.4" r="9.3" fill="#A22967"/>
<circle cx="1062.6" cy="799.3" r="9.3" fill="#A72B64"/>
<circle cx="1062.2" cy="810.8" r="9.3" fill="#872071"/>
<circle cx="1010.5" cy="866.1" r="9.3" fill="#69187A"/>
<circle cx="1003.1" cy="936.7" r="9.3" fill="#7B1D74"/>
<circle cx="1165.2" cy="814.1" r="9.3" fill="#AA2C62"/>
<circle cx="1070.4" cy="743.8" r="9.3" fill="#92236F"/>
<circle cx="1080.8" cy="803.5" r="9.3" fill="#9C276A"/>
<circle cx="1148.1" cy="838.7" r="9.3" fill="#A92C63"/>
<circle cx="1054.1" cy="728.2" r="9.3" fill="#9D276A"/>
<circle cx="1163.5" cy="833.7" r="9.3" fill="#96246D"/>
<circle cx="1114.7" cy="866" r="9.3" fill="#AA2C63"/>
<circle cx="1046.8" cy="874.5" r="9.3" fill="#B8335A"/>
<circle cx="995.3" cy="955.7" r="9.3" fill="#862072"/>
<circle cx="1025.1" cy="871.5" r="9.3" fill="#7F1E73"/>
<circle cx="1082.4" cy="819" r="9.3" fill="#BC3656"/>
<circle cx="1122.1" cy="769.6" r="9.3" fill="#A22967"/>
<circle cx="1027.1" cy="842.3" r="9.3" fill="#821E72"/>
<circle cx="1003" cy="928.8" r="9.3" fill="#882071"/>
<circle cx="1043" cy="742.2" r="9.3" fill="#811E73"/>
<circle cx="1071.6" cy="773.7" r="9.3" fill="#B6325B"/>
<circle cx="1040.6" cy="847.1" r="9.3" fill="#741B75"/>
<circle cx="1009.3" cy="881.6" r="9.3" fill="#761C75"/>
<circle cx="1086.4" cy="841.6" r="9.3" fill="#B12F5F"/>
<circle cx="1118.3" cy="825.8" r="9.3" fill="#93246E"/>
<circle cx="1054.4" cy="667.2" r="9.3" fill="#862071"/>
<circle cx="1002.7" cy="949.6" r="9.3" fill="#892071"/>
<circle cx="1158.5" cy="773.6" r="9.3" fill="#801E73"/>
<circle cx="1189.3" cy="756.3" r="9.3" fill="#8C2170"/>
<circle cx="1008.3" cy="894.7" r="9.3" fill="#831F72"/>
<circle cx="1209.4" cy="828.5" r="9.3" fill="#94246E"/>
<circle cx="991" cy="943.2" r="9.3" fill="#9C276A"/>
<circle cx="1012.5" cy="966.7" r="9.3" fill="#7F1E73"/>
<circle cx="1036.1" cy="733.3" r="9.3" fill="#9F2869"/>
<circle cx="1156.6" cy="858.5" r="9.3" fill="#9D276A"/>
<circle cx="1091.8" cy="814.1" r="9.3" fill="#9F2869"/>
<circle cx="1094" cy="796.8" r="9.3" fill="#A42A66"/>
<circle cx="1134.2" cy="887.5" r="9.3" fill="#AC2D61"/>
<circle cx="1206.3" cy="782.9" r="9.3" fill="#9C276B"/>
<circle cx="1148.4" cy="864" r="9.3" fill="#AE2E60"/>
<circle cx="1162.9" cy="754.8" r="9.3" fill="#7B1D74"/>
<circle cx="977.3" cy="889.7" r="9.3" fill="#69187A"/>
<circle cx="973.2" cy="879.2" r="9.3" fill="#69187A"/>
<circle cx="1136.5" cy="874.6" r="9.3" fill="#E25B34"/>
<circle cx="1106.9" cy="865.3" r="9.3" fill="#A22967"/>
<circle cx="1143.4" cy="913" r="9.3" fill="#A22967"/>
<circle cx="1102.1" cy="756.4" r="9.3" fill="#AA2C63"/>
<circle cx="1026.6" cy="910.4" r="9.3" fill="#92236F"/>
<circle cx="1051.2" cy="773.1" r="9.3" fill="#801E73"/>
<circle cx="1215.7" cy="801.9" r="9.3" fill="#AE2E60"/>
<circle cx="1115.6" cy="795" r="9.3" fill="#AA2C62"/>
<circle cx="1162.5" cy="880.1" r="9.3" fill="#C43B50"/>
<circle cx="1065.4" cy="844.1" r="9.3" fill="#CA414B"/>
<circle cx="1012.8" cy="924.9" r="9.3" fill="#90226F"/>
<circle cx="1085" cy="863.3" r="9.3" fill="#B12F5E"/>
<circle cx="1087.5" cy="771.7" r="9.3" fill="#B3305D"/>
<circle cx="1054.3" cy="878.6" r="9.3" fill="#B2305E"/>
<circle cx="1107" cy="758.8" r="9.3" fill="#93236F"/>
<circle cx="1029.1" cy="836.4" r="9.3" fill="#851F72"/>
<circle cx="1142.4" cy="850.4" r="9.3" fill="#811E73"/>
<circle cx="1021.9" cy="905.9" r="9.3" fill="#90226F"/>
<circle cx="1114.7" cy="755.3" r="9.3" fill="#7B1D74"/>
<circle cx="1110.5" cy="861" r="9.3" fill="#A32A67"/>
<circle cx="1027.2" cy="817.4" r="9.3" fill="#701A76"/>
<circle cx="1050.8" cy="813.3" r="9.3" fill="#97256D"/>
<circle cx="1032" cy="788.1" r="9.3" fill="#9B266B"/>
<circle cx="1055.8" cy="691.7" r="9.3" fill="#862072"/>
<circle cx="1021.8" cy="889.6" r="9.3" fill="#7F1E73"/>
<circle cx="1096.6" cy="820" r="9.3" fill="#8C2170"/>
<circle cx="1173.2" cy="818.7" r="9.3" fill="#F37C1E"/>
<circle cx="1103.9" cy="803" r="9.3" fill="#B2305E"/>
<circle cx="1178.1" cy="781.1" r="9.3" fill="#AE2E60"/>
<circle cx="1021.9" cy="915.1" r="9.3" fill="#8C2170"/>
<circle cx="1168.6" cy="781.8" r="9.3" fill="#95246E"/>
<circle cx="1056.3" cy="901" r="9.3" fill="#A42A66"/>
<circle cx="1048.6" cy="735.2" r="9.3" fill="#9D276A"/>
<circle cx="1024.8" cy="884" r="9.3" fill="#751B75"/>
<circle cx="1042.3" cy="790.1" r="9.3" fill="#99266C"/>
<circle cx="1123.5" cy="867.6" r="9.3" fill="#B83359"/>
<circle cx="1163.9" cy="811.6" r="9.3" fill="#97256D"/>
<circle cx="1061" cy="866.5" r="9.3" fill="#9F2869"/>
<circle cx="1043.9" cy="833.1" r="9.3" fill="#93246E"/>
<circle cx="1038.6" cy="860.1" r="9.3" fill="#98256C"/>
<circle cx="1185.1" cy="765.1" r="9.3" fill="#91236F"/>
<circle cx="1117.3" cy="820.1" r="9.3" fill="#94246E"/>
<circle cx="1007.5" cy="952.7" r="9.3" fill="#851F72"/>
<circle cx="1197.9" cy="750.2" r="9.3" fill="#862072"/>
<circle cx="1072.8" cy="849.4" r="9.3" fill="#B93459"/>
<circle cx="967.2" cy="877.5" r="9.3" fill="#741B75"/>
<circle cx="1164" cy="825.5" r="9.3" fill="#B02F5F"/>
<circle cx="1130.3" cy="848.8" r="9.3" fill="#892071"/>
<circle cx="1034.8" cy="844.8" r="9.3" fill="#5F1580"/>
<circle cx="1091.5" cy="830.2" r="9.3" fill="#C53C4F"/>
<circle cx="1113.7" cy="848.8" r="9.3" fill="#99266C"/>
<circle cx="979.7" cy="911.9" r="9.3" fill="#7D1D73"/>
<circle cx="1061.1" cy="744" r="9.3" fill="#851F72"/>
<circle cx="1051.8" cy="832.4" r="9.3" fill="#8D2270"/>
<circle cx="1217.8" cy="743.7" r="9.3" fill="#95246E"/>
<circle cx="1027.6" cy="888.8" r="9.3" fill="#99266C"/>
<circle cx="1174.6" cy="811.6" r="9.3" fill="#F9951B"/>
<circle cx="1088.9" cy="822.4" r="9.3" fill="#B8335A"/>
<circle cx="1031.5" cy="831.8" r="9.3" fill="#8F226F"/>
<circle cx="1096" cy="864.2" r="9.3" fill="#F17720"/>
<circle cx="1079" cy="870.9" r="9.3" fill="#8F226F"/>
<circle cx="1159.6" cy="765.2" r="9.3" fill="#7A1D74"/>
<circle cx="1051.9" cy="746" r="9.3" fill="#99266C"/>
<circle cx="1201.7" cy="804.6" r="9.3" fill="#CD4348"/>
<circle cx="1175.2" cy="797.4" r="9.3" fill="#A62B65"/>
<circle cx="1097.4" cy="885.5" r="9.3" fill="#97256D"/>
<circle cx="1048.7" cy="759.9" r="9.3" fill="#801E73"/>
<circle cx="1096.7" cy="759.7" r="9.3" fill="#9A266C"/>
<circle cx="1153.8" cy="864.3" r="9.3" fill="#BE3755"/>
<circle cx="1019.3" cy="878" r="9.3" fill="#7A1D74"/>
<circle cx="1200.8" cy="734.4" r="9.3" fill="#9A266B"/>
<circle cx="1046.5" cy="777.3" r="9.3" fill="#8F226F"/>
<circle cx="1058.8" cy="771" r="9.3" fill="#872071"/>
<circle cx="1050.4" cy="794.5" r="9.3" fill="#8A2171"/>
<circle cx="1192.5" cy="752.1" r="9.3" fill="#A02868"/>
<circle cx="1021.9" cy="822.8" r="9.3" fill="#94246E"/>
<circle cx="1205.1" cy="791.4" r="9.3" fill="#AF2E60"/>
<circle cx="1144.9" cy="882.9" r="9.3" fill="#D14744"/>
<circle cx="1028.7" cy="785.5" r="9.3" fill="#9A266B"/>
<circle cx="1107.6" cy="834.5" r="9.3" fill="#AC2D61"/>
<circle cx="1146.4" cy="828" r="9.3" fill="#A02868"/>
<circle cx="1009" cy="853.3" r="9.3" fill="#821E72"/>
<circle cx="1157.8" cy="844.4" r="9.3" fill="#A42A66"/>
<circle cx="1074.6" cy="749.5" r="9.3" fill="#862071"/>
<circle cx="1033.3" cy="826.9" r="9.3" fill="#8C2170"/>
<circle cx="1104.4" cy="852.1" r="9.3" fill="#9A266B"/>
<circle cx="991.3" cy="926.6" r="9.3" fill="#7F1E73"/>
<circle cx="1062.9" cy="805.6" r="9.3" fill="#7A1C74"/>
<circle cx="1093.4" cy="806.5" r="9.3" fill="#B6325B"/>
<circle cx="994.1" cy="912.3" r="9.3" fill="#821E72"/>
<circle cx="1001.6" cy="868.5" r="9.3" fill="#66177C"/>
<circle cx="1118.1" cy="787.8" r="9.3" fill="#A62B65"/>
<circle cx="1096.7" cy="783.7" r="9.3" fill="#B3305D"/>
<circle cx="1061.6" cy="792.1" r="9.3" fill="#B6325B"/>
<circle cx="1097" cy="902.6" r="9.3" fill="#7A1C74"/>
<circle cx="1190.5" cy="827.9" r="9.3" fill="#D74D3F"/>
<circle cx="1171.5" cy="783.1" r="9.3" fill="#95246E"/>
<circle cx="1095.4" cy="849.8" r="9.3" fill="#B93359"/>
<circle cx="970.3" cy="902.6" r="9.3" fill="#741B75"/>
<circle cx="1043.1" cy="748.4" r="9.3" fill="#892171"/>
<circle cx="1088.3" cy="827.6" r="9.3" fill="#BF3854"/>
<circle cx="1056.8" cy="719.8" r="9.3" fill="#94246E"/>
<circle cx="1060.5" cy="894.7" r="9.3" fill="#AE2E60"/>
<circle cx="1096.7" cy="852.5" r="9.3" fill="#B7325B"/>
<circle cx="1100.8" cy="748.3" r="9.3" fill="#7F1E73"/>
<circle cx="1105.2" cy="786.9" r="9.3" fill="#9E2869"/>
<circle cx="1206.7" cy="738.3" r="9.3" fill="#8D2270"/>
<circle cx="1131.8" cy="830.7" r="9.3" fill="#A52B65"/>
<circle cx="1148.1" cy="849.5" r="9.3" fill="#851F72"/>
<circle cx="1128.6" cy="854.2" r="9.3" fill="#8E2270"/>
<circle cx="1146.1" cy="912.1" r="9.3" fill="#7E1D73"/>
<circle cx="1066" cy="821.6" r="9.3" fill="#8F226F"/>
<circle cx="1191.2" cy="746.5" r="9.3" fill="#9A266B"/>
<circle cx="1071.8" cy="760.1" r="9.3" fill="#882071"/>
<circle cx="1179.2" cy="755.4" r="9.3" fill="#821E72"/>
<circle cx="1027.6" cy="871.9" r="9.3" fill="#6F1A76"/>
<circle cx="1092.6" cy="756" r="9.3" fill="#98256C"/>
<circle cx="1110.5" cy="749.5" r="9.3" fill="#8C2170"/>
<circle cx="1119.9" cy="832.2" r="9.3" fill="#9C276A"/>
<circle cx="1120.1" cy="855.7" r="9.3" fill="#95246E"/>
<circle cx="1123.3" cy="825.2" r="9.3" fill="#A12968"/>
<circle cx="1101.5" cy="842.5" r="9.3" fill="#8A2171"/>
<circle cx="1092.7" cy="827.7" r="9.3" fill="#A52B65"/>
<circle cx="1182.3" cy="745.2" r="9.3" fill="#821F72"/>
<circle cx="1178.9" cy="837" r="9.3" fill="#D44A42"/>
<circle cx="1018.8" cy="830.6" r="9.3" fill="#7E1D73"/>
<circle cx="1091.3" cy="843.6" r="9.3" fill="#A42A66"/>
<circle cx="1057.4" cy="859.9" r="9.3" fill="#A42A66"/>
<circle cx="1139.5" cy="844.9" r="9.3" fill="#851F72"/>
<circle cx="1109.8" cy="788.3" r="9.3" fill="#AF2E60"/>
<circle cx="1210.8" cy="789.6" r="9.3" fill="#9F2869"/>
<circle cx="999.9" cy="923.3" r="9.3" fill="#811E73"/>
<circle cx="1106.2" cy="860.8" r="9.3" fill="#BC3657"/>
<circle cx="1159.6" cy="852.7" r="9.3" fill="#A22967"/>
<circle cx="1029.7" cy="775.1" r="9.3" fill="#94246E"/>
<circle cx="1085.9" cy="861.5" r="9.3" fill="#BC3656"/>
<circle cx="1015.5" cy="900.2" r="9.3" fill="#8A2171"/>
<circle cx="1122.4" cy="846.8" r="9.3" fill="#96246E"/>
<circle cx="1137.2" cy="871.5" r="9.3" fill="#C73E4D"/>
<circle cx="989.5" cy="902.9" r="9.3" fill="#741B75"/>
<circle cx="1157.9" cy="863.6" r="9.3" fill="#AC2D61"/>
<circle cx="1136.3" cy="898.1" r="9.3" fill="#721A76"/>
<circle cx="1102.4" cy="721.9" r="9.3" fill="#69187A"/>
<circle cx="1179.6" cy="822.2" r="9.3" fill="#F4801D"/>
<circle cx="1106.2" cy="826.7" r="9.3" fill="#9E2869"/>
<circle cx="1119.9" cy="816.9" r="9.3" fill="#8C2170"/>
<circle cx="1203.1" cy="742.9" r="9.3" fill="#90226F"/>
<circle cx="986.3" cy="880.1" r="9.3" fill="#64167D"/>
<circle cx="1091.6" cy="777.6" r="9.3" fill="#A02968"/>
<circle cx="1067.9" cy="855.6" r="9.3" fill="#C23A51"/>
<circle cx="1112.9" cy="783.2" r="9.3" fill="#A02868"/>
<circle cx="1186.5" cy="769.9" r="9.3" fill="#98256C"/>
<circle cx="1115.6" cy="822" r="9.3" fill="#9E2869"/>
<circle cx="1013.6" cy="904.8" r="9.3" fill="#91236F"/>
<circle cx="1035.7" cy="873.1" r="9.3" fill="#91236F"/>
<circle cx="1024.9" cy="900" r="9.3" fill="#A12967"/>
<circle cx="1150" cy="859.4" r="9.3" fill="#97256D"/>
<circle cx="1164.9" cy="847.8" r="9.3" fill="#AB2D62"/>
<circle cx="1088.7" cy="830.2" r="9.3" fill="#C23A51"/>
<circle cx="1091.8" cy="848.8" r="9.3" fill="#A12967"/>
<circle cx="1013.4" cy="847.5" r="9.3" fill="#8C2170"/>
<circle cx="1045.8" cy="887.4" r="9.3" fill="#AB2D62"/>
<circle cx="975.8" cy="865" r="9.3" fill="#63167E"/>
<circle cx="1100" cy="876.9" r="9.3" fill="#B02F5F"/>
<circle cx="1079.7" cy="826.6" r="9.3" fill="#CF4646"/>
<circle cx="1044.4" cy="854.2" r="9.3" fill="#B4315D"/>
<circle cx="1055" cy="674.2" r="9.3" fill="#95246E"/>
<circle cx="1101.9" cy="781.6" r="9.3" fill="#A52B65"/>
<circle cx="1085.7" cy="777.3" r="9.3" fill="#AA2D62"/>
<circle cx="1091.1" cy="872" r="9.3" fill="#C53C4F"/>
<circle cx="1157.7" cy="807.1" r="9.3" fill="#9C276A"/>
<circle cx="1177.6" cy="826.1" r="9.3" fill="#F8921A"/>
<circle cx="1029.7" cy="898.3" r="9.3" fill="#AE2E60"/>
<circle cx="1027.3" cy="878.3" r="9.3" fill="#761B75"/>
<circle cx="998.5" cy="971.3" r="9.3" fill="#7F1E73"/>
<circle cx="1141.1" cy="865.5" r="9.3" fill="#A92C63"/>
<circle cx="1065" cy="858.7" r="9.3" fill="#BA3458"/>
<circle cx="1117.4" cy="797.8" r="9.3" fill="#9A266B"/>
<circle cx="1039.7" cy="890.6" r="9.3" fill="#AB2D62"/>
<circle cx="1219.6" cy="797.9" r="9.3" fill="#BA3458"/>
<circle cx="1032.2" cy="735.6" r="9.3" fill="#861F72"/>
<circle cx="1003.1" cy="963.5" r="9.3" fill="#741B75"/>
<circle cx="1001.7" cy="899" r="9.3" fill="#841F72"/>
<circle cx="1192.2" cy="794.2" r="9.3" fill="#DB523B"/>
<circle cx="1009.2" cy="861.1" r="9.3" fill="#6D1978"/>
<circle cx="1014.9" cy="908.1" r="9.3" fill="#92236F"/>
<circle cx="1089.7" cy="811.6" r="9.3" fill="#A72B64"/>
<circle cx="1220.4" cy="841" r="9.3" fill="#A52A65"/>
<circle cx="1195.1" cy="801.2" r="9.3" fill="#C43B50"/>
<circle cx="1030.8" cy="880.7" r="9.3" fill="#8D2270"/>
<circle cx="1113.6" cy="856" r="9.3" fill="#9A266B"/>
<circle cx="1009.1" cy="947.6" r="9.3" fill="#851F72"/>
<circle cx="1068.5" cy="795.3" r="9.3" fill="#9E2769"/>
<circle cx="990.8" cy="879.7" r="9.3" fill="#5F1580"/>
<circle cx="1068.8" cy="749.2" r="9.3" fill="#8D2270"/>
<circle cx="968" cy="896.3" r="9.3" fill="#761C75"/>
<circle cx="1118.9" cy="761" r="9.3" fill="#6F1A76"/>
<circle cx="1054.9" cy="775.5" r="9.3" fill="#90226F"/>
<circle cx="1055" cy="740.8" r="9.3" fill="#99256C"/>
<circle cx="1061.7" cy="871.3" r="9.3" fill="#8C2170"/>
<circle cx="1192.8" cy="761.9" r="9.3" fill="#91236F"/>
<circle cx="1130.4" cy="844.6" r="9.3" fill="#91236F"/>
<circle cx="1115.8" cy="769.2" r="9.3" fill="#9D276A"/>
<circle cx="1042.4" cy="746.3" r="9.3" fill="#91236F"/>
<circle cx="1170.7" cy="756.9" r="9.3" fill="#862072"/>
<circle cx="1188.2" cy="782.8" r="9.3" fill="#9D276A"/>
<circle cx="1188.6" cy="749" r="9.3" fill="#851F72"/>
<circle cx="1111.9" cy="778.1" r="9.3" fill="#A22967"/>
<circle cx="1136.3" cy="852.8" r="9.3" fill="#791C74"/>
<circle cx="1026.6" cy="806.3" r="9.3" fill="#8E2270"/>
<circle cx="1167.4" cy="842.9" r="9.3" fill="#A52A66"/>
<circle cx="1054.4" cy="677.4" r="9.3" fill="#8A2171"/>
<circle cx="1008.8" cy="965.4" r="9.3" fill="#872071"/>
<circle cx="1079.5" cy="775.1" r="9.3" fill="#B5315C"/>
<circle cx="1070.4" cy="877" r="9.3" fill="#93236E"/>
<circle cx="1015.7" cy="936.2" r="9.3" fill="#841F72"/>
<circle cx="1035.8" cy="761.8" r="9.3" fill="#99266C"/>
<circle cx="1160.3" cy="848" r="9.3" fill="#9F2869"/>
<circle cx="1014.1" cy="951.8" r="9.3" fill="#95246E"/>
<circle cx="1044.1" cy="864.9" r="9.3" fill="#A42A66"/>
<circle cx="1050.1" cy="902.6" r="9.3" fill="#A72B64"/>
<circle cx="1141.9" cy="910.1" r="9.3" fill="#8F226F"/>
<circle cx="1054.1" cy="869.5" r="9.3" fill="#A32967"/>
<circle cx="1190.7" cy="793.7" r="9.3" fill="#D04745"/>
<circle cx="1120.6" cy="837.4" r="9.3" fill="#96256D"/>
<circle cx="1017.8" cy="861.1" r="9.3" fill="#761B75"/>
<circle cx="1055.4" cy="838.7" r="9.3" fill="#9E2869"/>
<circle cx="1167.5" cy="797.3" r="9.3" fill="#90226F"/>
<circle cx="997.6" cy="908" r="9.3" fill="#94246E"/>
<circle cx="1032.7" cy="820.3" r="9.3" fill="#8D2270"/>
<circle cx="1036.7" cy="773.4" r="9.3" fill="#862072"/>
<circle cx="1062.6" cy="834" r="9.3" fill="#A22967"/>
<circle cx="1089.6" cy="794.3" r="9.3" fill="#A52A65"/>
<circle cx="997" cy="900.6" r="9.3" fill="#7B1D74"/>
<circle cx="995.4" cy="911.5" r="9.3" fill="#8C2170"/>
<circle cx="1119.9" cy="805" r="9.3" fill="#A92C63"/>
<circle cx="1095.7" cy="832.5" r="9.3" fill="#A42A66"/>
<circle cx="1045.8" cy="835.5" r="9.3" fill="#94246E"/>
<circle cx="1043.6" cy="783.7" r="9.3" fill="#93246E"/>
<circle cx="1193.4" cy="733" r="9.3" fill="#8D2270"/>
<circle cx="1153" cy="811.2" r="9.3" fill="#C53C4F"/>
<circle cx="972.4" cy="888.1" r="9.3" fill="#6E1977"/>
<circle cx="1171.1" cy="855.1" r="9.3" fill="#A82C64"/>
<circle cx="1158.3" cy="747.2" r="9.3" fill="#872071"/>
<circle cx="1059.6" cy="814.2" r="9.3" fill="#821F72"/>
<circle cx="1071.3" cy="843.3" r="9.3" fill="#BF3854"/>
<circle cx="1164.5" cy="866.2" r="9.3" fill="#AF2E60"/>
<circle cx="1168.5" cy="819.4" r="9.3" fill="#D14745"/>
<circle cx="1060.8" cy="765" r="9.3" fill="#8F226F"/>
<circle cx="1013.1" cy="871.5" r="9.3" fill="#7D1D73"/>
<circle cx="1223.3" cy="750.8" r="9.3" fill="#8F2270"/>
<circle cx="1098.3" cy="802.3" r="9.3" fill="#AE2E60"/>
<circle cx="1138.9" cy="859.9" r="9.3" fill="#8C2170"/>
<circle cx="1130.5" cy="891.8" r="9.3" fill="#8B2170"/>
<circle cx="1054.8" cy="733" r="9.3" fill="#98256D"/>
<circle cx="1097.5" cy="812.3" r="9.3" fill="#A52B65"/>
<circle cx="1028.2" cy="833.5" r="9.3" fill="#8B2170"/>
<circle cx="1045.5" cy="859.8" r="9.3" fill="#A32A66"/>
<circle cx="1101.7" cy="858.8" r="9.3" fill="#BC3656"/>
<circle cx="1010.7" cy="936.4" r="9.3" fill="#801E73"/>
<circle cx="1010.5" cy="915.9" r="9.3" fill="#91236F"/>
<circle cx="1142.4" cy="817.7" r="9.3" fill="#8B2170"/>
<circle cx="1079.3" cy="863.1" r="9.3" fill="#91236F"/>
<circle cx="1031.3" cy="689.9" r="9.3" fill="#801E73"/>
<circle cx="1309.5" cy="744.6" r="9.3" fill="#801E73"/>
<circle cx="1171.9" cy="903.5" r="9.3" fill="#BB3557"/>
<circle cx="1136" cy="952" r="9.3" fill="#9E2869"/>
<circle cx="1223.5" cy="793.8" r="9.3" fill="#DA513C"/>
<circle cx="1198.2" cy="709.1" r="9.3" fill="#791C74"/>
<circle cx="1102.4" cy="721.9" r="9.3" fill="#801E73"/>
<circle cx="1054.4" cy="667.2" r="9.3" fill="#8B2170"/>
<circle cx="1032.2" cy="711" r="9.3" fill="#8F226F"/>
<circle cx="1221.2" cy="762.6" r="9.3" fill="#B2305E"/>
<circle cx="1223.5" cy="745.4" r="9.3" fill="#9E2869"/>
<circle cx="1220.4" cy="841" r="9.3" fill="#EE6F25"/>
<circle cx="1126.9" cy="826.4" r="9.3" fill="#FCB814"/>
</g>
<g stroke="#262626" stroke-width="3.5">
<line x1="955.6" x2="955.6" y1="991.8" y2="1002.3"/>
<line x1="1084.5" x2="1084.5" y1="991.8" y2="1002.3"/>
<line x1="1213.4" x2="1213.4" y1="991.8" y2="1002.3"/>
<line x1="936.9" x2="947.4" y1="697" y2="697"/>
<line x1="936.9" x2="947.4" y1="767" y2="767"/>
<line x1="936.9" x2="947.4" y1="837" y2="837"/>
<line x1="936.9" x2="947.4" y1="907" y2="907"/>
<line x1="936.9" x2="947.4" y1="977" y2="977"/>
</g>
<g class="t" font-size="35" fill="#4D4D4D">
<text x="954.4" y="1036.1" text-anchor="middle">0</text>
<text x="1083.3" y="1036.1" text-anchor="middle">2000</text>
<text x="1212.2" y="1036.1" text-anchor="middle">4000</text>
<text x="924.9" y="708.7" text-anchor="end">0.2</text>
<text x="924.9" y="778.7" text-anchor="end">0.1</text>
<text x="924.9" y="848.7" text-anchor="end">0.0</text>
<text x="924.9" y="918.7" text-anchor="end">−0.1</text>
<text x="924.9" y="988.7" text-anchor="end">−0.2</text>
</g>
<text class="k" x="945.9" y="616.7" font-size="51.5" fill="#000">SAT</text>
<text class="k" x="1136.1" y="1088.3" font-size="44" fill="#000" text-anchor="middle">SAT</text>
<text class="k" transform="translate(843 822) rotate(-90)" font-size="44" fill="#000" text-anchor="middle">SHAP value</text>
<defs><linearGradient id="grad-p4" x1="0" y1="0" x2="0" y2="1"><stop offset="0" stop-color="#FCB814"/><stop offset="0.02" stop-color="#FBAE1C"/><stop offset="0.0833" stop-color="#FA9F1C"/><stop offset="0.1667" stop-color="#F88E1A"/><stop offset="0.25" stop-color="#F37B1E"/><stop offset="0.3333" stop-color="#EB672A"/><stop offset="0.4167" stop-color="#D64C40"/><stop offset="0.5" stop-color="#C43B50"/><stop offset="0.5833" stop-color="#B5315C"/><stop offset="0.6667" stop-color="#A42A66"/><stop offset="0.75" stop-color="#95246E"/><stop offset="0.8333" stop-color="#841F72"/><stop offset="0.9167" stop-color="#701A76"/><stop offset="1" stop-color="#5F1580"/></linearGradient></defs>
<rect x="1348.9" y="678.3" width="71.4" height="351.2" fill="url(#grad-p4)"/>
<g stroke="#FFFFFF" stroke-width="2.3">
<line x1="1348.9" x2="1363.2" y1="680.6" y2="680.6"/>
<line x1="1406" x2="1420.3" y1="680.6" y2="680.6"/>
<line x1="1348.9" x2="1363.2" y1="770.5" y2="770.5"/>
<line x1="1406" x2="1420.3" y1="770.5" y2="770.5"/>
<line x1="1348.9" x2="1363.2" y1="859.4" y2="859.4"/>
<line x1="1406" x2="1420.3" y1="859.4" y2="859.4"/>
<line x1="1348.9" x2="1363.2" y1="949.5" y2="949.5"/>
<line x1="1406" x2="1420.3" y1="949.5" y2="949.5"/>
</g>
<g class="l" font-size="35" fill="#000">
<text x="1440.1" y="692.3">2000</text>
<text x="1440.1" y="782.2">1500</text>
<text x="1440.1" y="871.1">1000</text>
<text x="1440.1" y="961.2">500</text>
</g>
<text class="k" x="1347.9" y="651.2" font-size="44" fill="#000">VAT</text>
</g>
</g>
</svg>
</body>
</html>
